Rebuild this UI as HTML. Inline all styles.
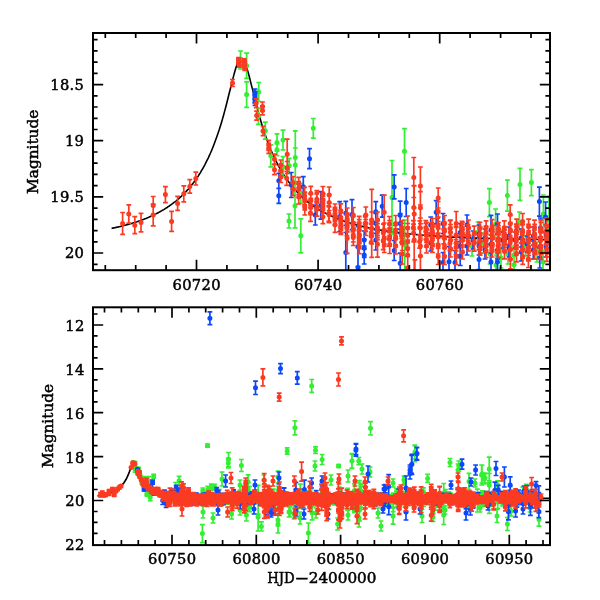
<!DOCTYPE html>
<html lang="en"><head><meta charset="utf-8"><title>Light curve</title>
<style>html,body{margin:0;padding:0;background:#fff}svg{display:block}</style></head>
<body>
<svg width="600" height="600" viewBox="0 0 600 600">
<defs><clipPath id="c1"><rect x="93.0" y="33.0" width="457.0" height="237.2"/></clipPath><clipPath id="c2"><rect x="93.0" y="307.3" width="457.0" height="237.8"/></clipPath></defs>
<rect width="600" height="600" fill="#fff"/>
<path clip-path="url(#c1)" d="M111.6 228.4L112.7 228.1L113.8 227.9L114.9 227.7L116 227.4L117.1 227.2L118.2 226.9L119.4 226.7L120.5 226.4L121.6 226.1L122.7 225.9L123.8 225.6L124.9 225.3L126 225L127.1 224.7L128.2 224.4L129.3 224.1L130.5 223.7L131.6 223.4L132.7 223.1L133.8 222.7L134.9 222.4L136 222L137.1 221.7L138.2 221.3L139.3 220.9L140.4 220.5L141.6 220.1L142.7 219.7L143.8 219.3L144.9 218.8L146 218.4L147.1 217.9L148.2 217.5L149.3 217L150.4 216.5L151.5 216L152.7 215.5L153.8 215L154.9 214.4L156 213.9L157.1 213.3L158.2 212.7L159.3 212.1L160.4 211.5L161.5 210.9L162.6 210.2L163.8 209.6L164.9 208.9L166 208.2L167.1 207.5L168.2 206.7L169.3 206L170.4 205.2L171.5 204.4L172.6 203.6L173.7 202.7L174.9 201.9L176 201L177.1 200L178.2 199.1L179.3 198.1L180.4 197.1L181.5 196.1L182.6 195L183.7 193.9L184.8 192.8L186 191.6L187.1 190.4L188.2 189.2L189.3 187.9L190.4 186.6L191.5 185.2L192.6 183.8L193.7 182.4L194.8 180.9L195.9 179.3L197.1 177.7L198.2 176.1L199.3 174.3L200.4 172.6L201.5 170.7L202.6 168.8L203.7 166.8L204.8 164.8L205.9 162.6L207 160.4L208.2 158.1L209.3 155.7L210.4 153.3L211.5 150.7L212.6 148L213.7 145.2L214.8 142.3L215.9 139.3L217 136.2L218.1 133L219.3 129.6L220.4 126.1L221.5 122.4L222.6 118.6L223.7 114.7L224.8 110.6L225.9 106.5L227 102.2L228.1 97.8L229.2 93.3L230.4 88.8L231.5 84.3L232.6 79.9L233.7 75.6L234.8 71.5L235.9 67.8L237 64.5L238.1 61.8L239.2 59.8L240.3 58.6L241.5 58.2L242.6 58.7L243.7 60.1L244.8 62.2L245.9 65L247 68.4L248.1 72.2L249.2 76.3L250.3 80.6L251.4 85.1L252.6 89.6L253.7 94.1L254.8 98.5L255.9 102.9L257 107.2L258.1 111.4L259.2 115.4L260.3 119.3L261.4 123L262.5 126.7L263.6 130.2L264.8 133.5L265.9 136.8L267 139.9L268.1 142.8L269.2 145.7L270.3 148.5L271.4 151.1L272.5 153.7L273.6 156.2L274.7 158.5L275.9 160.8L277 163L278.1 165.1L279.2 167.2L280.3 169.1L281.4 171L282.5 172.9L283.6 174.6L284.7 176.3L285.8 178L287 179.6L288.1 181.1L289.2 182.6L290.3 184.1L291.4 185.5L292.5 186.8L293.6 188.1L294.7 189.4L295.8 190.6L296.9 191.8L298.1 193L299.2 194.1L300.3 195.2L301.4 196.3L302.5 197.3L303.6 198.3L304.7 199.3L305.8 200.2L306.9 201.1L308 202L309.2 202.9L310.3 203.7L311.4 204.5L312.5 205.3L313.6 206.1L314.7 206.9L315.8 207.6L316.9 208.3L318 209L319.1 209.7L320.3 210.3L321.4 211L322.5 211.6L323.6 212.2L324.7 212.8L325.8 213.4L326.9 214L328 214.5L329.1 215L330.2 215.6L331.4 216.1L332.5 216.6L333.6 217.1L334.7 217.5L335.8 218L336.9 218.5L338 218.9L339.1 219.3L340.2 219.8L341.3 220.2L342.5 220.6L343.6 221L344.7 221.3L345.8 221.7L346.9 222.1L348 222.4L349.1 222.8L350.2 223.1L351.3 223.5L352.4 223.8L353.6 224.1L354.7 224.4L355.8 224.7L356.9 225L358 225.3L359.1 225.6L360.2 225.9L361.3 226.2L362.4 226.4L363.5 226.7L364.7 227L365.8 227.2L366.9 227.5L368 227.7L369.1 227.9L370.2 228.2L371.3 228.4L372.4 228.6L373.5 228.8L374.6 229L375.8 229.3L376.9 229.5L378 229.7L379.1 229.8L380.2 230L381.3 230.2L382.4 230.4L383.5 230.6L384.6 230.8L385.7 230.9L386.9 231.1L388 231.3L389.1 231.4L390.2 231.6L391.3 231.8L392.4 231.9L393.5 232.1L394.6 232.2L395.7 232.4L396.8 232.5L398 232.6L399.1 232.8L400.2 232.9L401.3 233L402.4 233.2L403.5 233.3L404.6 233.4L405.7 233.5L406.8 233.7L407.9 233.8L409 233.9L410.2 234L411.3 234.1L412.4 234.2L413.5 234.3L414.6 234.4L415.7 234.5L416.8 234.6L417.9 234.7L419 234.8L420.1 234.9L421.3 235L422.4 235.1L423.5 235.2L424.6 235.3L425.7 235.4L426.8 235.5L427.9 235.5L429 235.6L430.1 235.7L431.2 235.8L432.4 235.9L433.5 235.9L434.6 236L435.7 236.1L436.8 236.2L437.9 236.2L439 236.3L440.1 236.4L441.2 236.4L442.3 236.5L443.5 236.6L444.6 236.6L445.7 236.7L446.8 236.8L447.9 236.8L449 236.9L450.1 236.9L451.2 237L452.3 237.1L453.4 237.1L454.6 237.2L455.7 237.2L456.8 237.3L457.9 237.3L459 237.4L460.1 237.4L461.2 237.5L462.3 237.5L463.4 237.6L464.5 237.6L465.7 237.7L466.8 237.7L467.9 237.8L469 237.8L470.1 237.9L471.2 237.9L472.3 237.9L473.4 238L474.5 238L475.6 238.1L476.8 238.1L477.9 238.1L479 238.2L480.1 238.2L481.2 238.3L482.3 238.3L483.4 238.3L484.5 238.4L485.6 238.4L486.7 238.4L487.9 238.5L489 238.5L490.1 238.5L491.2 238.6L492.3 238.6L493.4 238.6L494.5 238.7L495.6 238.7L496.7 238.7L497.8 238.7L499 238.8L500.1 238.8L501.2 238.8L502.3 238.9L503.4 238.9L504.5 238.9L505.6 238.9L506.7 239L507.8 239L508.9 239L510.1 239L511.2 239.1L512.3 239.1L513.4 239.1L514.5 239.1L515.6 239.2L516.7 239.2L517.8 239.2L518.9 239.2L520 239.2L521.2 239.3L522.3 239.3L523.4 239.3L524.5 239.3L525.6 239.3L526.7 239.4L527.8 239.4L528.9 239.4L530 239.4L531.1 239.4L532.3 239.5L533.4 239.5L534.5 239.5L535.6 239.5L536.7 239.5L537.8 239.5L538.9 239.6L540 239.6L541.1 239.6L542.2 239.6L543.4 239.6L544.5 239.6L545.6 239.7L546.7 239.7L547.8 239.7L548.9 239.7L550 239.7L551.1 239.7L552.2 239.8L553.3 239.8L554.5 239.8" fill="none" stroke="#000" stroke-width="1.6"/>
<path clip-path="url(#c2)" d="M97.5 495.8L98.4 495.7L99.3 495.6L100.2 495.4L101.1 495.2L102 495.1L102.9 494.9L103.9 494.7L104.8 494.5L105.7 494.2L106.6 494L107.5 493.7L108.4 493.5L109.3 493.2L110.2 492.8L111.2 492.5L112.1 492.1L113 491.7L113.9 491.3L114.8 490.8L115.7 490.3L116.6 489.7L117.6 489.1L118.5 488.4L119.4 487.7L120.3 486.9L121.2 486L122.1 485L123 483.9L123.9 482.7L124.9 481.3L125.8 479.8L126.7 478.1L127.6 476.2L128.5 474.1L129.4 471.7L130.3 469.1L131.2 466.6L132.2 464.3L133.1 462.8L134 462.6L134.9 463.8L135.8 466L136.7 468.6L137.6 471.1L138.6 473.6L139.5 475.7L140.4 477.7L141.3 479.5L142.2 481L143.1 482.4L144 483.7L144.9 484.8L145.9 485.8L146.8 486.7L147.7 487.5L148.6 488.3L149.5 489L150.4 489.6L151.3 490.2L152.3 490.7L153.2 491.2L154.1 491.6L155 492L155.9 492.4L156.8 492.8L157.7 493.1L158.6 493.4L159.6 493.7L160.5 493.9L161.4 494.2L162.3 494.4L163.2 494.6L164.1 494.8L165 495L165.9 495.2L166.9 495.4L167.8 495.5L168.7 495.7L169.6 495.8L170.5 495.9L171.4 496L172.3 496.2L173.3 496.3L174.2 496.4L175.1 496.5L176 496.6L176.9 496.6L177.8 496.7L178.7 496.8L179.6 496.9L180.6 496.9L181.5 497L182.4 497L183.3 497.1L184.2 497.2L185.1 497.2L186 497.3L187 497.3L187.9 497.3L188.8 497.4L189.7 497.4L190.6 497.5L191.5 497.5L192.4 497.5L193.3 497.6L194.3 497.6L195.2 497.6L196.1 497.7L197 497.7L197.9 497.7L198.8 497.7L199.7 497.7L200.6 497.8L201.6 497.8L202.5 497.8L203.4 497.8L204.3 497.8L205.2 497.9L206.1 497.9L207 497.9L208 497.9L208.9 497.9L209.8 497.9L210.7 498L211.6 498L212.5 498L213.4 498L214.3 498L215.3 498L216.2 498L217.1 498L218 498L218.9 498L219.8 498.1L220.7 498.1L221.7 498.1L222.6 498.1L223.5 498.1L224.4 498.1L225.3 498.1L226.2 498.1L227.1 498.1L228 498.1L229 498.1L229.9 498.1L230.8 498.1L231.7 498.1L232.6 498.1L233.5 498.2L234.4 498.2L235.3 498.2L236.3 498.2L237.2 498.2L238.1 498.2L239 498.2L239.9 498.2L240.8 498.2L241.7 498.2L242.7 498.2L243.6 498.2L244.5 498.2L245.4 498.2L246.3 498.2L247.2 498.2L248.1 498.2L249 498.2L250 498.2L250.9 498.2L251.8 498.2L252.7 498.2L253.6 498.2L254.5 498.2L255.4 498.2L256.4 498.2L257.3 498.2L258.2 498.2L259.1 498.2L260 498.2L260.9 498.2L261.8 498.2L262.7 498.2L263.7 498.2L264.6 498.2L265.5 498.2L266.4 498.2L267.3 498.2L268.2 498.3L269.1 498.3L270 498.3L271 498.3L271.9 498.3L272.8 498.3L273.7 498.3L274.6 498.3L275.5 498.3L276.4 498.3L277.4 498.3L278.3 498.3L279.2 498.3L280.1 498.3L281 498.3L281.9 498.3L282.8 498.3L283.7 498.3L284.7 498.3L285.6 498.3L286.5 498.3L287.4 498.3L288.3 498.3L289.2 498.3L290.1 498.3L291.1 498.3L292 498.3L292.9 498.3L293.8 498.3L294.7 498.3L295.6 498.3L296.5 498.3L297.4 498.3L298.4 498.3L299.3 498.3L300.2 498.3L301.1 498.3L302 498.3L302.9 498.3L303.8 498.3L304.7 498.3L305.7 498.3L306.6 498.3L307.5 498.3L308.4 498.3L309.3 498.3L310.2 498.3L311.1 498.3L312.1 498.3L313 498.3L313.9 498.3L314.8 498.3L315.7 498.3L316.6 498.3L317.5 498.3L318.4 498.3L319.4 498.3L320.3 498.3L321.2 498.3L322.1 498.3L323 498.3L323.9 498.3L324.8 498.3L325.8 498.3L326.7 498.3L327.6 498.3L328.5 498.3L329.4 498.3L330.3 498.3L331.2 498.3L332.1 498.3L333.1 498.3L334 498.3L334.9 498.3L335.8 498.3L336.7 498.3L337.6 498.3L338.5 498.3L339.4 498.3L340.4 498.3L341.3 498.3L342.2 498.3L343.1 498.3L344 498.3L344.9 498.3L345.8 498.3L346.8 498.3L347.7 498.3L348.6 498.3L349.5 498.3L350.4 498.3L351.3 498.3L352.2 498.3L353.1 498.3L354.1 498.3L355 498.3L355.9 498.3L356.8 498.3L357.7 498.3L358.6 498.3L359.5 498.3L360.5 498.3L361.4 498.3L362.3 498.3L363.2 498.3L364.1 498.3L365 498.3L365.9 498.3L366.8 498.3L367.8 498.3L368.7 498.3L369.6 498.3L370.5 498.3L371.4 498.3L372.3 498.3L373.2 498.3L374.1 498.3L375.1 498.3L376 498.3L376.9 498.3L377.8 498.3L378.7 498.3L379.6 498.3L380.5 498.3L381.5 498.3L382.4 498.3L383.3 498.3L384.2 498.3L385.1 498.3L386 498.3L386.9 498.3L387.8 498.3L388.8 498.3L389.7 498.3L390.6 498.3L391.5 498.3L392.4 498.3L393.3 498.3L394.2 498.3L395.2 498.3L396.1 498.3L397 498.3L397.9 498.3L398.8 498.3L399.7 498.3L400.6 498.3L401.5 498.3L402.5 498.3L403.4 498.3L404.3 498.3L405.2 498.3L406.1 498.3L407 498.3L407.9 498.3L408.8 498.3L409.8 498.3L410.7 498.3L411.6 498.3L412.5 498.3L413.4 498.3L414.3 498.3L415.2 498.3L416.2 498.3L417.1 498.3L418 498.3L418.9 498.3L419.8 498.3L420.7 498.3L421.6 498.3L422.5 498.3L423.5 498.3L424.4 498.3L425.3 498.3L426.2 498.3L427.1 498.3L428 498.3L428.9 498.3L429.9 498.3L430.8 498.3L431.7 498.3L432.6 498.3L433.5 498.3L434.4 498.3L435.3 498.3L436.2 498.3L437.2 498.3L438.1 498.3L439 498.3L439.9 498.3L440.8 498.3L441.7 498.3L442.6 498.3L443.5 498.3L444.5 498.3L445.4 498.3L446.3 498.3L447.2 498.3L448.1 498.3L449 498.3L449.9 498.3L450.9 498.3L451.8 498.3L452.7 498.3L453.6 498.3L454.5 498.3L455.4 498.3L456.3 498.3L457.2 498.3L458.2 498.3L459.1 498.3L460 498.3L460.9 498.3L461.8 498.3L462.7 498.3L463.6 498.3L464.6 498.3L465.5 498.3L466.4 498.3L467.3 498.3L468.2 498.3L469.1 498.3L470 498.3L470.9 498.3L471.9 498.3L472.8 498.3L473.7 498.3L474.6 498.3L475.5 498.3L476.4 498.3L477.3 498.3L478.2 498.3L479.2 498.3L480.1 498.3L481 498.3L481.9 498.3L482.8 498.3L483.7 498.3L484.6 498.3L485.6 498.3L486.5 498.3L487.4 498.3L488.3 498.3L489.2 498.3L490.1 498.3L491 498.3L491.9 498.3L492.9 498.3L493.8 498.3L494.7 498.3L495.6 498.3L496.5 498.3L497.4 498.3L498.3 498.3L499.3 498.3L500.2 498.3L501.1 498.3L502 498.3L502.9 498.3L503.8 498.3L504.7 498.3L505.6 498.3L506.6 498.3L507.5 498.3L508.4 498.3L509.3 498.3L510.2 498.3L511.1 498.3L512 498.3L512.9 498.3L513.9 498.3L514.8 498.3L515.7 498.3L516.6 498.3L517.5 498.3L518.4 498.3L519.3 498.3L520.3 498.3L521.2 498.3L522.1 498.3L523 498.3L523.9 498.3L524.8 498.3L525.7 498.3L526.6 498.3L527.6 498.3L528.5 498.3L529.4 498.3L530.3 498.3L531.2 498.3L532.1 498.3L533 498.3L534 498.3L534.9 498.3L535.8 498.3L536.7 498.3L537.6 498.3L538.5 498.3L539.4 498.3L540.3 498.3L541.3 498.3L542.2 498.3L543.1 498.3L544 498.3L544.9 498.3L545.8 498.3L546.7 498.3L547.6 498.3L548.6 498.3L549.5 498.3L550.4 498.3L551.3 498.3L552.2 498.3L553.1 498.3" fill="none" stroke="#000" stroke-width="1.7"/>
<g clip-path="url(#c1)" stroke="#33ee33" fill="none"><path stroke-width="1.7" d="M240.5 51V69M238.1 51h4.8M238.1 69h4.8M246.6 53.1V78.3M244.2 53.1h4.8M244.2 78.3h4.8M246.6 81.8V107.4M244.2 81.8h4.8M244.2 107.4h4.8M258.7 82.5V101.5M256.3 82.5h4.8M256.3 101.5h4.8M258.4 108.3V124.3M256 108.3h4.8M256 124.3h4.8M265.3 122.2V139.2M262.9 122.2h4.8M262.9 139.2h4.8M270.8 144.8V166.8M268.4 144.8h4.8M268.4 166.8h4.8M277 133.8V151.2M274.6 133.8h4.8M274.6 151.2h4.8M277 143.7V155.7M274.6 143.7h4.8M274.6 155.7h4.8M283 130.2V149.8M280.6 130.2h4.8M280.6 149.8h4.8M283 156.7V176.7M280.6 156.7h4.8M280.6 176.7h4.8M289.2 158.3V173.3M286.8 158.3h4.8M286.8 173.3h4.8M295.3 130.8V184.2M292.9 130.8h4.8M292.9 184.2h4.8M295.3 148V182M292.9 148h4.8M292.9 182h4.8M295 183.8V227.8M292.6 183.8h4.8M292.6 227.8h4.8M289 214V228M286.6 214h4.8M286.6 228h4.8M300.8 183.3V203.3M298.4 183.3h4.8M298.4 203.3h4.8M300.8 218.8V252.8M298.4 218.8h4.8M298.4 252.8h4.8M313.3 118.5V138.1M310.9 118.5h4.8M310.9 138.1h4.8M392 160.5V234.5M389.6 160.5h4.8M389.6 234.5h4.8M404.5 128.6V174M402.1 128.6h4.8M402.1 174h4.8M404.7 220V270M402.3 220h4.8M402.3 270h4.8M489.4 188.6V216.6M487 188.6h4.8M487 216.6h4.8M507.4 180.1V211.1M505 180.1h4.8M505 211.1h4.8M520 168.4V200.4M517.6 168.4h4.8M517.6 200.4h4.8M531.4 169.6V195.6M529 169.6h4.8M529 195.6h4.8M495.6 209V239M493.2 209h4.8M493.2 239h4.8M519.4 212V232M517 212h4.8M517 232h4.8M543.4 195V233M541 195h4.8M541 233h4.8M549 196V244M546.6 196h4.8M546.6 244h4.8M506.4 -35.2V-19.9M504 -35.2h4.8M504 -19.9h4.8M558.4 106.7V178.2M556 106.7h4.8M556 178.2h4.8M488.1 375.2V467.1M485.7 375.2h4.8M485.7 467.1h4.8M490.2 280.3V341.5M487.8 280.3h4.8M487.8 341.5h4.8M526.1 316V367.1M523.7 316h4.8M523.7 367.1h4.8M496 255V275M493.6 255h4.8M493.6 275h4.8M514 246V264M511.6 246h4.8M511.6 264h4.8M514 254.7V274.7M511.6 254.7h4.8M511.6 274.7h4.8M508 244V264M505.6 244h4.8M505.6 264h4.8M490 244V264M487.6 244h4.8M487.6 264h4.8M501 248V268M498.6 248h4.8M498.6 268h4.8M543 250V274M540.6 250h4.8M540.6 274h4.8M484 233V253M481.6 233h4.8M481.6 253h4.8M478 222V242M475.6 222h4.8M475.6 242h4.8M502 230V250M499.6 230h4.8M499.6 250h4.8M525.5 236V256M523.1 236h4.8M523.1 256h4.8M537 242V262M534.6 242h4.8M534.6 262h4.8M472 236V256M469.6 236h4.8M469.6 256h4.8M555.4 230V257M553 230h4.8M553 257h4.8M555 242.7V279.5M552.6 242.7h4.8M552.6 279.5h4.8"/><path stroke-width="5" stroke-linecap="round" d="M240.5 60h0M246.6 65.7h0M246.6 94.6h0M258.7 92h0M258.4 116.3h0M265.3 130.7h0M270.8 155.8h0M277 142.5h0M277 149.7h0M283 140h0M283 166.7h0M289.2 165.8h0M295.3 157.5h0M295.3 165h0M295 205.8h0M289 221h0M300.8 193.3h0M300.8 235.8h0M313.3 128.3h0M392 197.5h0M404.5 151.3h0M404.7 245h0M489.4 202.6h0M507.4 195.6h0M520 184.4h0M531.4 182.6h0M495.6 224h0M519.4 222h0M543.4 214h0M549 220h0M506.4 -27.5h0M558.4 142.4h0M488.1 421.2h0M490.2 310.9h0M526.1 341.5h0M496 265h0M514 255h0M514 264.7h0M508 254h0M490 254h0M501 258h0M543 262h0M484 243h0M478 232h0M502 240h0M525.5 246h0M537 252h0M472 246h0M555.4 243.5h0M555 261.1h0"/></g>
<g clip-path="url(#c1)" stroke="#0c48fa" fill="none"><path stroke-width="1.7" d="M255 89V97M252.6 89h4.8M252.6 97h4.8M255 91.5V99.5M252.6 91.5h4.8M252.6 99.5h4.8M254.8 94.8V102.8M252.4 94.8h4.8M252.4 102.8h4.8M255 97.3V105.3M252.6 97.3h4.8M252.6 105.3h4.8M278.8 173.3V188.3M276.4 173.3h4.8M276.4 188.3h4.8M278.8 188.3V203.3M276.4 188.3h4.8M276.4 203.3h4.8M291.3 172.5V197.5M288.9 172.5h4.8M288.9 197.5h4.8M303.3 176.7V196.7M300.9 176.7h4.8M300.9 196.7h4.8M309.5 148.7V168.7M307.1 148.7h4.8M307.1 168.7h4.8M315.3 205V225M312.9 205h4.8M312.9 225h4.8M320.8 191.7V219.1M318.4 191.7h4.8M318.4 219.1h4.8M339.7 201.7V231.7M337.3 201.7h4.8M337.3 231.7h4.8M345.8 201.3V225.3M343.4 201.3h4.8M343.4 225.3h4.8M345.8 232.5V272.5M343.4 232.5h4.8M343.4 272.5h4.8M352 199.6V229.6M349.6 199.6h4.8M349.6 229.6h4.8M358 226.7V266.7M355.6 226.7h4.8M355.6 266.7h4.8M358 247.5V287.5M355.6 247.5h4.8M355.6 287.5h4.8M364.2 231V249M361.8 231h4.8M361.8 249h4.8M364.2 239.3V257.3M361.8 239.3h4.8M361.8 257.3h4.8M364.2 246V264M361.8 246h4.8M361.8 264h4.8M375.8 201.7V221.7M373.4 201.7h4.8M373.4 221.7h4.8M375.8 213.3V233.3M373.4 213.3h4.8M373.4 233.3h4.8M375.8 230V250M373.4 230h4.8M373.4 250h4.8M382.2 195.2V217.2M379.8 195.2h4.8M379.8 217.2h4.8M394.2 174.9V198.9M391.8 174.9h4.8M391.8 198.9h4.8M394.2 240.5V260.5M391.8 240.5h4.8M391.8 260.5h4.8M400.2 201.2V229.2M397.8 201.2h4.8M397.8 229.2h4.8M400.2 213.5V233.5M397.8 213.5h4.8M397.8 233.5h4.8M400.2 253.2V273.2M397.8 253.2h4.8M397.8 273.2h4.8M406.2 188.5V216.5M403.8 188.5h4.8M403.8 216.5h4.8M430.7 217V233M428.3 217h4.8M428.3 233h4.8M430.7 235V251M428.3 235h4.8M428.3 251h4.8M436.2 200.6V223.8M433.8 200.6h4.8M433.8 223.8h4.8M443 213.5V233.5M440.6 213.5h4.8M440.6 233.5h4.8M443 252.5V272.5M440.6 252.5h4.8M440.6 272.5h4.8M449 246.7V276.7M446.6 246.7h4.8M446.6 276.7h4.8M455 250.5V274.5M452.6 250.5h4.8M452.6 274.5h4.8M460.2 223.5V241.5M457.8 223.5h4.8M457.8 241.5h4.8M460.2 237V255M457.8 237h4.8M457.8 255h4.8M460.2 247.5V265.5M457.8 247.5h4.8M457.8 265.5h4.8M467 215V235M464.6 215h4.8M464.6 235h4.8M539.4 187.1V216.1M537 187.1h4.8M537 216.1h4.8M545.6 202V232M543.2 202h4.8M543.2 232h4.8M540.4 218V238M538 218h4.8M538 238h4.8M491 215.4V244.6M488.6 215.4h4.8M488.6 244.6h4.8M479 249.6V269.6M476.6 249.6h4.8M476.6 269.6h4.8M515 -711.1V-645.7M512.6 -711.1h4.8M512.6 -645.7h4.8M544 275.2V326.2M541.6 275.2h4.8M541.6 326.2h4.8M479 225V243M476.6 225h4.8M476.6 243h4.8M479 237V255M476.6 237h4.8M476.6 255h4.8M485 229V247M482.6 229h4.8M482.6 247h4.8M485 241V259M482.6 241h4.8M482.6 259h4.8M491 235V253M488.6 235h4.8M488.6 253h4.8M491 253V271M488.6 253h4.8M488.6 271h4.8M497.5 214V234M495.1 214h4.8M495.1 234h4.8M497.5 241V259M495.1 241h4.8M495.1 259h4.8M497.5 253V271M495.1 253h4.8M495.1 271h4.8M503 232V248M500.6 232h4.8M500.6 248h4.8M509 227V245M506.6 227h4.8M506.6 245h4.8M509 239V257M506.6 239h4.8M506.6 257h4.8M515.1 232V248M512.7 232h4.8M512.7 248h4.8M521.2 229V247M518.8 229h4.8M518.8 247h4.8M521.2 243V261M518.8 243h4.8M518.8 261h4.8M527.2 236V252M524.8 236h4.8M524.8 252h4.8M533.3 227V245M530.9 227h4.8M530.9 245h4.8M533.3 241V259M530.9 241h4.8M530.9 259h4.8M539.8 237V257M537.4 237h4.8M537.4 257h4.8M539.8 248V268M537.4 248h4.8M537.4 268h4.8M546 224.6V244.6M543.6 224.6h4.8M543.6 244.6h4.8M546 237V257M543.6 237h4.8M543.6 257h4.8M473 231V249M470.6 231h4.8M470.6 249h4.8M467 237V255M464.6 237h4.8M464.6 255h4.8"/><path stroke-width="5" stroke-linecap="round" d="M255 93h0M255 95.5h0M254.8 98.8h0M255 101.3h0M278.8 180.8h0M278.8 195.8h0M291.3 185h0M303.3 186.7h0M309.5 158.7h0M315.3 215h0M320.8 205.4h0M339.7 216.7h0M345.8 213.3h0M345.8 252.5h0M352 214.6h0M358 246.7h0M358 267.5h0M364.2 240h0M364.2 248.3h0M364.2 255h0M375.8 211.7h0M375.8 223.3h0M375.8 240h0M382.2 206.2h0M394.2 186.9h0M394.2 250.5h0M400.2 215.2h0M400.2 223.5h0M400.2 263.2h0M406.2 202.5h0M430.7 225h0M430.7 243h0M436.2 212.2h0M443 223.5h0M443 262.5h0M449 261.7h0M455 262.5h0M460.2 232.5h0M460.2 246h0M460.2 256.5h0M467 225h0M539.4 201.6h0M545.6 217h0M540.4 228h0M491 230h0M479 259.6h0M515 -678.4h0M544 300.7h0M479 234h0M479 246h0M485 238h0M485 250h0M491 244h0M491 262h0M497.5 224h0M497.5 250h0M497.5 262h0M503 240h0M509 236h0M509 248h0M515.1 240h0M521.2 238h0M521.2 252h0M527.2 244h0M533.3 236h0M533.3 250h0M539.8 247h0M539.8 258h0M546 234.6h0M546 247h0M473 240h0M467 246h0"/></g>
<g clip-path="url(#c1)" stroke="#fb3a22" fill="none"><path stroke-width="1.7" d="M122.6 212.5V234.3M120.2 212.5h4.8M120.2 234.3h4.8M128.8 204.8V223.2M126.4 204.8h4.8M126.4 223.2h4.8M134.8 216.7V233.7M132.4 216.7h4.8M132.4 233.7h4.8M141 213.4V231.8M138.6 213.4h4.8M138.6 231.8h4.8M153.2 196.5V214.3M150.8 196.5h4.8M150.8 214.3h4.8M153.2 204.2V225.8M150.8 204.2h4.8M150.8 225.8h4.8M165.4 186.6V202.6M163 186.6h4.8M163 202.6h4.8M171.6 211.4V231.4M169.2 211.4h4.8M169.2 231.4h4.8M177.6 196.4V210.4M175.2 196.4h4.8M175.2 210.4h4.8M183.8 185.8V201.8M181.4 185.8h4.8M181.4 201.8h4.8M189.8 179.7V193.1M187.4 179.7h4.8M187.4 193.1h4.8M195.8 172.2V185M193.4 172.2h4.8M193.4 185h4.8M232.5 79.5V86.5M230.1 79.5h4.8M230.1 86.5h4.8M238.4 57.5V62.5M236 57.5h4.8M236 62.5h4.8M238.6 58.8V63.8M236.2 58.8h4.8M236.2 63.8h4.8M238.9 60.1V65.1M236.5 60.1h4.8M236.5 65.1h4.8M239.2 61.4V66.4M236.8 61.4h4.8M236.8 66.4h4.8M239.4 62.2V67.2M237 62.2h4.8M237 67.2h4.8M244.2 58.8V65.2M241.8 58.8h4.8M241.8 65.2h4.8M244.4 60.5V66.9M242 60.5h4.8M242 66.9h4.8M244.6 62V68.6M242.2 62h4.8M242.2 68.6h4.8M244.8 63.6V70.4M242.4 63.6h4.8M242.4 70.4h4.8M256.2 98.9V107.7M253.8 98.9h4.8M253.8 107.7h4.8M256.6 111.1V120.1M254.2 111.1h4.8M254.2 120.1h4.8M262.5 102V111M260.1 102h4.8M260.1 111h4.8M262.5 105.9V114.9M260.1 105.9h4.8M260.1 114.9h4.8M263 126.3V135.7M260.6 126.3h4.8M260.6 135.7h4.8M268.7 140.3V150.3M266.3 140.3h4.8M266.3 150.3h4.8M268.7 143.3V153.3M266.3 143.3h4.8M266.3 153.3h4.8M274.5 154.2V164.2M272.1 154.2h4.8M272.1 164.2h4.8M274.5 164.7V174.7M272.1 164.7h4.8M272.1 174.7h4.8M280.8 160V170M278.4 160h4.8M278.4 170h4.8M280.8 165.8V175.8M278.4 165.8h4.8M278.4 175.8h4.8M280.8 171.5V182.5M278.4 171.5h4.8M278.4 182.5h4.8M287.2 139.2V169.2M284.8 139.2h4.8M284.8 169.2h4.8M287.2 161.5V173.5M284.8 161.5h4.8M284.8 173.5h4.8M286.7 171.3V185.3M284.3 171.3h4.8M284.3 185.3h4.8M293 176.5V188.5M290.6 176.5h4.8M290.6 188.5h4.8M293 182.7V195.7M290.6 182.7h4.8M290.6 195.7h4.8M298.7 177.3V190.3M296.3 177.3h4.8M296.3 190.3h4.8M298.7 181.5V194.5M296.3 181.5h4.8M296.3 194.5h4.8M298.7 190V204M296.3 190h4.8M296.3 204h4.8M304.8 192.2V206.2M302.4 192.2h4.8M302.4 206.2h4.8M304.8 200V215M302.4 200h4.8M302.4 215h4.8M310.8 186.3V200.3M308.4 186.3h4.8M308.4 200.3h4.8M310.8 193.8V207.8M308.4 193.8h4.8M308.4 207.8h4.8M310.8 198.3V213.3M308.4 198.3h4.8M308.4 213.3h4.8M317 192.5V206.5M314.6 192.5h4.8M314.6 206.5h4.8M317 202.2V216.2M314.6 202.2h4.8M314.6 216.2h4.8M322.9 186.5V200.5M320.5 186.5h4.8M320.5 200.5h4.8M322.9 193.8V207.8M320.5 193.8h4.8M320.5 207.8h4.8M322.9 198.8V212.8M320.5 198.8h4.8M320.5 212.8h4.8M322.9 209.7V223.7M320.5 209.7h4.8M320.5 223.7h4.8M329.2 187V203M326.8 187h4.8M326.8 203h4.8M329.2 194.5V210.5M326.8 194.5h4.8M326.8 210.5h4.8M335 204V216M332.6 204h4.8M332.6 216h4.8M335 209V221M332.6 209h4.8M332.6 221h4.8M335 213.2V225.2M332.6 213.2h4.8M332.6 225.2h4.8M340.8 203.8V217.8M338.4 203.8h4.8M338.4 217.8h4.8M340.8 213V227M338.4 213h4.8M338.4 227h4.8M340.8 216.3V230.3M338.4 216.3h4.8M338.4 230.3h4.8M340.8 220.5V234.5M338.4 220.5h4.8M338.4 234.5h4.8M347.2 208V222M344.8 208h4.8M344.8 222h4.8M347.2 213V227M344.8 213h4.8M344.8 227h4.8M347.2 218V232M344.8 218h4.8M344.8 232h4.8M347.2 223.3V253.3M344.8 223.3h4.8M344.8 253.3h4.8M353.3 207.5V222.5M350.9 207.5h4.8M350.9 222.5h4.8M353.3 216.3V230.3M350.9 216.3h4.8M350.9 230.3h4.8M353.3 222.2V236.2M350.9 222.2h4.8M350.9 236.2h4.8M353.3 228V242M350.9 228h4.8M350.9 242h4.8M359.2 216.3V230.3M356.8 216.3h4.8M356.8 230.3h4.8M359.2 219.7V233.7M356.8 219.7h4.8M356.8 233.7h4.8M359.2 229.7V243.7M356.8 229.7h4.8M356.8 243.7h4.8M359.2 234.7V248.7M356.8 234.7h4.8M356.8 248.7h4.8M359.2 239.7V253.7M356.8 239.7h4.8M356.8 253.7h4.8M365.8 207V223M363.4 207h4.8M363.4 223h4.8M365.8 215.3V231.3M363.4 215.3h4.8M363.4 231.3h4.8M365.8 219.5V235.5M363.4 219.5h4.8M363.4 235.5h4.8M371.7 212V228M369.3 212h4.8M369.3 228h4.8M371.7 220.3V236.3M369.3 220.3h4.8M369.3 236.3h4.8M371.7 227.8V243.8M369.3 227.8h4.8M369.3 243.8h4.8M371.7 189.3V257.3M369.3 189.3h4.8M369.3 257.3h4.8M377.5 212V228M375.1 212h4.8M375.1 228h4.8M377.5 223.7V239.7M375.1 223.7h4.8M375.1 239.7h4.8M377.5 231.2V257.2M375.1 231.2h4.8M375.1 257.2h4.8M384.2 195.2V229.2M381.8 195.2h4.8M381.8 229.2h4.8M384.2 223V239M381.8 223h4.8M381.8 239h4.8M384.2 230.5V246.5M381.8 230.5h4.8M381.8 246.5h4.8M384.2 236.5V252.5M381.8 236.5h4.8M381.8 252.5h4.8M389.7 220.5V238.5M387.3 220.5h4.8M387.3 238.5h4.8M389.7 228V246M387.3 228h4.8M387.3 246h4.8M389.7 235.5V253.5M387.3 235.5h4.8M387.3 253.5h4.8M395.7 215.5V231.5M393.3 215.5h4.8M393.3 231.5h4.8M395.7 223V239M393.3 223h4.8M393.3 239h4.8M395.7 230.5V246.5M393.3 230.5h4.8M393.3 246.5h4.8M395.7 238V254M393.3 238h4.8M393.3 254h4.8M402.2 220.5V238.5M399.8 220.5h4.8M399.8 238.5h4.8M402.2 226.5V244.5M399.8 226.5h4.8M399.8 244.5h4.8M402.2 232.5V250.5M399.8 232.5h4.8M399.8 250.5h4.8M402.2 244V264M399.8 244h4.8M399.8 264h4.8M407.7 216V240M405.3 216h4.8M405.3 240h4.8M407.7 223.5V247.5M405.3 223.5h4.8M405.3 247.5h4.8M407.7 243V267M405.3 243h4.8M405.3 267h4.8M407.7 256V280M405.3 256h4.8M405.3 280h4.8M413.8 157.5V197.5M411.4 157.5h4.8M411.4 197.5h4.8M413.8 185.5V229.5M411.4 185.5h4.8M411.4 229.5h4.8M414.2 186V242M411.8 186h4.8M411.8 242h4.8M414.2 208V272M411.8 208h4.8M411.8 272h4.8M420.4 167V205M418 167h4.8M418 205h4.8M420.4 191.7V223.7M418 191.7h4.8M418 223.7h4.8M420.4 218V238M418 218h4.8M418 238h4.8M420.4 236V256M418 236h4.8M418 256h4.8M420.4 240V272M418 240h4.8M418 272h4.8M426.5 222.5V236.5M424.1 222.5h4.8M424.1 236.5h4.8M426.5 228.5V242.5M424.1 228.5h4.8M424.1 242.5h4.8M426.5 233V247M424.1 233h4.8M424.1 247h4.8M426.5 239V253M424.1 239h4.8M424.1 253h4.8M432.5 218.5V234.5M430.1 218.5h4.8M430.1 234.5h4.8M432.5 224.5V240.5M430.1 224.5h4.8M430.1 240.5h4.8M432.5 230.5V246.5M430.1 230.5h4.8M430.1 246.5h4.8M432.5 236.5V252.5M430.1 236.5h4.8M430.1 252.5h4.8M438.2 188V208M435.8 188h4.8M435.8 208h4.8M438.2 201.5V221.5M435.8 201.5h4.8M435.8 221.5h4.8M438.2 217V233M435.8 217h4.8M435.8 233h4.8M438.2 229V245M435.8 229h4.8M435.8 245h4.8M438.2 238V254M435.8 238h4.8M435.8 254h4.8M438.2 248.5V264.5M435.8 248.5h4.8M435.8 264.5h4.8M444.5 215.5V231.5M442.1 215.5h4.8M442.1 231.5h4.8M444.5 223V239M442.1 223h4.8M442.1 239h4.8M444.5 229V245M442.1 229h4.8M442.1 245h4.8M444.5 239.5V255.5M442.1 239.5h4.8M442.1 255.5h4.8M444.5 248.5V264.5M442.1 248.5h4.8M442.1 264.5h4.8M450.5 220V236M448.1 220h4.8M448.1 236h4.8M450.5 224.5V240.5M448.1 224.5h4.8M448.1 240.5h4.8M450.5 232V248M448.1 232h4.8M448.1 248h4.8M450.5 241V257M448.1 241h4.8M448.1 257h4.8M456.2 211.5V235.5M453.8 211.5h4.8M453.8 235.5h4.8M456.2 227.5V243.5M453.8 227.5h4.8M453.8 243.5h4.8M456.2 235V251M453.8 235h4.8M453.8 251h4.8M456.2 248.5V264.5M453.8 248.5h4.8M453.8 264.5h4.8M462.5 222.5V236.5M460.1 222.5h4.8M460.1 236.5h4.8M462.5 227V241M460.1 227h4.8M460.1 241h4.8M462.5 233V247M460.1 233h4.8M460.1 247h4.8M462.5 245V259M460.1 245h4.8M460.1 259h4.8M468.5 220V236M466.1 220h4.8M466.1 236h4.8M468.5 227.5V243.5M466.1 227.5h4.8M466.1 243.5h4.8M468.5 235V251M466.1 235h4.8M466.1 251h4.8M304.8 192.9V209.8M302.4 192.9h4.8M302.4 209.8h4.8M304.6 187.4V204.8M302.2 187.4h4.8M302.2 204.8h4.8M310.5 204.4V221.4M308.1 204.4h4.8M308.1 221.4h4.8M310.7 200V214.7M308.3 200h4.8M308.3 214.7h4.8M316.7 194V209.7M314.3 194h4.8M314.3 209.7h4.8M316.8 190.7V207.7M314.4 190.7h4.8M314.4 207.7h4.8M322.9 196V210.4M320.5 196h4.8M320.5 210.4h4.8M322.7 196.4V210M320.3 196.4h4.8M320.3 210h4.8M328.7 205.8V221.3M326.3 205.8h4.8M326.3 221.3h4.8M329.1 206.8V222.6M326.7 206.8h4.8M326.7 222.6h4.8M335 207.3V221.6M332.6 207.3h4.8M332.6 221.6h4.8M335 217.3V232.4M332.6 217.3h4.8M332.6 232.4h4.8M340.8 218.8V233M338.4 218.8h4.8M338.4 233h4.8M340.9 212.9V228.6M338.5 212.9h4.8M338.5 228.6h4.8M347.2 214.3V231.1M344.8 214.3h4.8M344.8 231.1h4.8M346.9 220V235.7M344.5 220h4.8M344.5 235.7h4.8M353.3 229.4V245.5M350.9 229.4h4.8M350.9 245.5h4.8M352.9 217V231.9M350.5 217h4.8M350.5 231.9h4.8M359 222.6V237.7M356.6 222.6h4.8M356.6 237.7h4.8M359.4 227.3V243.4M357 227.3h4.8M357 243.4h4.8M365.3 216.9V231M362.9 216.9h4.8M362.9 231h4.8M365.2 215.6V230.8M362.8 215.6h4.8M362.8 230.8h4.8M371.1 228.8V243.2M368.7 228.8h4.8M368.7 243.2h4.8M371.3 224.1V241.4M368.9 224.1h4.8M368.9 241.4h4.8M377.4 220.3V237.5M375 220.3h4.8M375 237.5h4.8M377.5 219.4V235.4M375.1 219.4h4.8M375.1 235.4h4.8M383.2 232V249.6M380.8 232h4.8M380.8 249.6h4.8M383.4 224.2V241.6M381 224.2h4.8M381 241.6h4.8M389.5 216.5V231.6M387.1 216.5h4.8M387.1 231.6h4.8M389.4 232.5V246.1M387 232.5h4.8M387 246.1h4.8M395.6 228.9V244.8M393.2 228.9h4.8M393.2 244.8h4.8M395.4 225.5V239M393 225.5h4.8M393 239h4.8M401.4 228.4V242.4M399 228.4h4.8M399 242.4h4.8M401.7 223.4V238.7M399.3 223.4h4.8M399.3 238.7h4.8M407.6 241.3V256.3M405.2 241.3h4.8M405.2 256.3h4.8M407.6 227.6V242.6M405.2 227.6h4.8M405.2 242.6h4.8M413.6 224.2V241.7M411.2 224.2h4.8M411.2 241.7h4.8M413.4 220.6V234.1M411 220.6h4.8M411 234.1h4.8M419.8 220.8V234.8M417.4 220.8h4.8M417.4 234.8h4.8M419.6 234.7V248.2M417.2 234.7h4.8M417.2 248.2h4.8M425.8 223.5V239.3M423.4 223.5h4.8M423.4 239.3h4.8M425.8 220.6V234.9M423.4 220.6h4.8M423.4 234.9h4.8M431.7 234V249M429.3 234h4.8M429.3 249h4.8M432 222.7V237.6M429.6 222.7h4.8M429.6 237.6h4.8M437.7 218.2V233.6M435.3 218.2h4.8M435.3 233.6h4.8M438 227.9V243.7M435.6 227.9h4.8M435.6 243.7h4.8M444 222V238.1M441.6 222h4.8M441.6 238.1h4.8M443.8 228.6V243.9M441.4 228.6h4.8M441.4 243.9h4.8M450.1 220.7V236M447.7 220.7h4.8M447.7 236h4.8M449.9 236.1V250.7M447.5 236.1h4.8M447.5 250.7h4.8M456.1 226.7V243.4M453.7 226.7h4.8M453.7 243.4h4.8M456 239.6V254.5M453.6 239.6h4.8M453.6 254.5h4.8M462 221.4V235.1M459.6 221.4h4.8M459.6 235.1h4.8M461.9 224.4V241.6M459.5 224.4h4.8M459.5 241.6h4.8M467.9 224.8V240.4M465.5 224.8h4.8M465.5 240.4h4.8M468.1 229V243.8M465.7 229h4.8M465.7 243.8h4.8M474.3 234.8V251.1M471.9 234.8h4.8M471.9 251.1h4.8M474.2 226.1V239.8M471.8 226.1h4.8M471.8 239.8h4.8M414.9 259.9V331.3M412.5 259.9h4.8M412.5 331.3h4.8M479.9 222.3V234.9M477.5 222.3h4.8M477.5 234.9h4.8M480.2 227.2V240.4M477.8 227.2h4.8M477.8 240.4h4.8M480 228V242M477.6 228h4.8M477.6 242h4.8M480 234.4V246.8M477.6 234.4h4.8M477.6 246.8h4.8M480.2 240V253.2M477.8 240h4.8M477.8 253.2h4.8M480.1 242.6V255.2M477.7 242.6h4.8M477.7 255.2h4.8M486.1 220.9V234.3M483.7 220.9h4.8M483.7 234.3h4.8M486 226.1V239.8M483.6 226.1h4.8M483.6 239.8h4.8M486.1 231.1V245.4M483.7 231.1h4.8M483.7 245.4h4.8M486 234.7V247M483.6 234.7h4.8M483.6 247h4.8M486 239.7V252.5M483.6 239.7h4.8M483.6 252.5h4.8M486.1 243.6V257.5M483.7 243.6h4.8M483.7 257.5h4.8M492.1 219.7V234.4M489.7 219.7h4.8M489.7 234.4h4.8M492.2 225.4V237.6M489.8 225.4h4.8M489.8 237.6h4.8M492.4 229.3V243.8M490 229.3h4.8M490 243.8h4.8M492.3 231.9V244.1M489.9 231.9h4.8M489.9 244.1h4.8M492.3 239.4V252M489.9 239.4h4.8M489.9 252h4.8M492.1 242.8V257M489.7 242.8h4.8M489.7 257h4.8M498.5 222.5V235M496.1 222.5h4.8M496.1 235h4.8M498.4 225.7V239.9M496 225.7h4.8M496 239.9h4.8M498.5 231.1V245.7M496.1 231.1h4.8M496.1 245.7h4.8M498.4 234.4V248.3M496 234.4h4.8M496 248.3h4.8M498.1 238.4V252.6M495.7 238.4h4.8M495.7 252.6h4.8M498.4 244.4V257.5M496 244.4h4.8M496 257.5h4.8M504.3 220.9V235.4M501.9 220.9h4.8M501.9 235.4h4.8M504.4 226.7V240.3M502 226.7h4.8M502 240.3h4.8M504.5 230.1V244.6M502.1 230.1h4.8M502.1 244.6h4.8M504.6 234.9V247.3M502.2 234.9h4.8M502.2 247.3h4.8M504.5 237.8V250.2M502.1 237.8h4.8M502.1 250.2h4.8M504.5 244.1V258.8M502.1 244.1h4.8M502.1 258.8h4.8M510.2 204.9V223.9M507.8 204.9h4.8M507.8 223.9h4.8M510.2 215.3V232.2M507.8 215.3h4.8M507.8 232.2h4.8M510.4 222.6V237.5M508 222.6h4.8M508 237.5h4.8M510.6 230.5V248.4M508.2 230.5h4.8M508.2 248.4h4.8M510.2 235.7V249.9M507.8 235.7h4.8M507.8 249.9h4.8M510.3 240.9V258.5M507.9 240.9h4.8M507.9 258.5h4.8M510.4 249.9V268.8M508 249.9h4.8M508 268.8h4.8M516.6 219.2V234.5M514.2 219.2h4.8M514.2 234.5h4.8M516.4 224.1V238.8M514 224.1h4.8M514 238.8h4.8M516.2 229.9V244.5M513.8 229.9h4.8M513.8 244.5h4.8M516.3 232.8V249.3M513.9 232.8h4.8M513.9 249.3h4.8M516.3 239.9V255.2M513.9 239.9h4.8M513.9 255.2h4.8M516.5 245.2V261.8M514.1 245.2h4.8M514.1 261.8h4.8M522.6 213.5V229.5M520.2 213.5h4.8M520.2 229.5h4.8M522.6 224.1V239M520.2 224.1h4.8M520.2 239h4.8M522.3 224.8V243.7M519.9 224.8h4.8M519.9 243.7h4.8M522.7 232.2V251M520.3 232.2h4.8M520.3 251h4.8M522.4 241.9V258.4M520 241.9h4.8M520 258.4h4.8M522.7 248.7V264.3M520.3 248.7h4.8M520.3 264.3h4.8M528.6 219.1V234.3M526.2 219.1h4.8M526.2 234.3h4.8M528.5 224.4V242.2M526.1 224.4h4.8M526.1 242.2h4.8M528.7 230.8V248.3M526.3 230.8h4.8M526.3 248.3h4.8M528.7 237.8V255.5M526.3 237.8h4.8M526.3 255.5h4.8M528.5 243.1V260.9M526.1 243.1h4.8M526.1 260.9h4.8M528.4 250.5V267.5M526 250.5h4.8M526 267.5h4.8M534.5 220.1V234.8M532.1 220.1h4.8M532.1 234.8h4.8M534.6 224.3V243.1M532.2 224.3h4.8M532.2 243.1h4.8M534.6 230V245.4M532.2 230h4.8M532.2 245.4h4.8M534.8 235.1V252.3M532.4 235.1h4.8M532.4 252.3h4.8M534.8 238.3V254.4M532.4 238.3h4.8M532.4 254.4h4.8M534.7 243.4V259.1M532.3 243.4h4.8M532.3 259.1h4.8M540.7 219.8V236.6M538.3 219.8h4.8M538.3 236.6h4.8M540.8 222.4V240.1M538.4 222.4h4.8M538.4 240.1h4.8M540.4 231.3V247.7M538 231.3h4.8M538 247.7h4.8M540.6 232.3V248.9M538.2 232.3h4.8M538.2 248.9h4.8M540.8 237.7V254.5M538.4 237.7h4.8M538.4 254.5h4.8M540.7 245.2V259.4M538.3 245.2h4.8M538.3 259.4h4.8M546.7 218.2V235M544.3 218.2h4.8M544.3 235h4.8M546.5 224.8V239.9M544.1 224.8h4.8M544.1 239.9h4.8M546.5 230.1V245.1M544.1 230.1h4.8M544.1 245.1h4.8M546.7 233.9V251.5M544.3 233.9h4.8M544.3 251.5h4.8M546.7 240.5V256.9M544.3 240.5h4.8M544.3 256.9h4.8M546.8 244V261.4M544.4 244h4.8M544.4 261.4h4.8M552.8 217.5V234.2M550.4 217.5h4.8M550.4 234.2h4.8M552.7 225.5V241.4M550.3 225.5h4.8M550.3 241.4h4.8M552.7 229.4V245.9M550.3 229.4h4.8M550.3 245.9h4.8M552.7 233.7V249.6M550.3 233.7h4.8M550.3 249.6h4.8M552.9 240.4V256.7M550.5 240.4h4.8M550.5 256.7h4.8M552.9 244.5V262.8M550.5 244.5h4.8M550.5 262.8h4.8M558.9 235.4V253.7M556.5 235.4h4.8M556.5 253.7h4.8M558.8 238.7V254.3M556.4 238.7h4.8M556.4 254.3h4.8M558.7 223.2V240.2M556.3 223.2h4.8M556.3 240.2h4.8M558.8 250.4V267M556.4 250.4h4.8M556.4 267h4.8M559.1 230.9V250.4M556.7 230.9h4.8M556.7 250.4h4.8M558.7 249.4V268.9M556.3 249.4h4.8M556.3 268.9h4.8"/><path stroke-width="5" stroke-linecap="round" d="M122.6 223.4h0M128.8 214h0M134.8 225.2h0M141 222.6h0M153.2 205.4h0M153.2 215h0M165.4 194.6h0M171.6 221.4h0M177.6 203.4h0M183.8 193.8h0M189.8 186.4h0M195.8 178.6h0M232.5 83h0M238.4 60h0M238.6 61.3h0M238.9 62.6h0M239.2 63.9h0M239.4 64.7h0M244.2 62h0M244.4 63.7h0M244.6 65.3h0M244.8 67h0M256.2 103.3h0M256.6 115.6h0M262.5 106.5h0M262.5 110.4h0M263 131h0M268.7 145.3h0M268.7 148.3h0M274.5 159.2h0M274.5 169.7h0M280.8 165h0M280.8 170.8h0M280.8 177h0M287.2 154.2h0M287.2 167.5h0M286.7 178.3h0M293 182.5h0M293 189.2h0M298.7 183.8h0M298.7 188h0M298.7 197h0M304.8 199.2h0M304.8 207.5h0M310.8 193.3h0M310.8 200.8h0M310.8 205.8h0M317 199.5h0M317 209.2h0M322.9 193.5h0M322.9 200.8h0M322.9 205.8h0M322.9 216.7h0M329.2 195h0M329.2 202.5h0M335 210h0M335 215h0M335 219.2h0M340.8 210.8h0M340.8 220h0M340.8 223.3h0M340.8 227.5h0M347.2 215h0M347.2 220h0M347.2 225h0M347.2 238.3h0M353.3 215h0M353.3 223.3h0M353.3 229.2h0M353.3 235h0M359.2 223.3h0M359.2 226.7h0M359.2 236.7h0M359.2 241.7h0M359.2 246.7h0M365.8 215h0M365.8 223.3h0M365.8 227.5h0M371.7 220h0M371.7 228.3h0M371.7 235.8h0M371.7 223.3h0M377.5 220h0M377.5 231.7h0M377.5 244.2h0M384.2 212.2h0M384.2 231h0M384.2 238.5h0M384.2 244.5h0M389.7 229.5h0M389.7 237h0M389.7 244.5h0M395.7 223.5h0M395.7 231h0M395.7 238.5h0M395.7 246h0M402.2 229.5h0M402.2 235.5h0M402.2 241.5h0M402.2 254h0M407.7 228h0M407.7 235.5h0M407.7 255h0M407.7 268h0M413.8 177.5h0M413.8 207.5h0M414.2 214h0M414.2 240h0M420.4 186h0M420.4 207.7h0M420.4 228h0M420.4 246h0M420.4 256h0M426.5 229.5h0M426.5 235.5h0M426.5 240h0M426.5 246h0M432.5 226.5h0M432.5 232.5h0M432.5 238.5h0M432.5 244.5h0M438.2 198h0M438.2 211.5h0M438.2 225h0M438.2 237h0M438.2 246h0M438.2 256.5h0M444.5 223.5h0M444.5 231h0M444.5 237h0M444.5 247.5h0M444.5 256.5h0M450.5 228h0M450.5 232.5h0M450.5 240h0M450.5 249h0M456.2 223.5h0M456.2 235.5h0M456.2 243h0M456.2 256.5h0M462.5 229.5h0M462.5 234h0M462.5 240h0M462.5 252h0M468.5 228h0M468.5 235.5h0M468.5 243h0M304.8 201.3h0M304.6 196.1h0M310.5 212.9h0M310.7 207.4h0M316.7 201.9h0M316.8 199.2h0M322.9 203.2h0M322.7 203.2h0M328.7 213.6h0M329.1 214.7h0M335 214.4h0M335 224.8h0M340.8 225.9h0M340.9 220.7h0M347.2 222.7h0M346.9 227.9h0M353.3 237.5h0M352.9 224.4h0M359 230.2h0M359.4 235.4h0M365.3 224h0M365.2 223.2h0M371.1 236h0M371.3 232.7h0M377.4 228.9h0M377.5 227.4h0M383.2 240.8h0M383.4 232.9h0M389.5 224h0M389.4 239.3h0M395.6 236.8h0M395.4 232.3h0M401.4 235.4h0M401.7 231h0M407.6 248.8h0M407.6 235.1h0M413.6 233h0M413.4 227.4h0M419.8 227.8h0M419.6 241.4h0M425.8 231.4h0M425.8 227.8h0M431.7 241.5h0M432 230.2h0M437.7 225.9h0M438 235.8h0M444 230.1h0M443.8 236.3h0M450.1 228.4h0M449.9 243.4h0M456.1 235.1h0M456 247h0M462 228.3h0M461.9 233h0M467.9 232.6h0M468.1 236.4h0M474.3 243h0M474.2 233h0M414.9 295.6h0M479.9 228.6h0M480.2 233.8h0M480 235h0M480 240.6h0M480.2 246.6h0M480.1 248.9h0M486.1 227.6h0M486 233h0M486.1 238.3h0M486 240.8h0M486 246.1h0M486.1 250.5h0M492.1 227.1h0M492.2 231.5h0M492.4 236.5h0M492.3 238h0M492.3 245.7h0M492.1 249.9h0M498.5 228.7h0M498.4 232.8h0M498.5 238.4h0M498.4 241.4h0M498.1 245.5h0M498.4 250.9h0M504.3 228.1h0M504.4 233.5h0M504.5 237.3h0M504.6 241.1h0M504.5 244h0M504.5 251.5h0M510.2 214.4h0M510.2 223.8h0M510.4 230h0M510.6 239.5h0M510.2 242.8h0M510.3 249.7h0M510.4 259.3h0M516.6 226.8h0M516.4 231.5h0M516.2 237.2h0M516.3 241h0M516.3 247.5h0M516.5 253.5h0M522.6 221.5h0M522.6 231.5h0M522.3 234.3h0M522.7 241.6h0M522.4 250.1h0M522.7 256.5h0M528.6 226.7h0M528.5 233.3h0M528.7 239.5h0M528.7 246.7h0M528.5 252h0M528.4 259h0M534.5 227.5h0M534.6 233.7h0M534.6 237.7h0M534.8 243.7h0M534.8 246.4h0M534.7 251.2h0M540.7 228.2h0M540.8 231.2h0M540.4 239.5h0M540.6 240.6h0M540.8 246.1h0M540.7 252.3h0M546.7 226.6h0M546.5 232.3h0M546.5 237.6h0M546.7 242.7h0M546.7 248.7h0M546.8 252.7h0M552.8 225.9h0M552.7 233.5h0M552.7 237.6h0M552.7 241.7h0M552.9 248.5h0M552.9 253.7h0M558.9 244.6h0M558.8 246.5h0M558.7 231.7h0M558.8 258.7h0M559.1 240.7h0M558.7 259.1h0"/></g>
<g clip-path="url(#c2)" stroke="#33ee33" fill="none"><path stroke-width="1.7" d="M133.4 461.1V464.6M131 461.1h4.8M131 464.6h4.8M135.1 461.5V466.4M132.7 461.5h4.8M132.7 466.4h4.8M135.1 467.1V472.1M132.7 467.1h4.8M132.7 472.1h4.8M138.5 467.3V471M136.1 467.3h4.8M136.1 471h4.8M138.4 472.3V475.4M136 472.3h4.8M136 475.4h4.8M140.3 475V478.4M137.9 475h4.8M137.9 478.4h4.8M141.8 479.5V483.8M139.4 479.5h4.8M139.4 483.8h4.8M143.6 477.3V480.7M141.2 477.3h4.8M141.2 480.7h4.8M143.6 479.2V481.6M141.2 479.2h4.8M141.2 481.6h4.8M145.2 476.6V480.4M142.8 476.6h4.8M142.8 480.4h4.8M145.2 481.8V485.7M142.8 481.8h4.8M142.8 485.7h4.8M147 482.1V485M144.6 482.1h4.8M144.6 485h4.8M148.7 476.7V487.2M146.3 476.7h4.8M146.3 487.2h4.8M148.7 480.1V486.7M146.3 480.1h4.8M146.3 486.7h4.8M148.6 487.1V495.7M146.2 487.1h4.8M146.2 495.7h4.8M146.9 493V495.8M144.5 493h4.8M144.5 495.8h4.8M150.2 487V490.9M147.8 487h4.8M147.8 490.9h4.8M150.2 494V500.6M147.8 494h4.8M147.8 500.6h4.8M153.7 474.3V478.1M151.3 474.3h4.8M151.3 478.1h4.8M175.6 482.5V497M173.2 482.5h4.8M173.2 497h4.8M179.1 476.3V485.2M176.7 476.3h4.8M176.7 485.2h4.8M179.2 494.2V504M176.8 494.2h4.8M176.8 504h4.8M202.8 488V493.5M200.4 488h4.8M200.4 493.5h4.8M207.8 486.4V492.4M205.4 486.4h4.8M205.4 492.4h4.8M211.3 484.1V490.4M208.9 484.1h4.8M208.9 490.4h4.8M214.5 484.3V489.4M212.1 484.3h4.8M212.1 489.4h4.8M204.5 492V497.9M202.1 492h4.8M202.1 497.9h4.8M211.1 492.6V496.5M208.7 492.6h4.8M208.7 496.5h4.8M217.8 489.3V496.7M215.4 489.3h4.8M215.4 496.7h4.8M219.4 489.5V498.9M217 489.5h4.8M217 498.9h4.8M207.5 444.2V447.2M205.1 444.2h4.8M205.1 447.2h4.8M287.2 447.8V454.2M284.8 447.8h4.8M284.8 454.2h4.8M315.5 446.9V453.5M313.1 446.9h4.8M313.1 453.5h4.8M322.1 454.5V464.5M319.7 454.5h4.8M319.7 464.5h4.8M228.5 452.5V466.5M226.1 452.5h4.8M226.1 466.5h4.8M228.3 458V468M225.9 458h4.8M225.9 468h4.8M241.4 459.5V471.5M239 459.5h4.8M239 471.5h4.8M294.9 420.8V434.8M292.5 420.8h4.8M292.5 434.8h4.8M311.7 379.5V392.3M309.3 379.5h4.8M309.3 392.3h4.8M338.6 464.5V467.5M336.2 464.5h4.8M336.2 467.5h4.8M370.5 421.6V435M368.1 421.6h4.8M368.1 435h4.8M351.9 454.1V468.1M349.5 454.1h4.8M349.5 468.1h4.8M358.8 457.5V464.7M356.4 457.5h4.8M356.4 464.7h4.8M414.8 445.7V461.7M412.4 445.7h4.8M412.4 461.7h4.8M450 458.5V466.5M447.6 458.5h4.8M447.6 466.5h4.8M458.8 461V471M456.4 461h4.8M456.4 471h4.8M222 472V486M219.6 472h4.8M219.6 486h4.8M278 471V483M275.6 471h4.8M275.6 483h4.8M264 475V485M261.6 475h4.8M261.6 485h4.8M202.4 524.6V542.6M200 524.6h4.8M200 542.6h4.8M203 506V518M200.6 506h4.8M200.6 518h4.8M213 513V523M210.6 513h4.8M210.6 523h4.8M246.4 509V521M244 509h4.8M244 521h4.8M261.4 521.8V531M259 521.8h4.8M259 531h4.8M278 515V533M275.6 515h4.8M275.6 533h4.8M278 514V526M275.6 514h4.8M275.6 526h4.8M289 507V517M286.6 507h4.8M286.6 517h4.8M300 512V524M297.6 512h4.8M297.6 524h4.8M240 505V515M237.6 505h4.8M237.6 515h4.8M231.6 509V519M229.2 509h4.8M229.2 519h4.8M240 480V490M237.6 480h4.8M237.6 490h4.8M315 461V471M312.6 461h4.8M312.6 471h4.8M362 464V474M359.6 464h4.8M359.6 474h4.8M370 467V477M367.6 467h4.8M367.6 477h4.8M308.4 523V543M306 523h4.8M306 543h4.8M337.6 518V530M335.2 518h4.8M335.2 530h4.8M359 509V527M356.6 509h4.8M356.6 527h4.8M381 521V531M378.6 521h4.8M378.6 531h4.8M316 508V518M313.6 508h4.8M313.6 518h4.8M348 510V520M345.6 510h4.8M345.6 520h4.8M378 508V518M375.6 508h4.8M375.6 518h4.8M331 475V485M328.6 475h4.8M328.6 485h4.8M348 470V482M345.6 470h4.8M345.6 482h4.8M393 479V487M390.6 479h4.8M390.6 487h4.8M404 476V484M401.6 476h4.8M401.6 484h4.8M290 507V517M287.6 507h4.8M287.6 517h4.8M294 509V519M291.6 509h4.8M291.6 519h4.8M352 453.5V468.5M349.6 453.5h4.8M349.6 468.5h4.8M415 445V459M412.6 445h4.8M412.6 459h4.8M458 464V476M455.6 464h4.8M455.6 476h4.8M481.6 465V485M479.2 465h4.8M479.2 485h4.8M485 473V483M482.6 473h4.8M482.6 483h4.8M427.6 474.4V482.4M425.2 474.4h4.8M425.2 482.4h4.8M404.4 477V485M402 477h4.8M402 485h4.8M475 479V487M472.6 479h4.8M472.6 487h4.8M507.4 517.5V530.5M505 517.5h4.8M505 530.5h4.8M497 509.5V522.5M494.6 509.5h4.8M494.6 522.5h4.8M433 512.5V521.5M430.6 512.5h4.8M430.6 521.5h4.8M422 509.5V522.5M419.6 509.5h4.8M419.6 522.5h4.8M445 506V514M442.6 506h4.8M442.6 514h4.8M510 508V516M507.6 508h4.8M507.6 516h4.8M480 504V512M477.6 504h4.8M477.6 512h4.8M539 513.1V526.1M536.6 513.1h4.8M536.6 526.1h4.8M482 465V483M479.6 465h4.8M479.6 483h4.8M484.4 474V484M482 474h4.8M482 484h4.8M511 506V516M508.6 506h4.8M508.6 516h4.8M530 504V512M527.6 504h4.8M527.6 512h4.8M204.6 501V505M202.2 501h4.8M202.2 505h4.8M209.6 499.3V502.8M207.2 499.3h4.8M207.2 502.8h4.8M209.6 501V504.9M207.2 501h4.8M207.2 504.9h4.8M208 498.9V502.8M205.6 498.9h4.8M205.6 502.8h4.8M202.9 498.9V502.8M200.5 498.9h4.8M200.5 502.8h4.8M206 499.7V503.6M203.6 499.7h4.8M203.6 503.6h4.8M217.7 500.1V504.8M215.3 500.1h4.8M215.3 504.8h4.8M201.3 496.7V500.7M198.9 496.7h4.8M198.9 500.7h4.8M199.6 494.6V498.5M197.2 494.6h4.8M197.2 498.5h4.8M206.3 496.2V500.1M203.9 496.2h4.8M203.9 500.1h4.8M212.8 497.3V501.2M210.4 497.3h4.8M210.4 501.2h4.8M216 498.5V502.4M213.6 498.5h4.8M213.6 502.4h4.8M197.9 497.3V501.2M195.5 497.3h4.8M195.5 501.2h4.8M221.2 496.2V501.4M218.8 496.2h4.8M218.8 501.4h4.8M221.1 498.6V505.9M218.7 498.6h4.8M218.7 505.9h4.8M227.9 499.2V504.2M225.5 499.2h4.8M225.5 504.2h4.8M232.8 492.4V499M230.4 492.4h4.8M230.4 499h4.8M232.9 500.8V507.1M230.5 500.8h4.8M230.5 507.1h4.8M234.6 495.1V499.7M232.2 495.1h4.8M232.2 499.7h4.8M237.9 496.6V502.7M235.5 496.6h4.8M235.5 502.7h4.8M244.6 488.3V494.5M242.2 488.3h4.8M242.2 494.5h4.8M244.7 496.5V501.9M242.3 496.5h4.8M242.3 501.9h4.8M244.7 500.5V504.2M242.3 500.5h4.8M242.3 504.2h4.8M246.5 487.6V494.5M244.1 487.6h4.8M244.1 494.5h4.8M246.4 494.8V499.4M244 494.8h4.8M244 499.4h4.8M246.3 494V499.7M243.9 494h4.8M243.9 499.7h4.8M248 482.9V498.8M245.6 482.9h4.8M245.6 498.8h4.8M248.1 486.4V509.6M245.7 486.4h4.8M245.7 509.6h4.8M248.1 474.8V488.6M245.7 474.8h4.8M245.7 488.6h4.8M249.7 486.5V499.3M247.3 486.5h4.8M247.3 499.3h4.8M249.7 500.1V511.6M247.3 500.1h4.8M247.3 511.6h4.8M249.7 498.1V508.2M247.3 498.1h4.8M247.3 508.2h4.8M251.4 495.8V500.3M249 495.8h4.8M249 500.3h4.8M253.2 499.5V503.3M250.8 499.5h4.8M250.8 503.3h4.8M258.1 503.3V531M255.7 503.3h4.8M255.7 531h4.8M258.2 485.3V514.1M255.8 485.3h4.8M255.8 514.1h4.8M261.6 493V502.1M259.2 493h4.8M259.2 502.1h4.8M266.7 496.9V503.8M264.3 496.9h4.8M264.3 503.8h4.8M266.6 497V501.9M264.2 497h4.8M264.2 501.9h4.8M268.3 498V505M265.9 498h4.8M265.9 505h4.8M271.7 498.1V503.6M269.3 498.1h4.8M269.3 503.6h4.8M273.4 496.1V502.1M271 496.1h4.8M271 502.1h4.8M273.3 489.1V495.9M270.9 489.1h4.8M270.9 495.9h4.8M275.1 496.3V502.9M272.7 496.3h4.8M272.7 502.9h4.8M275.1 496.3V502.7M272.7 496.3h4.8M272.7 502.7h4.8M275 496.5V501.4M272.6 496.5h4.8M272.6 501.4h4.8M276.8 500V503.8M274.4 500h4.8M274.4 503.8h4.8M278.3 494.1V502.6M275.9 494.1h4.8M275.9 502.6h4.8M278.4 496.9V507.4M276 496.9h4.8M276 507.4h4.8M278.5 486.3V494.1M276.1 486.3h4.8M276.1 494.1h4.8M280.2 493.1V497.6M277.8 493.1h4.8M277.8 497.6h4.8M288.5 494V499.2M286.1 494h4.8M286.1 499.2h4.8M288.6 499.8V505.4M286.2 499.8h4.8M286.2 505.4h4.8M291.9 501.3V505.3M289.5 501.3h4.8M289.5 505.3h4.8M291.9 498V503.3M289.5 498h4.8M289.5 503.3h4.8M292 500V505.3M289.6 500h4.8M289.6 505.3h4.8M295.3 492.2V497.9M292.9 492.2h4.8M292.9 497.9h4.8M295.4 499.7V503.8M293 499.7h4.8M293 503.8h4.8M295.2 498.2V501.8M292.8 498.2h4.8M292.8 501.8h4.8M298.7 495.2V502M296.3 495.2h4.8M296.3 502h4.8M300.3 484.1V500.3M297.9 484.1h4.8M297.9 500.3h4.8M300.3 493.8V508.5M297.9 493.8h4.8M297.9 508.5h4.8M303.7 499.5V503.3M301.3 499.5h4.8M301.3 503.3h4.8M303.7 495.5V499.6M301.3 495.5h4.8M301.3 499.6h4.8M303.7 496.7V500.3M301.3 496.7h4.8M301.3 500.3h4.8M305.4 497.2V501.6M303 497.2h4.8M303 501.6h4.8M305.4 494V498.1M303 494h4.8M303 498.1h4.8M307 496.8V501.4M304.6 496.8h4.8M304.6 501.4h4.8M307.1 491.9V498.5M304.7 491.9h4.8M304.7 498.5h4.8M308.8 490.5V503.7M306.4 490.5h4.8M306.4 503.7h4.8M310.5 489.7V498.8M308.1 489.7h4.8M308.1 498.8h4.8M310.5 499.7V505.1M308.1 499.7h4.8M308.1 505.1h4.8M312.1 506.4V519.9M309.7 506.4h4.8M309.7 519.9h4.8M312.1 494.3V505M309.7 494.3h4.8M309.7 505h4.8M315.5 495.1V498.8M313.1 495.1h4.8M313.1 498.8h4.8M315.6 499.1V505.7M313.2 499.1h4.8M313.2 505.7h4.8M317.2 493.9V499.8M314.8 493.9h4.8M314.8 499.8h4.8M320.6 493.7V497.5M318.2 493.7h4.8M318.2 497.5h4.8M320.5 497.2V500.9M318.1 497.2h4.8M318.1 500.9h4.8M320.6 501.2V505.6M318.2 501.2h4.8M318.2 505.6h4.8M322.3 491.3V501.4M319.9 491.3h4.8M319.9 501.4h4.8M322.2 490V499.8M319.8 490h4.8M319.8 499.8h4.8M322.2 485.2V500.4M319.8 485.2h4.8M319.8 500.4h4.8M323.9 486.2V501.9M321.5 486.2h4.8M321.5 501.9h4.8M329.1 495.3V509.3M326.7 495.3h4.8M326.7 509.3h4.8M329 495.5V504.1M326.6 495.5h4.8M326.6 504.1h4.8M332.5 500.1V504.2M330.1 500.1h4.8M330.1 504.2h4.8M332.3 495.6V502.6M329.9 495.6h4.8M329.9 502.6h4.8M334 496.7V504.9M331.6 496.7h4.8M331.6 504.9h4.8M337.5 499.4V505M335.1 499.4h4.8M335.1 505h4.8M337.4 492.2V499.1M335 492.2h4.8M335 499.1h4.8M339.2 487.1V497.4M336.8 487.1h4.8M336.8 497.4h4.8M339.2 503.1V519M336.8 503.1h4.8M336.8 519h4.8M339.1 487.9V496.5M336.7 487.9h4.8M336.7 496.5h4.8M342.5 492.8V499.7M340.1 492.8h4.8M340.1 499.7h4.8M342.6 495.8V501.4M340.2 495.8h4.8M340.2 501.4h4.8M347.6 496.7V510.5M345.2 496.7h4.8M345.2 510.5h4.8M347.5 489.2V504.8M345.1 489.2h4.8M345.1 504.8h4.8M347.6 488.3V503.2M345.2 488.3h4.8M345.2 503.2h4.8M349.2 495.5V504.6M346.8 495.5h4.8M346.8 504.6h4.8M351 494.9V498.7M348.6 494.9h4.8M348.6 498.7h4.8M351 499.8V505.3M348.6 499.8h4.8M348.6 505.3h4.8M351 498.2V504M348.6 498.2h4.8M348.6 504h4.8M354.3 483.8V497.6M351.9 483.8h4.8M351.9 497.6h4.8M354.2 499.4V510.9M351.8 499.4h4.8M351.8 510.9h4.8M354.4 502.9V512.7M352 502.9h4.8M352 512.7h4.8M356 495.2V499.3M353.6 495.2h4.8M353.6 499.3h4.8M357.7 496.5V501.8M355.3 496.5h4.8M355.3 501.8h4.8M359.4 480.6V500.1M357 480.6h4.8M357 500.1h4.8M359.4 499.8V520.8M357 499.8h4.8M357 520.8h4.8M359.3 483V499.2M356.9 483h4.8M356.9 499.2h4.8M361 484.2V497.8M358.6 484.2h4.8M358.6 497.8h4.8M361.1 486.1V509.5M358.7 486.1h4.8M358.7 509.5h4.8M361.1 486.3V507.2M358.7 486.3h4.8M358.7 507.2h4.8M362.7 494.5V501.4M360.3 494.5h4.8M360.3 501.4h4.8M362.8 493.1V498.4M360.4 493.1h4.8M360.4 498.4h4.8M369.6 493.8V497.8M367.2 493.8h4.8M367.2 497.8h4.8M369.5 490.3V496.7M367.1 490.3h4.8M367.1 496.7h4.8M369.5 491.2V494.7M367.1 491.2h4.8M367.1 494.7h4.8M376.2 492.6V498.7M373.8 492.6h4.8M373.8 498.7h4.8M376.3 495.1V501M373.9 495.1h4.8M373.9 501h4.8M376.3 494.4V499.5M373.9 494.4h4.8M373.9 499.5h4.8M381.3 497.1V500.7M378.9 497.1h4.8M378.9 500.7h4.8M381.4 496.8V502.4M379 496.8h4.8M379 502.4h4.8M382.9 492.6V500M380.5 492.6h4.8M380.5 500h4.8M383 498.3V507.9M380.6 498.3h4.8M380.6 507.9h4.8M388.1 497V503.2M385.7 497h4.8M385.7 503.2h4.8M388 499.4V504.4M385.6 499.4h4.8M385.6 504.4h4.8M389.7 494.8V501.7M387.3 494.8h4.8M387.3 501.7h4.8M389.7 499.9V506.3M387.3 499.9h4.8M387.3 506.3h4.8M393.1 507.7V524.2M390.7 507.7h4.8M390.7 524.2h4.8M393.1 493.8V508.2M390.7 493.8h4.8M390.7 508.2h4.8M393.1 493V511.6M390.7 493h4.8M390.7 511.6h4.8M396.5 488.6V501.9M394.1 488.6h4.8M394.1 501.9h4.8M396.4 491.2V507.1M394 491.2h4.8M394 507.1h4.8M399.8 499.6V505.9M397.4 499.6h4.8M397.4 505.9h4.8M399.8 491.5V497.5M397.4 491.5h4.8M397.4 497.5h4.8M401.5 497.4V502.4M399.1 497.4h4.8M399.1 502.4h4.8M401.6 491.6V498.1M399.2 491.6h4.8M399.2 498.1h4.8M401.6 491.5V495.5M399.2 491.5h4.8M399.2 495.5h4.8M405 491.4V507.2M402.6 491.4h4.8M402.6 507.2h4.8M406.6 497.2V500.9M404.2 497.2h4.8M404.2 500.9h4.8M406.5 498.4V503.4M404.1 498.4h4.8M404.1 503.4h4.8M410 493.9V497.9M407.6 493.9h4.8M407.6 497.9h4.8M411.7 491.2V505.7M409.3 491.2h4.8M409.3 505.7h4.8M421.8 493.9V499.7M419.4 493.9h4.8M419.4 499.7h4.8M421.8 497.6V503.8M419.4 497.6h4.8M419.4 503.8h4.8M421.8 495.6V501.2M419.4 495.6h4.8M419.4 501.2h4.8M423.4 487.9V495.8M421 487.9h4.8M421 495.8h4.8M423.5 497.6V506.3M421.1 497.6h4.8M421.1 506.3h4.8M428.4 497.7V504.7M426 497.7h4.8M426 504.7h4.8M428.4 498.5V504.3M426 498.5h4.8M426 504.3h4.8M435.3 501.8V510.2M432.9 501.8h4.8M432.9 510.2h4.8M442 497.2V511.3M439.6 497.2h4.8M439.6 511.3h4.8M442 492.4V507M439.6 492.4h4.8M439.6 507h4.8M442 497.1V507.5M439.6 497.1h4.8M439.6 507.5h4.8M443.7 505.7V524.5M441.3 505.7h4.8M441.3 524.5h4.8M443.7 483.5V502.3M441.3 483.5h4.8M441.3 502.3h4.8M445.4 489.6V496.5M443 489.6h4.8M443 496.5h4.8M448.7 491.9V496.4M446.3 491.9h4.8M446.3 496.4h4.8M448.7 494.9V499.6M446.3 494.9h4.8M446.3 499.6h4.8M450.4 493.1V497M448 493.1h4.8M448 497h4.8M452.1 497.7V504.9M449.7 497.7h4.8M449.7 504.9h4.8M453.8 497.4V502.4M451.4 497.4h4.8M451.4 502.4h4.8M453.7 494.4V499.8M451.3 494.4h4.8M451.3 499.8h4.8M457.2 497.1V503.6M454.8 497.1h4.8M454.8 503.6h4.8M465.6 490.2V499.4M463.2 490.2h4.8M463.2 499.4h4.8M465.5 498V506.4M463.1 498h4.8M463.1 506.4h4.8M465.6 502.9V508.7M463.2 502.9h4.8M463.2 508.7h4.8M467.3 495.7V503M464.9 495.7h4.8M464.9 503h4.8M468.9 492.7V509.4M466.5 492.7h4.8M466.5 509.4h4.8M469 473.3V489.7M466.6 473.3h4.8M466.6 489.7h4.8M470.7 501.8V505.4M468.3 501.8h4.8M468.3 505.4h4.8M474.1 494.8V501.5M471.7 494.8h4.8M471.7 501.5h4.8M474 493.1V498.1M471.6 493.1h4.8M471.6 498.1h4.8M477.4 489.1V512M475 489.1h4.8M475 512h4.8M479.1 498V503M476.7 498h4.8M476.7 503h4.8M479.1 502.1V505.7M476.7 502.1h4.8M476.7 505.7h4.8M480.7 492.1V496.3M478.3 492.1h4.8M478.3 496.3h4.8M480.8 497.7V501.8M478.4 497.7h4.8M478.4 501.8h4.8M482.5 497.9V503.3M480.1 497.9h4.8M480.1 503.3h4.8M482.5 490.8V495.9M480.1 490.8h4.8M480.1 495.9h4.8M484.1 494.2V501.6M481.7 494.2h4.8M481.7 501.6h4.8M484.1 496.9V506.3M481.7 496.9h4.8M481.7 506.3h4.8M484.2 496V504.8M481.8 496h4.8M481.8 504.8h4.8M485.9 496.3V501.1M483.5 496.3h4.8M483.5 501.1h4.8M489.3 473.5V497.2M486.9 473.5h4.8M486.9 497.2h4.8M489.2 457.2V480.8M486.8 457.2h4.8M486.8 480.8h4.8M489.3 482.9V513.3M486.9 482.9h4.8M486.9 513.3h4.8M491 491.9V497.8M488.6 491.9h4.8M488.6 497.8h4.8M492.6 495.5V501.1M490.2 495.5h4.8M490.2 501.1h4.8M492.7 493.9V500.1M490.3 493.9h4.8M490.3 500.1h4.8M492.5 497.1V506.4M490.1 497.1h4.8M490.1 506.4h4.8M494.3 495.8V502.3M491.9 495.8h4.8M491.9 502.3h4.8M497.7 488.1V500.4M495.3 488.1h4.8M495.3 500.4h4.8M497.7 495.3V508.7M495.3 495.3h4.8M495.3 508.7h4.8M497.6 480.9V489M495.2 480.9h4.8M495.2 489h4.8M501 497.3V503.4M498.6 497.3h4.8M498.6 503.4h4.8M501.1 491.7V502.1M498.7 491.7h4.8M498.7 502.1h4.8M502.7 493.3V499.5M500.3 493.3h4.8M500.3 499.5h4.8M502.7 500.5V505.9M500.3 500.5h4.8M500.3 505.9h4.8M502.8 497V503.4M500.4 497h4.8M500.4 503.4h4.8M506.2 496V500.7M503.8 496h4.8M503.8 500.7h4.8M506.2 496V500.5M503.8 496h4.8M503.8 500.5h4.8M507.8 491.7V495.8M505.4 491.7h4.8M505.4 495.8h4.8M514.5 495V501.9M512.1 495h4.8M512.1 501.9h4.8M514.5 493.6V502.9M512.1 493.6h4.8M512.1 502.9h4.8M514.5 493.7V503.8M512.1 493.7h4.8M512.1 503.8h4.8M517.9 495.8V501.8M515.5 495.8h4.8M515.5 501.8h4.8M517.9 499.7V504.9M515.5 499.7h4.8M515.5 504.9h4.8M521.2 495.9V501.7M518.8 495.9h4.8M518.8 501.7h4.8M521.2 494.2V500.3M518.8 494.2h4.8M518.8 500.3h4.8M522.9 487.2V496.9M520.5 487.2h4.8M520.5 496.9h4.8M526.3 484.3V493.6M523.9 484.3h4.8M523.9 493.6h4.8M528 495.3V502.2M525.6 495.3h4.8M525.6 502.2h4.8M528 494.1V498M525.6 494.1h4.8M525.6 498h4.8M529.7 490.6V501.2M527.3 490.6h4.8M527.3 501.2h4.8M529.7 496.6V508.3M527.3 496.6h4.8M527.3 508.3h4.8M531.4 491.4V496.7M529 491.4h4.8M529 496.7h4.8M531.4 494V499.5M529 494h4.8M529 499.5h4.8M531.4 494.4V503.3M529 494.4h4.8M529 503.3h4.8M534.8 497.6V503.4M532.4 497.6h4.8M532.4 503.4h4.8M538.1 496.8V502M535.7 496.8h4.8M535.7 502h4.8"/><path stroke-width="5" stroke-linecap="round" d="M133.4 462.8h0M135.1 464h0M135.1 469.6h0M138.5 469.1h0M138.4 473.9h0M140.3 476.7h0M141.8 481.6h0M143.6 479h0M143.6 480.4h0M145.2 478.5h0M145.2 483.8h0M147 483.6h0M148.7 481.9h0M148.7 483.4h0M148.6 491.4h0M146.9 494.4h0M150.2 489h0M150.2 497.3h0M153.7 476.2h0M175.6 489.8h0M179.1 480.7h0M179.2 499.1h0M202.8 490.8h0M207.8 489.4h0M211.3 487.2h0M214.5 486.9h0M204.5 495h0M211.1 494.6h0M217.8 493h0M219.4 494.2h0M207.5 445.7h0M287.2 451h0M315.5 450.2h0M322.1 459.5h0M228.5 459.5h0M228.3 463h0M241.4 465.5h0M294.9 427.8h0M311.7 385.9h0M338.6 466h0M370.5 428.3h0M351.9 461.1h0M358.8 461.1h0M414.8 453.7h0M450 462.5h0M458.8 466h0M222 479h0M278 477h0M264 480h0M202.4 533.6h0M203 512h0M213 518h0M246.4 515h0M261.4 526.4h0M278 524h0M278 520h0M289 512h0M300 518h0M240 510h0M231.6 514h0M240 485h0M315 466h0M362 469h0M370 472h0M308.4 533h0M337.6 524h0M359 518h0M381 526h0M316 513h0M348 515h0M378 513h0M331 480h0M348 476h0M393 483h0M404 480h0M290 512h0M294 514h0M352 461h0M415 452h0M458 470h0M481.6 475h0M485 478h0M427.6 478.4h0M404.4 481h0M475 483h0M507.4 524h0M497 516h0M433 517h0M422 516h0M445 510h0M510 512h0M480 508h0M539 519.6h0M482 474h0M484.4 479h0M511 511h0M530 508h0M204.6 503h0M209.6 501h0M209.6 502.9h0M208 500.9h0M202.9 500.9h0M206 501.6h0M217.7 502.4h0M201.3 498.7h0M199.6 496.5h0M206.3 498.1h0M212.8 499.3h0M216 500.5h0M197.9 499.3h0M221.2 498.8h0M221.1 502.2h0M227.9 501.7h0M232.8 495.7h0M232.9 504h0M234.6 497.4h0M237.9 499.6h0M244.6 491.4h0M244.7 499.2h0M244.7 502.3h0M246.5 491.1h0M246.4 497.1h0M246.3 496.9h0M248 490.8h0M248.1 498h0M248.1 481.7h0M249.7 492.9h0M249.7 505.9h0M249.7 503.2h0M251.4 498h0M253.2 501.4h0M258.1 517.1h0M258.2 499.7h0M261.6 497.6h0M266.7 500.3h0M266.6 499.4h0M268.3 501.5h0M271.7 500.8h0M273.4 499.1h0M273.3 492.5h0M275.1 499.6h0M275.1 499.5h0M275 499h0M276.8 501.9h0M278.3 498.4h0M278.4 502.2h0M278.5 490.2h0M280.2 495.3h0M288.5 496.6h0M288.6 502.6h0M291.9 503.3h0M291.9 500.6h0M292 502.7h0M295.3 495h0M295.4 501.7h0M295.2 500h0M298.7 498.6h0M300.3 492.2h0M300.3 501.1h0M303.7 501.4h0M303.7 497.6h0M303.7 498.5h0M305.4 499.4h0M305.4 496.1h0M307 499.1h0M307.1 495.2h0M308.8 497.1h0M310.5 494.2h0M310.5 502.4h0M312.1 513.1h0M312.1 499.7h0M315.5 497h0M315.6 502.4h0M317.2 496.9h0M320.6 495.6h0M320.5 499h0M320.6 503.4h0M322.3 496.4h0M322.2 494.9h0M322.2 492.8h0M323.9 494h0M329.1 502.3h0M329 499.8h0M332.5 502.1h0M332.3 499.1h0M334 500.8h0M337.5 502.2h0M337.4 495.6h0M339.2 492.2h0M339.2 511h0M339.1 492.2h0M342.5 496.3h0M342.6 498.6h0M347.6 503.6h0M347.5 497h0M347.6 495.8h0M349.2 500h0M351 496.8h0M351 502.6h0M351 501.1h0M354.3 490.7h0M354.2 505.1h0M354.4 507.8h0M356 497.2h0M357.7 499.2h0M359.4 490.4h0M359.4 510.3h0M359.3 491.1h0M361 491h0M361.1 497.8h0M361.1 496.8h0M362.7 497.9h0M362.8 495.7h0M369.6 495.8h0M369.5 493.5h0M369.5 493h0M376.2 495.7h0M376.3 498.1h0M376.3 496.9h0M381.3 498.9h0M381.4 499.6h0M382.9 496.3h0M383 503.1h0M388.1 500.1h0M388 501.9h0M389.7 498.2h0M389.7 503.1h0M393.1 515.9h0M393.1 501h0M393.1 502.3h0M396.5 495.3h0M396.4 499.1h0M399.8 502.8h0M399.8 494.5h0M401.5 499.9h0M401.6 494.9h0M401.6 493.5h0M405 499.3h0M406.6 499h0M406.5 500.9h0M410 495.9h0M411.7 498.4h0M421.8 496.8h0M421.8 500.7h0M421.8 498.4h0M423.4 491.8h0M423.5 502h0M428.4 501.2h0M428.4 501.4h0M435.3 506h0M442 504.2h0M442 499.7h0M442 502.3h0M443.7 515.1h0M443.7 492.9h0M445.4 493.1h0M448.7 494.2h0M448.7 497.2h0M450.4 495h0M452.1 501.3h0M453.8 499.9h0M453.7 497.1h0M457.2 500.4h0M465.6 494.8h0M465.5 502.2h0M465.6 505.8h0M467.3 499.3h0M468.9 501.1h0M469 481.5h0M470.7 503.6h0M474.1 498.1h0M474 495.6h0M477.4 500.6h0M479.1 500.5h0M479.1 503.9h0M480.7 494.2h0M480.8 499.7h0M482.5 500.6h0M482.5 493.3h0M484.1 497.9h0M484.1 501.6h0M484.2 500.4h0M485.9 498.7h0M489.3 485.3h0M489.2 469h0M489.3 498.1h0M491 494.9h0M492.6 498.3h0M492.7 497h0M492.5 501.8h0M494.3 499h0M497.7 494.3h0M497.7 502h0M497.6 484.9h0M501 500.4h0M501.1 496.9h0M502.7 496.4h0M502.7 503.2h0M502.8 500.2h0M506.2 498.3h0M506.2 498.2h0M507.8 493.8h0M514.5 498.5h0M514.5 498.3h0M514.5 498.7h0M517.9 498.8h0M517.9 502.3h0M521.2 498.8h0M521.2 497.2h0M522.9 492h0M526.3 489h0M528 498.7h0M528 496h0M529.7 495.9h0M529.7 502.5h0M531.4 494.1h0M531.4 496.7h0M531.4 498.8h0M534.8 500.5h0M538.1 499.4h0"/></g>
<g clip-path="url(#c2)" stroke="#0c48fa" fill="none"><path stroke-width="1.7" d="M137.4 468.5V470.1M135 468.5h4.8M135 470.1h4.8M137.4 469V470.6M135 469h4.8M135 470.6h4.8M137.4 469.7V471.2M135 469.7h4.8M135 471.2h4.8M137.4 470.2V471.7M135 470.2h4.8M135 471.7h4.8M144.1 485V488M141.7 485h4.8M141.7 488h4.8M144.1 488V490.9M141.7 488h4.8M141.7 490.9h4.8M147.6 484.9V489.8M145.2 484.9h4.8M145.2 489.8h4.8M150.9 485.7V489.6M148.5 485.7h4.8M148.5 489.6h4.8M152.6 480.2V484.1M150.2 480.2h4.8M150.2 484.1h4.8M154.2 491.3V495.2M151.8 491.3h4.8M151.8 495.2h4.8M155.8 488.6V494M153.4 488.6h4.8M153.4 494h4.8M161 490.6V496.5M158.6 490.6h4.8M158.6 496.5h4.8M162.7 490.5V495.2M160.3 490.5h4.8M160.3 495.2h4.8M162.7 496.6V504.5M160.3 496.6h4.8M160.3 504.5h4.8M164.5 490.2V496.1M162.1 490.2h4.8M162.1 496.1h4.8M166.1 495.5V503.3M163.7 495.5h4.8M163.7 503.3h4.8M166.1 499.6V507.4M163.7 499.6h4.8M163.7 507.4h4.8M167.9 496.3V499.9M165.5 496.3h4.8M165.5 499.9h4.8M167.9 498V501.5M165.5 498h4.8M165.5 501.5h4.8M167.9 499.3V502.8M165.5 499.3h4.8M165.5 502.8h4.8M171.1 490.6V494.5M168.7 490.6h4.8M168.7 494.5h4.8M171.1 492.9V496.8M168.7 492.9h4.8M168.7 496.8h4.8M171.1 496.2V500.1M168.7 496.2h4.8M168.7 500.1h4.8M172.9 489.3V493.6M170.5 489.3h4.8M170.5 493.6h4.8M176.2 485.4V490.1M173.8 485.4h4.8M173.8 490.1h4.8M176.2 498.2V502.1M173.8 498.2h4.8M173.8 502.1h4.8M177.9 490.5V496M175.5 490.5h4.8M175.5 496h4.8M177.9 492.9V496.8M175.5 492.9h4.8M175.5 496.8h4.8M177.9 500.7V504.6M175.5 500.7h4.8M175.5 504.6h4.8M179.6 488V493.5M177.2 488h4.8M177.2 493.5h4.8M186.4 493.6V496.7M184 493.6h4.8M184 496.7h4.8M186.4 497.1V500.3M184 497.1h4.8M184 500.3h4.8M187.9 490.4V494.9M185.5 490.4h4.8M185.5 494.9h4.8M189.8 492.9V496.8M187.4 492.9h4.8M187.4 496.8h4.8M189.8 500.6V504.5M187.4 500.6h4.8M187.4 504.5h4.8M191.5 499.4V505.3M189.1 499.4h4.8M189.1 505.3h4.8M193.2 500.2V504.9M190.8 500.2h4.8M190.8 504.9h4.8M194.6 494.9V498.4M192.2 494.9h4.8M192.2 498.4h4.8M194.6 497.5V501M192.2 497.5h4.8M192.2 501h4.8M194.6 499.6V503.1M192.2 499.6h4.8M192.2 503.1h4.8M196.5 493.2V497.1M194.1 493.2h4.8M194.1 497.1h4.8M216.7 487.7V493.4M214.3 487.7h4.8M214.3 493.4h4.8M218.4 490.7V496.5M216 490.7h4.8M216 496.5h4.8M217 493.8V497.7M214.6 493.8h4.8M214.6 497.7h4.8M203.2 493.3V499M200.8 493.3h4.8M200.8 499h4.8M199.9 500V503.9M197.5 500h4.8M197.5 503.9h4.8M209.9 311.8V324.6M207.5 311.8h4.8M207.5 324.6h4.8M255.5 381.1V394.5M253.1 381.1h4.8M253.1 394.5h4.8M280.5 363.6V373.6M278.1 363.6h4.8M278.1 373.6h4.8M297.3 371.6V384.2M294.9 371.6h4.8M294.9 384.2h4.8M355.9 444.2V456.2M353.5 444.2h4.8M353.5 456.2h4.8M416.9 447.3V460.1M414.5 447.3h4.8M414.5 460.1h4.8M411.9 454.3V474.3M409.5 454.3h4.8M409.5 474.3h4.8M462 459.2V469.2M459.6 459.2h4.8M459.6 469.2h4.8M225.6 475V487M223.2 475h4.8M223.2 487h4.8M255 480V490M252.6 480h4.8M252.6 490h4.8M254 504V514M251.6 504h4.8M251.6 514h4.8M279 472V484M276.6 472h4.8M276.6 484h4.8M218 505V515M215.6 505h4.8M215.6 515h4.8M296 506V516M293.6 506h4.8M293.6 516h4.8M271 507V517M268.6 507h4.8M268.6 517h4.8M356 443.5V454.5M353.6 443.5h4.8M353.6 454.5h4.8M368 466V482M365.6 466h4.8M365.6 482h4.8M311.6 478V488M309.2 478h4.8M309.2 488h4.8M322 476V486M319.6 476h4.8M319.6 486h4.8M406 476V500M403.6 476h4.8M403.6 500h4.8M406 488V512M403.6 488h4.8M403.6 512h4.8M410 465V475M407.6 465h4.8M407.6 475h4.8M384 485V493M381.6 485h4.8M381.6 493h4.8M383 505V513M380.6 505h4.8M380.6 513h4.8M296 506V514M293.6 506h4.8M293.6 514h4.8M304 509V519M301.6 509h4.8M301.6 519h4.8M328 509V519M325.6 509h4.8M325.6 519h4.8M341 509V519M338.6 509h4.8M338.6 519h4.8M417 447.6V459.6M414.6 447.6h4.8M414.6 459.6h4.8M411.6 455.4V473.4M409.2 455.4h4.8M409.2 473.4h4.8M410 467V479M407.6 467h4.8M407.6 479h4.8M475.6 465V475M473.2 465h4.8M473.2 475h4.8M496 461.5V475.5M493.6 461.5h4.8M493.6 475.5h4.8M504.4 467V487M502 467h4.8M502 487h4.8M471 478V486M468.6 478h4.8M468.6 486h4.8M451 481V489M448.6 481h4.8M448.6 489h4.8M406 504V520M403.6 504h4.8M403.6 520h4.8M466 506V520M463.6 506h4.8M463.6 520h4.8M470.4 505V515M468 505h4.8M468 515h4.8M420 504V514M417.6 504h4.8M417.6 514h4.8M488 502V510M485.6 502h4.8M485.6 510h4.8M515.6 505V517M513.2 505h4.8M513.2 517h4.8M536 481.6V489.6M533.6 481.6h4.8M533.6 489.6h4.8M523 504V514M520.6 504h4.8M520.6 514h4.8M530 500V508M527.6 500h4.8M527.6 508h4.8M524 486V496M521.6 486h4.8M521.6 496h4.8M199.9 495.2V498.7M197.5 495.2h4.8M197.5 498.7h4.8M199.9 497.5V501M197.5 497.5h4.8M197.5 501h4.8M201.5 496V499.5M199.1 496h4.8M199.1 499.5h4.8M201.5 498.3V501.8M199.1 498.3h4.8M199.1 501.8h4.8M203.2 497.1V500.7M200.8 497.1h4.8M200.8 500.7h4.8M203.2 500.7V504.2M200.8 500.7h4.8M200.8 504.2h4.8M205 493V496.9M202.6 493h4.8M202.6 496.9h4.8M205 498.3V501.8M202.6 498.3h4.8M202.6 501.8h4.8M205 500.7V504.2M202.6 500.7h4.8M202.6 504.2h4.8M206.6 496.5V499.7M204.2 496.5h4.8M204.2 499.7h4.8M208.2 495.6V499.1M205.8 495.6h4.8M205.8 499.1h4.8M208.2 497.9V501.4M205.8 497.9h4.8M205.8 501.4h4.8M209.9 496.5V499.7M207.5 496.5h4.8M207.5 499.7h4.8M211.6 496V499.5M209.2 496h4.8M209.2 499.5h4.8M211.6 498.7V502.2M209.2 498.7h4.8M209.2 502.2h4.8M213.3 497.3V500.5M210.9 497.3h4.8M210.9 500.5h4.8M215 495.6V499.1M212.6 495.6h4.8M212.6 499.1h4.8M215 498.3V501.8M212.6 498.3h4.8M212.6 501.8h4.8M216.8 497.5V501.4M214.4 497.5h4.8M214.4 501.4h4.8M216.8 499.7V503.6M214.4 499.7h4.8M214.4 503.6h4.8M218.6 495.1V499M216.2 495.1h4.8M216.2 499h4.8M218.6 497.5V501.4M216.2 497.5h4.8M216.2 501.4h4.8M198.2 496.3V499.9M195.8 496.3h4.8M195.8 499.9h4.8M196.5 497.5V501M194.1 497.5h4.8M194.1 501h4.8M223.4 501.3V504.7M221 501.3h4.8M221 504.7h4.8M223.4 497.7V502.7M221 497.7h4.8M221 502.7h4.8M223.5 493.4V498.4M221.1 493.4h4.8M221.1 498.4h4.8M225.1 494V497.8M222.7 494h4.8M222.7 497.8h4.8M226.9 498.4V502.8M224.5 498.4h4.8M224.5 502.8h4.8M228.5 497.4V500.7M226.1 497.4h4.8M226.1 500.7h4.8M230.2 496.1V500.2M227.8 496.1h4.8M227.8 500.2h4.8M231.9 492.2V495.7M229.5 492.2h4.8M229.5 495.7h4.8M231.8 494.6V499.6M229.4 494.6h4.8M229.4 499.6h4.8M233.6 489.8V495M231.2 489.8h4.8M231.2 495h4.8M233.6 496.4V501.2M231.2 496.4h4.8M231.2 501.2h4.8M236.9 494.6V500.1M234.5 494.6h4.8M234.5 500.1h4.8M240.2 493V508.6M237.8 493h4.8M237.8 508.6h4.8M240.3 494.2V504.9M237.9 494.2h4.8M237.9 504.9h4.8M241.9 494.9V499.9M239.5 494.9h4.8M239.5 499.9h4.8M241.9 494.3V499.3M239.5 494.3h4.8M239.5 499.3h4.8M242 496.1V503.8M239.6 496.1h4.8M239.6 503.8h4.8M243.7 496.6V503.3M241.3 496.6h4.8M241.3 503.3h4.8M247 499.1V504.3M244.6 499.1h4.8M244.6 504.3h4.8M247.1 495.1V499.9M244.7 495.1h4.8M244.7 499.9h4.8M248.7 496.6V500.1M246.3 496.6h4.8M246.3 500.1h4.8M248.8 493.4V496.4M246.4 493.4h4.8M246.4 496.4h4.8M252.1 491.8V496.8M249.7 491.8h4.8M249.7 496.8h4.8M252.1 496.2V499.9M249.7 496.2h4.8M249.7 499.9h4.8M253.8 497.3V502.6M251.4 497.3h4.8M251.4 502.6h4.8M253.7 496.2V501.2M251.3 496.2h4.8M251.3 501.2h4.8M260.6 493.2V496.1M258.2 493.2h4.8M258.2 496.1h4.8M260.5 500.5V504.8M258.1 500.5h4.8M258.1 504.8h4.8M260.5 496.4V500.3M258.1 496.4h4.8M258.1 500.3h4.8M262.2 498.6V501.8M259.8 498.6h4.8M259.8 501.8h4.8M262.3 493.3V498.9M259.9 493.3h4.8M259.9 498.9h4.8M263.8 497.9V505.9M261.4 497.9h4.8M261.4 505.9h4.8M263.8 499V505.9M261.4 499h4.8M261.4 505.9h4.8M265.6 494.7V498.4M263.2 494.7h4.8M263.2 498.4h4.8M267.3 501.9V514.8M264.9 501.9h4.8M264.9 514.8h4.8M268.9 490.2V512.5M266.5 490.2h4.8M266.5 512.5h4.8M272.3 501.4V506.7M269.9 501.4h4.8M269.9 506.7h4.8M272.4 493.1V500.7M270 493.1h4.8M270 500.7h4.8M272.3 495.2V500.4M269.9 495.2h4.8M269.9 500.4h4.8M274.1 504.7V515.2M271.7 504.7h4.8M271.7 515.2h4.8M274 495.1V513.4M271.6 495.1h4.8M271.6 513.4h4.8M282.5 494.5V500M280.1 494.5h4.8M280.1 500h4.8M282.5 495.4V500.1M280.1 495.4h4.8M280.1 500.1h4.8M282.5 495.5V498.9M280.1 495.5h4.8M280.1 498.9h4.8M284.1 487.8V497.7M281.7 487.8h4.8M281.7 497.7h4.8M284.1 488.1V500.5M281.7 488.1h4.8M281.7 500.5h4.8M285.9 495.2V500M283.5 495.2h4.8M283.5 500h4.8M287.6 498.5V501.9M285.2 498.5h4.8M285.2 501.9h4.8M287.6 492.6V496.4M285.2 492.6h4.8M285.2 496.4h4.8M290.9 496.1V500.6M288.5 496.1h4.8M288.5 500.6h4.8M291 496.5V500.1M288.6 496.5h4.8M288.6 500.1h4.8M290.9 496.6V500M288.5 496.6h4.8M288.5 500h4.8M292.6 496.8V501.1M290.2 496.8h4.8M290.2 501.1h4.8M292.6 497.6V502M290.2 497.6h4.8M290.2 502h4.8M295.9 482.4V497.8M293.5 482.4h4.8M293.5 497.8h4.8M296 489.3V500.7M293.6 489.3h4.8M293.6 500.7h4.8M299.3 499.5V503.9M296.9 499.5h4.8M296.9 503.9h4.8M299.3 493.7V497M296.9 493.7h4.8M296.9 497h4.8M302.7 498.2V502.5M300.3 498.2h4.8M300.3 502.5h4.8M304.4 480.2V499.1M302 480.2h4.8M302 499.1h4.8M307.7 499V501.9M305.3 499h4.8M305.3 501.9h4.8M311.1 495.3V498.5M308.7 495.3h4.8M308.7 498.5h4.8M311.1 498.1V501.6M308.7 498.1h4.8M308.7 501.6h4.8M311.1 498.5V503.4M308.7 498.5h4.8M308.7 503.4h4.8M312.8 496.5V500.1M310.4 496.5h4.8M310.4 500.1h4.8M316.2 490.6V496.9M313.8 490.6h4.8M313.8 496.9h4.8M321.3 495.6V499.7M318.9 495.6h4.8M318.9 499.7h4.8M321.2 498.5V501.8M318.8 498.5h4.8M318.8 501.8h4.8M326.4 497.2V500.5M324 497.2h4.8M324 500.5h4.8M327.9 496.7V501.1M325.5 496.7h4.8M325.5 501.1h4.8M331.3 495.7V500M328.9 495.7h4.8M328.9 500h4.8M331.4 493.9V499.5M329 493.9h4.8M329 499.5h4.8M331.3 494.2V497.5M328.9 494.2h4.8M328.9 497.5h4.8M336.4 494.7V500.9M334 494.7h4.8M334 500.9h4.8M336.5 499V503.3M334.1 499h4.8M334.1 503.3h4.8M338.2 501.1V505.3M335.8 501.1h4.8M335.8 505.3h4.8M338 494.7V498.3M335.6 494.7h4.8M335.6 498.3h4.8M343.2 496.5V501.3M340.8 496.5h4.8M340.8 501.3h4.8M343.2 495.1V498.9M340.8 495.1h4.8M340.8 498.9h4.8M343.1 493.4V496.8M340.7 493.4h4.8M340.7 496.8h4.8M349.8 497.1V501.1M347.4 497.1h4.8M347.4 501.1h4.8M349.9 498.1V501.5M347.5 498.1h4.8M347.5 501.5h4.8M349.9 493.4V497.5M347.5 493.4h4.8M347.5 497.5h4.8M351.5 500.5V503.4M349.1 500.5h4.8M349.1 503.4h4.8M353.3 497V504.7M350.9 497h4.8M350.9 504.7h4.8M353.3 497.3V503.8M350.9 497.3h4.8M350.9 503.8h4.8M356.6 497.3V501.7M354.2 497.3h4.8M354.2 501.7h4.8M358.3 496.2V499.8M355.9 496.2h4.8M355.9 499.8h4.8M358.3 495.2V500.7M355.9 495.2h4.8M355.9 500.7h4.8M360 499.4V503.1M357.6 499.4h4.8M357.6 503.1h4.8M361.7 493.5V503.2M359.3 493.5h4.8M359.3 503.2h4.8M363.3 498.3V503.2M360.9 498.3h4.8M360.9 503.2h4.8M363.5 497.3V502.6M361.1 497.3h4.8M361.1 502.6h4.8M365.1 498.9V501.9M362.7 498.9h4.8M362.7 501.9h4.8M365.1 493.9V496.7M362.7 493.9h4.8M362.7 496.7h4.8M365.2 495.6V498.6M362.8 495.6h4.8M362.8 498.6h4.8M366.8 496.3V500.4M364.4 496.3h4.8M364.4 500.4h4.8M368.4 493.8V497.4M366 493.8h4.8M366 497.4h4.8M368.5 491.3V495.4M366.1 491.3h4.8M366.1 495.4h4.8M368.5 497.2V501.4M366.1 497.2h4.8M366.1 501.4h4.8M370.1 498V501.8M367.7 498h4.8M367.7 501.8h4.8M370.1 498.4V504M367.7 498.4h4.8M367.7 504h4.8M375.2 500.7V506M372.8 500.7h4.8M372.8 506h4.8M376.8 498.8V504.1M374.4 498.8h4.8M374.4 504.1h4.8M378.6 495.6V499.1M376.2 495.6h4.8M376.2 499.1h4.8M378.6 495.9V499.2M376.2 495.9h4.8M376.2 499.2h4.8M380.2 493.4V496.6M377.8 493.4h4.8M377.8 496.6h4.8M380.3 498.1V502.7M377.9 498.1h4.8M377.9 502.7h4.8M382 498.1V502.8M379.6 498.1h4.8M379.6 502.8h4.8M382 496.5V500.7M379.6 496.5h4.8M379.6 500.7h4.8M383.7 495.8V499.2M381.3 495.8h4.8M381.3 499.2h4.8M383.6 496.5V499.5M381.2 496.5h4.8M381.2 499.5h4.8M383.7 498.7V502.6M381.3 498.7h4.8M381.3 502.6h4.8M385.3 484.6V492.9M382.9 484.6h4.8M382.9 492.9h4.8M385.4 497V506.5M383 497h4.8M383 506.5h4.8M388.7 474.6V498.7M386.3 474.6h4.8M386.3 498.7h4.8M388.8 498.9V514.7M386.4 498.9h4.8M386.4 514.7h4.8M392 498.1V502.1M389.6 498.1h4.8M389.6 502.1h4.8M397.2 494.3V499.9M394.8 494.3h4.8M394.8 499.9h4.8M397.1 495.3V498.5M394.7 495.3h4.8M394.7 498.5h4.8M397.1 497.6V500.6M394.7 497.6h4.8M394.7 500.6h4.8M398.8 496.4V508.4M396.4 496.4h4.8M396.4 508.4h4.8M398.8 495.1V502.3M396.4 495.1h4.8M396.4 502.3h4.8M398.8 489.1V501M396.4 489.1h4.8M396.4 501h4.8M400.4 493.8V498.4M398 493.8h4.8M398 498.4h4.8M400.5 493.4V498.5M398.1 493.4h4.8M398.1 498.5h4.8M400.6 497.3V501M398.2 497.3h4.8M398.2 501h4.8M407.2 495.3V500.4M404.8 495.3h4.8M404.8 500.4h4.8M407.3 497.4V501.3M404.9 497.4h4.8M404.9 501.3h4.8M407.3 495.8V499.4M404.9 495.8h4.8M404.9 499.4h4.8M412.3 494.6V501.3M409.9 494.6h4.8M409.9 501.3h4.8M415.6 498.9V502.2M413.2 498.9h4.8M413.2 502.2h4.8M415.7 498V501.5M413.3 498h4.8M413.3 501.5h4.8M417.3 496.9V500.6M414.9 496.9h4.8M414.9 500.6h4.8M417.3 496.9V499.8M414.9 496.9h4.8M414.9 499.8h4.8M419.1 496.3V501.4M416.7 496.3h4.8M416.7 501.4h4.8M419.1 492V497.5M416.7 492h4.8M416.7 497.5h4.8M420.7 495.4V498.5M418.3 495.4h4.8M418.3 498.5h4.8M420.7 493.2V497.2M418.3 493.2h4.8M418.3 497.2h4.8M422.5 498.6V503M420.1 498.6h4.8M420.1 503h4.8M425.8 496.7V499.7M423.4 496.7h4.8M423.4 499.7h4.8M425.8 496.2V501.7M423.4 496.2h4.8M423.4 501.7h4.8M430.8 494.6V498.2M428.4 494.6h4.8M428.4 498.2h4.8M430.9 494.3V498.4M428.5 494.3h4.8M428.5 498.4h4.8M435.9 498.7V502.3M433.5 498.7h4.8M433.5 502.3h4.8M437.6 498.4V504.9M435.2 498.4h4.8M435.2 504.9h4.8M439.3 498.3V501.2M436.9 498.3h4.8M436.9 501.2h4.8M439.4 496.1V499.9M437 496.1h4.8M437 499.9h4.8M439.3 493V498.4M436.9 493h4.8M436.9 498.4h4.8M444.4 493.3V497.9M442 493.3h4.8M442 497.9h4.8M446.1 497.2V501.3M443.7 497.2h4.8M443.7 501.3h4.8M449.3 495.9V501.3M446.9 495.9h4.8M446.9 501.3h4.8M449.4 495.5V498.5M447 495.5h4.8M447 498.5h4.8M449.4 493.7V496.7M447 493.7h4.8M447 496.7h4.8M454.4 498V501.7M452 498h4.8M452 501.7h4.8M454.5 496.5V501.8M452.1 496.5h4.8M452.1 501.8h4.8M456.2 499.6V503M453.8 499.6h4.8M453.8 503h4.8M456.2 494.5V497.8M453.8 494.5h4.8M453.8 497.8h4.8M456.1 498V503.4M453.7 498h4.8M453.7 503.4h4.8M457.9 494V506.3M455.5 494h4.8M455.5 506.3h4.8M457.8 489.7V505.9M455.4 489.7h4.8M455.4 505.9h4.8M457.9 487.9V502.6M455.5 487.9h4.8M455.5 502.6h4.8M459.6 491.9V497.7M457.2 491.9h4.8M457.2 497.7h4.8M459.6 491.6V499.7M457.2 491.6h4.8M457.2 499.7h4.8M462.9 497.8V501.7M460.5 497.8h4.8M460.5 501.7h4.8M464.7 497.2V503.9M462.3 497.2h4.8M462.3 503.9h4.8M464.6 494.9V500.7M462.2 494.9h4.8M462.2 500.7h4.8M464.6 496.4V503.5M462.2 496.4h4.8M462.2 503.5h4.8M466.3 497.2V508.7M463.9 497.2h4.8M463.9 508.7h4.8M466.2 494.8V501.4M463.8 494.8h4.8M463.8 501.4h4.8M466.2 493.7V505.8M463.8 493.7h4.8M463.8 505.8h4.8M468 496.7V502.1M465.6 496.7h4.8M465.6 502.1h4.8M467.9 495.9V500.1M465.5 495.9h4.8M465.5 500.1h4.8M469.7 494V497.7M467.3 494h4.8M467.3 497.7h4.8M471.4 496.2V501.3M469 496.2h4.8M469 501.3h4.8M471.3 498.9V504.3M468.9 498.9h4.8M468.9 504.3h4.8M471.3 499.7V504.3M468.9 499.7h4.8M468.9 504.3h4.8M473.1 502.8V508.2M470.7 502.8h4.8M470.7 508.2h4.8M474.7 495.7V499.2M472.3 495.7h4.8M472.3 499.2h4.8M474.7 497.6V502.7M472.3 497.6h4.8M472.3 502.7h4.8M474.8 495.9V500.9M472.4 495.9h4.8M472.4 500.9h4.8M478.1 492.8V500.5M475.7 492.8h4.8M475.7 500.5h4.8M481.4 497V501.5M479 497h4.8M479 501.5h4.8M481.4 497.1V502.5M479 497.1h4.8M479 502.5h4.8M486.5 491.5V496.7M484.1 491.5h4.8M484.1 496.7h4.8M486.5 497V500.2M484.1 497h4.8M484.1 500.2h4.8M488.2 495.3V500.2M485.8 495.3h4.8M485.8 500.2h4.8M489.8 501V505.2M487.4 501h4.8M487.4 505.2h4.8M489.8 492.8V495.8M487.4 492.8h4.8M487.4 495.8h4.8M494.9 482.1V498.5M492.5 482.1h4.8M492.5 498.5h4.8M496.7 495.6V499.6M494.3 495.6h4.8M494.3 499.6h4.8M498.3 485.3V494.6M495.9 485.3h4.8M495.9 494.6h4.8M501.6 491.5V497.1M499.2 491.5h4.8M499.2 497.1h4.8M501.7 495.6V498.6M499.3 495.6h4.8M499.3 498.6h4.8M503.4 492V495.9M501 492h4.8M501 495.9h4.8M503.3 496.6V502.1M500.9 496.6h4.8M500.9 502.1h4.8M503.4 496.1V499.6M501 496.1h4.8M501 499.6h4.8M505.1 498.2V501.2M502.7 498.2h4.8M502.7 501.2h4.8M505.1 500.4V503.9M502.7 500.4h4.8M502.7 503.9h4.8M508.4 502.8V519.9M506 502.8h4.8M506 519.9h4.8M508.4 498.3V512.4M506 498.3h4.8M506 512.4h4.8M510.1 486.5V502.1M507.7 486.5h4.8M507.7 502.1h4.8M510.2 490.3V504.9M507.8 490.3h4.8M507.8 504.9h4.8M510.2 476.9V492.9M507.8 476.9h4.8M507.8 492.9h4.8M511.9 495V498.7M509.5 495h4.8M509.5 498.7h4.8M513.6 497.9V501.2M511.2 497.9h4.8M511.2 501.2h4.8M513.4 494.1V497.8M511 494.1h4.8M511 497.8h4.8M515.2 495.3V502.8M512.8 495.3h4.8M512.8 502.8h4.8M515.1 492.8V497.1M512.7 492.8h4.8M512.7 497.1h4.8M515.3 492.6V498.7M512.9 492.6h4.8M512.9 498.7h4.8M516.9 499.3V507.2M514.5 499.3h4.8M514.5 507.2h4.8M518.5 495.5V503.6M516.1 495.5h4.8M516.1 503.6h4.8M518.6 495V503M516.2 495h4.8M516.2 503h4.8M518.6 490V497M516.2 490h4.8M516.2 497h4.8M522 499.6V504.4M519.6 499.6h4.8M519.6 504.4h4.8M523.7 493.7V499.2M521.3 493.7h4.8M521.3 499.2h4.8M523.6 501.4V505M521.2 501.4h4.8M521.2 505h4.8M527 494.7V503.6M524.6 494.7h4.8M524.6 503.6h4.8M527 485.6V498M524.6 485.6h4.8M524.6 498h4.8M528.7 497.1V502.7M526.3 497.1h4.8M526.3 502.7h4.8M530.4 494.5V515.4M528 494.5h4.8M528 515.4h4.8M532.1 489.6V501.6M529.7 489.6h4.8M529.7 501.6h4.8M532.1 491.1V498.2M529.7 491.1h4.8M529.7 498.2h4.8M532 496.6V507.8M529.6 496.6h4.8M529.6 507.8h4.8M533.8 493.7V497.7M531.4 493.7h4.8M531.4 497.7h4.8M533.8 493.8V497.3M531.4 493.8h4.8M531.4 497.3h4.8M533.7 493.2V498.4M531.3 493.2h4.8M531.3 498.4h4.8M535.5 497.5V501.1M533.1 497.5h4.8M533.1 501.1h4.8M537.1 496.3V499.9M534.7 496.3h4.8M534.7 499.9h4.8M537.1 498V502.5M534.7 498h4.8M534.7 502.5h4.8M538.8 492.7V511M536.4 492.7h4.8M536.4 511h4.8M538.8 485.8V504.4M536.4 485.8h4.8M536.4 504.4h4.8M538.8 505.5V517.6M536.4 505.5h4.8M536.4 517.6h4.8"/><path stroke-width="5" stroke-linecap="round" d="M137.4 469.3h0M137.4 469.8h0M137.4 470.5h0M137.4 470.9h0M144.1 486.5h0M144.1 489.5h0M147.6 487.3h0M150.9 487.7h0M152.6 482.2h0M154.2 493.2h0M155.8 491.3h0M161 493.5h0M162.7 492.9h0M162.7 500.6h0M164.5 493.1h0M166.1 499.4h0M166.1 503.5h0M167.9 498.1h0M167.9 499.7h0M167.9 501h0M171.1 492.6h0M171.1 494.8h0M171.1 498.1h0M172.9 491.5h0M176.2 487.7h0M176.2 500.2h0M177.9 493.3h0M177.9 494.9h0M177.9 502.7h0M179.6 490.8h0M186.4 495.2h0M186.4 498.7h0M187.9 492.7h0M189.8 494.9h0M189.8 502.5h0M191.5 502.4h0M193.2 502.5h0M194.6 496.6h0M194.6 499.3h0M194.6 501.3h0M196.5 495.2h0M216.7 490.6h0M218.4 493.6h0M217 495.8h0M203.2 496.2h0M199.9 501.9h0M209.9 318.2h0M255.5 387.8h0M280.5 368.6h0M297.3 377.9h0M355.9 450.2h0M416.9 453.7h0M411.9 464.3h0M462 464.2h0M225.6 481h0M255 485h0M254 509h0M279 478h0M218 510h0M296 511h0M271 512h0M356 449h0M368 474h0M311.6 483h0M322 481h0M406 488h0M406 500h0M410 470h0M384 489h0M383 509h0M296 510h0M304 514h0M328 514h0M341 514h0M417 453.6h0M411.6 464.4h0M410 473h0M475.6 470h0M496 468.5h0M504.4 477h0M471 482h0M451 485h0M406 512h0M466 513h0M470.4 510h0M420 509h0M488 506h0M515.6 511h0M536 485.6h0M523 509h0M530 504h0M524 491h0M199.9 496.9h0M199.9 499.3h0M201.5 497.7h0M201.5 500.1h0M203.2 498.9h0M203.2 502.4h0M205 495h0M205 500.1h0M205 502.4h0M206.6 498.1h0M208.2 497.3h0M208.2 499.7h0M209.9 498.1h0M211.6 497.7h0M211.6 500.5h0M213.3 498.9h0M215 497.3h0M215 500.1h0M216.8 499.5h0M216.8 501.6h0M218.6 497.1h0M218.6 499.5h0M198.2 498.1h0M196.5 499.3h0M223.4 503h0M223.4 500.2h0M223.5 495.9h0M225.1 495.9h0M226.9 500.6h0M228.5 499h0M230.2 498.1h0M231.9 494h0M231.8 497.1h0M233.6 492.4h0M233.6 498.8h0M236.9 497.3h0M240.2 500.8h0M240.3 499.5h0M241.9 497.4h0M241.9 496.8h0M242 499.9h0M243.7 499.9h0M247 501.7h0M247.1 497.5h0M248.7 498.3h0M248.8 494.9h0M252.1 494.3h0M252.1 498h0M253.8 499.9h0M253.7 498.7h0M260.6 494.6h0M260.5 502.7h0M260.5 498.3h0M262.2 500.2h0M262.3 496.1h0M263.8 501.9h0M263.8 502.4h0M265.6 496.6h0M267.3 508.4h0M268.9 501.3h0M272.3 504.1h0M272.4 496.9h0M272.3 497.8h0M274.1 510h0M274 504.2h0M282.5 497.3h0M282.5 497.7h0M282.5 497.2h0M284.1 492.7h0M284.1 494.3h0M285.9 497.6h0M287.6 500.2h0M287.6 494.5h0M290.9 498.3h0M291 498.3h0M290.9 498.3h0M292.6 498.9h0M292.6 499.8h0M295.9 490.1h0M296 495h0M299.3 501.7h0M299.3 495.3h0M302.7 500.3h0M304.4 489.6h0M307.7 500.4h0M311.1 496.9h0M311.1 499.9h0M311.1 501h0M312.8 498.3h0M316.2 493.7h0M321.3 497.7h0M321.2 500.2h0M326.4 498.9h0M327.9 498.9h0M331.3 497.8h0M331.4 496.7h0M331.3 495.9h0M336.4 497.8h0M336.5 501.2h0M338.2 503.2h0M338 496.5h0M343.2 498.9h0M343.2 497h0M343.1 495.1h0M349.8 499.1h0M349.9 499.8h0M349.9 495.5h0M351.5 502h0M353.3 500.9h0M353.3 500.5h0M356.6 499.5h0M358.3 498h0M358.3 497.9h0M360 501.2h0M361.7 498.4h0M363.3 500.8h0M363.5 499.9h0M365.1 500.4h0M365.1 495.3h0M365.2 497.1h0M366.8 498.3h0M368.4 495.6h0M368.5 493.3h0M368.5 499.3h0M370.1 499.9h0M370.1 501.2h0M375.2 503.4h0M376.8 501.5h0M378.6 497.3h0M378.6 497.5h0M380.2 495h0M380.3 500.4h0M382 500.5h0M382 498.6h0M383.7 497.5h0M383.6 498h0M383.7 500.7h0M385.3 488.8h0M385.4 501.7h0M388.7 486.6h0M388.8 506.8h0M392 500.1h0M397.2 497.1h0M397.1 496.9h0M397.1 499.1h0M398.8 502.4h0M398.8 498.7h0M398.8 495.1h0M400.4 496.1h0M400.5 496h0M400.6 499.2h0M407.2 497.8h0M407.3 499.3h0M407.3 497.6h0M412.3 498h0M415.6 500.5h0M415.7 499.7h0M417.3 498.8h0M417.3 498.3h0M419.1 498.9h0M419.1 494.7h0M420.7 496.9h0M420.7 495.2h0M422.5 500.8h0M425.8 498.2h0M425.8 498.9h0M430.8 496.4h0M430.9 496.4h0M435.9 500.5h0M437.6 501.6h0M439.3 499.8h0M439.4 498h0M439.3 495.7h0M444.4 495.6h0M446.1 499.3h0M449.3 498.6h0M449.4 497h0M449.4 495.2h0M454.4 499.9h0M454.5 499.2h0M456.2 501.3h0M456.2 496.1h0M456.1 500.7h0M457.9 500.2h0M457.8 497.8h0M457.9 495.3h0M459.6 494.8h0M459.6 495.6h0M462.9 499.7h0M464.7 500.6h0M464.6 497.8h0M464.6 499.9h0M466.3 502.9h0M466.2 498.1h0M466.2 499.8h0M468 499.4h0M467.9 498h0M469.7 495.8h0M471.4 498.7h0M471.3 501.6h0M471.3 502h0M473.1 505.5h0M474.7 497.4h0M474.7 500.1h0M474.8 498.4h0M478.1 496.6h0M481.4 499.2h0M481.4 499.8h0M486.5 494.1h0M486.5 498.6h0M488.2 497.7h0M489.8 503.1h0M489.8 494.3h0M494.9 490.3h0M496.7 497.6h0M498.3 489.9h0M501.6 494.3h0M501.7 497.1h0M503.4 493.9h0M503.3 499.4h0M503.4 497.8h0M505.1 499.7h0M505.1 502.2h0M508.4 511.4h0M508.4 505.4h0M510.1 494.3h0M510.2 497.6h0M510.2 484.9h0M511.9 496.8h0M513.6 499.5h0M513.4 496h0M515.2 499h0M515.1 494.9h0M515.3 495.6h0M516.9 503.3h0M518.5 499.6h0M518.6 499h0M518.6 493.5h0M522 502h0M523.7 496.4h0M523.6 503.2h0M527 499.1h0M527 491.8h0M528.7 499.9h0M530.4 504.9h0M532.1 495.6h0M532.1 494.7h0M532 502.2h0M533.8 495.7h0M533.8 495.5h0M533.7 495.8h0M535.5 499.3h0M537.1 498.1h0M537.1 500.3h0M538.8 501.9h0M538.8 495.1h0M538.8 511.5h0"/></g>
<g clip-path="url(#c2)" stroke="#fb3a22" fill="none"><path stroke-width="1.7" d="M100.5 492.7V497M98.1 492.7h4.8M98.1 497h4.8M102.3 491.2V494.8M99.9 491.2h4.8M99.9 494.8h4.8M103.9 493.5V496.9M101.5 493.5h4.8M101.5 496.9h4.8M105.7 492.9V496.5M103.3 492.9h4.8M103.3 496.5h4.8M109.1 489.6V493.1M106.7 489.6h4.8M106.7 493.1h4.8M109.1 491.1V495.3M106.7 491.1h4.8M106.7 495.3h4.8M112.5 487.6V490.8M110.1 487.6h4.8M110.1 490.8h4.8M114.2 492.5V496.4M111.8 492.5h4.8M111.8 496.4h4.8M115.9 489.6V492.3M113.5 489.6h4.8M113.5 492.3h4.8M117.6 487.5V490.6M115.2 487.5h4.8M115.2 490.6h4.8M119.3 486.3V488.9M116.9 486.3h4.8M116.9 488.9h4.8M120.9 484.8V487.3M118.5 484.8h4.8M118.5 487.3h4.8M131.2 466.7V468M128.8 466.7h4.8M128.8 468h4.8M132.8 462.4V463.3M130.4 462.4h4.8M130.4 463.3h4.8M132.9 462.6V463.6M130.5 462.6h4.8M130.5 463.6h4.8M132.9 462.9V463.8M130.5 462.9h4.8M130.5 463.8h4.8M133 463.1V464.1M130.6 463.1h4.8M130.6 464.1h4.8M133.1 463.3V464.3M130.7 463.3h4.8M130.7 464.3h4.8M134.4 462.6V463.9M132 462.6h4.8M132 463.9h4.8M134.5 462.9V464.2M132.1 462.9h4.8M132.1 464.2h4.8M134.5 463.2V464.5M132.1 463.2h4.8M132.1 464.5h4.8M134.6 463.6V464.9M132.2 463.6h4.8M132.2 464.9h4.8M137.8 470.5V472.2M135.4 470.5h4.8M135.4 472.2h4.8M137.9 472.9V474.6M135.5 472.9h4.8M135.5 474.6h4.8M139.5 471.1V472.8M137.1 471.1h4.8M137.1 472.8h4.8M139.5 471.8V473.6M137.1 471.8h4.8M137.1 473.6h4.8M139.7 475.8V477.7M137.3 475.8h4.8M137.3 477.7h4.8M141.3 478.6V480.5M138.9 478.6h4.8M138.9 480.5h4.8M141.3 479.2V481.1M138.9 479.2h4.8M138.9 481.1h4.8M142.9 481.3V483.3M140.5 481.3h4.8M140.5 483.3h4.8M142.9 483.4V485.3M140.5 483.4h4.8M140.5 485.3h4.8M144.6 482.4V484.4M142.2 482.4h4.8M142.2 484.4h4.8M144.6 483.6V485.5M142.2 483.6h4.8M142.2 485.5h4.8M144.6 484.7V486.8M142.2 484.7h4.8M142.2 486.8h4.8M146.4 478.4V484.2M144 478.4h4.8M144 484.2h4.8M146.4 482.7V485.1M144 482.7h4.8M144 485.1h4.8M146.3 484.7V487.4M143.9 484.7h4.8M143.9 487.4h4.8M148 485.7V488M145.6 485.7h4.8M145.6 488h4.8M148 486.9V489.4M145.6 486.9h4.8M145.6 489.4h4.8M149.6 485.8V488.4M147.2 485.8h4.8M147.2 488.4h4.8M149.6 486.7V489.2M147.2 486.7h4.8M147.2 489.2h4.8M149.6 488.3V491.1M147.2 488.3h4.8M147.2 491.1h4.8M151.3 488.7V491.5M148.9 488.7h4.8M148.9 491.5h4.8M151.3 490.3V493.2M148.9 490.3h4.8M148.9 493.2h4.8M153 487.6V490.3M150.6 487.6h4.8M150.6 490.3h4.8M153 489.1V491.8M150.6 489.1h4.8M150.6 491.8h4.8M153 489.9V492.9M150.6 489.9h4.8M150.6 492.9h4.8M154.7 488.8V491.5M152.3 488.8h4.8M152.3 491.5h4.8M154.7 490.7V493.4M152.3 490.7h4.8M152.3 493.4h4.8M156.4 487.6V490.4M154 487.6h4.8M154 490.4h4.8M156.4 489.1V491.8M154 489.1h4.8M154 491.8h4.8M156.4 490V492.8M154 490h4.8M154 492.8h4.8M156.4 492.2V494.9M154 492.2h4.8M154 494.9h4.8M158.1 487.7V490.9M155.7 487.7h4.8M155.7 490.9h4.8M158.1 489.2V492.3M155.7 489.2h4.8M155.7 492.3h4.8M159.7 491.1V493.4M157.3 491.1h4.8M157.3 493.4h4.8M159.7 492V494.4M157.3 492h4.8M157.3 494.4h4.8M159.7 492.9V495.2M157.3 492.9h4.8M157.3 495.2h4.8M161.4 491V493.8M159 491h4.8M159 493.8h4.8M161.4 492.8V495.6M159 492.8h4.8M159 495.6h4.8M161.4 493.5V496.2M159 493.5h4.8M159 496.2h4.8M161.4 494.3V497M159 494.3h4.8M159 497h4.8M163.1 491.8V494.6M160.7 491.8h4.8M160.7 494.6h4.8M163.1 492.8V495.6M160.7 492.8h4.8M160.7 495.6h4.8M163.1 493.8V496.5M160.7 493.8h4.8M160.7 496.5h4.8M163.1 494.8V500.7M160.7 494.8h4.8M160.7 500.7h4.8M164.8 491.7V494.7M162.4 491.7h4.8M162.4 494.7h4.8M164.8 493.5V496.2M162.4 493.5h4.8M162.4 496.2h4.8M164.8 494.6V497.4M162.4 494.6h4.8M162.4 497.4h4.8M164.8 495.8V498.5M162.4 495.8h4.8M162.4 498.5h4.8M166.5 493.5V496.2M164.1 493.5h4.8M164.1 496.2h4.8M166.5 494.1V496.9M164.1 494.1h4.8M164.1 496.9h4.8M166.5 496.1V498.8M164.1 496.1h4.8M164.1 498.8h4.8M166.5 497.1V499.8M164.1 497.1h4.8M164.1 499.8h4.8M166.5 498.1V500.8M164.1 498.1h4.8M164.1 500.8h4.8M168.3 491.6V494.8M165.9 491.6h4.8M165.9 494.8h4.8M168.3 493.3V496.4M165.9 493.3h4.8M165.9 496.4h4.8M168.3 494.1V497.2M165.9 494.1h4.8M165.9 497.2h4.8M170 492.6V495.8M167.6 492.6h4.8M167.6 495.8h4.8M170 494.3V497.4M167.6 494.3h4.8M167.6 497.4h4.8M170 495.7V498.9M167.6 495.7h4.8M167.6 498.9h4.8M170 488.2V501.5M167.6 488.2h4.8M167.6 501.5h4.8M171.6 492.6V495.8M169.2 492.6h4.8M169.2 495.8h4.8M171.6 494.9V498.1M169.2 494.9h4.8M169.2 498.1h4.8M171.6 496.4V501.5M169.2 496.4h4.8M169.2 501.5h4.8M173.4 489.3V496M171 489.3h4.8M171 496h4.8M173.4 494.8V497.9M171 494.8h4.8M171 497.9h4.8M173.4 496.2V499.4M171 496.2h4.8M171 499.4h4.8M173.4 497.4V500.6M171 497.4h4.8M171 500.6h4.8M175 494.3V497.8M172.6 494.3h4.8M172.6 497.8h4.8M175 495.8V499.3M172.6 495.8h4.8M172.6 499.3h4.8M175 497.2V500.8M172.6 497.2h4.8M172.6 500.8h4.8M176.7 493.3V496.4M174.3 493.3h4.8M174.3 496.4h4.8M176.7 494.8V497.9M174.3 494.8h4.8M174.3 497.9h4.8M176.7 496.2V499.4M174.3 496.2h4.8M174.3 499.4h4.8M176.7 497.7V500.9M174.3 497.7h4.8M174.3 500.9h4.8M178.5 494.3V497.8M176.1 494.3h4.8M176.1 497.8h4.8M178.5 495.5V499M176.1 495.5h4.8M176.1 499h4.8M178.5 496.6V500.2M176.1 496.6h4.8M176.1 500.2h4.8M178.5 498.9V502.8M176.1 498.9h4.8M176.1 502.8h4.8M180 493.4V498.1M177.6 493.4h4.8M177.6 498.1h4.8M180 494.9V499.6M177.6 494.9h4.8M177.6 499.6h4.8M180 498.7V503.4M177.6 498.7h4.8M177.6 503.4h4.8M180 501.2V505.9M177.6 501.2h4.8M177.6 505.9h4.8M181.7 481.9V489.8M179.3 481.9h4.8M179.3 489.8h4.8M181.7 487.4V496.1M179.3 487.4h4.8M179.3 496.1h4.8M181.8 487.5V498.5M179.4 487.5h4.8M179.4 498.5h4.8M181.8 491.8V504.4M179.4 491.8h4.8M179.4 504.4h4.8M183.5 483.8V491.3M181.1 483.8h4.8M181.1 491.3h4.8M183.5 488.6V494.9M181.1 488.6h4.8M181.1 494.9h4.8M183.5 493.8V497.7M181.1 493.8h4.8M181.1 497.7h4.8M183.5 497.3V501.2M181.1 497.3h4.8M181.1 501.2h4.8M183.5 498.1V504.4M181.1 498.1h4.8M181.1 504.4h4.8M185.2 494.7V497.4M182.8 494.7h4.8M182.8 497.4h4.8M185.2 495.9V498.6M182.8 495.9h4.8M182.8 498.6h4.8M185.2 496.7V499.5M182.8 496.7h4.8M182.8 499.5h4.8M185.2 497.9V500.7M182.8 497.9h4.8M182.8 500.7h4.8M186.9 493.9V497M184.5 493.9h4.8M184.5 497h4.8M186.9 495.1V498.2M184.5 495.1h4.8M184.5 498.2h4.8M186.9 496.2V499.4M184.5 496.2h4.8M184.5 499.4h4.8M186.9 497.4V500.6M184.5 497.4h4.8M184.5 500.6h4.8M188.5 487.9V491.8M186.1 487.9h4.8M186.1 491.8h4.8M188.5 490.6V494.5M186.1 490.6h4.8M186.1 494.5h4.8M188.5 493.6V496.7M186.1 493.6h4.8M186.1 496.7h4.8M188.5 496V499.1M186.1 496h4.8M186.1 499.1h4.8M188.5 497.7V500.9M186.1 497.7h4.8M186.1 500.9h4.8M188.5 499.8V502.9M186.1 499.8h4.8M186.1 502.9h4.8M190.3 493.3V496.4M187.9 493.3h4.8M187.9 496.4h4.8M190.3 494.8V497.9M187.9 494.8h4.8M187.9 497.9h4.8M190.3 496V499.1M187.9 496h4.8M187.9 499.1h4.8M190.3 498V501.1M187.9 498h4.8M187.9 501.1h4.8M190.3 499.8V502.9M187.9 499.8h4.8M187.9 502.9h4.8M191.9 494.2V497.3M189.5 494.2h4.8M189.5 497.3h4.8M191.9 495.1V498.2M189.5 495.1h4.8M189.5 498.2h4.8M191.9 496.5V499.7M189.5 496.5h4.8M189.5 499.7h4.8M191.9 498.3V501.4M189.5 498.3h4.8M189.5 501.4h4.8M193.5 492.5V497.2M191.1 492.5h4.8M191.1 497.2h4.8M193.5 495.7V498.8M191.1 495.7h4.8M191.1 498.8h4.8M193.5 497.1V500.3M191.1 497.1h4.8M191.1 500.3h4.8M193.5 499.8V502.9M191.1 499.8h4.8M191.1 502.9h4.8M195.3 494.7V497.4M192.9 494.7h4.8M192.9 497.4h4.8M195.3 495.6V498.3M192.9 495.6h4.8M192.9 498.3h4.8M195.3 496.7V499.5M192.9 496.7h4.8M192.9 499.5h4.8M195.3 499.1V501.8M192.9 499.1h4.8M192.9 501.8h4.8M196.9 494.2V497.3M194.5 494.2h4.8M194.5 497.3h4.8M196.9 495.7V498.8M194.5 495.7h4.8M194.5 498.8h4.8M196.9 497.1V500.3M194.5 497.1h4.8M194.5 500.3h4.8M262.9 368.9V385.9M260.5 368.9h4.8M260.5 385.9h4.8M279.2 393.1V401.1M276.8 393.1h4.8M276.8 401.1h4.8M338.5 373V386M336.1 373h4.8M336.1 386h4.8M341.5 336.9V344.9M339.1 336.9h4.8M339.1 344.9h4.8M403.6 429.8V441.8M401.2 429.8h4.8M401.2 441.8h4.8M231 472.5V483.5M228.6 472.5h4.8M228.6 483.5h4.8M273 476V486M270.6 476h4.8M270.6 486h4.8M294.4 476V486M292 476h4.8M292 486h4.8M275 505V515M272.6 505h4.8M272.6 515h4.8M227.6 507V517M225.2 507h4.8M225.2 517h4.8M295 508V518M292.6 508h4.8M292.6 518h4.8M301.6 462.1V481.1M299.2 462.1h4.8M299.2 481.1h4.8M325 473V483M322.6 473h4.8M322.6 483h4.8M339 474V484M336.6 474h4.8M336.6 484h4.8M355 476V486M352.6 476h4.8M352.6 486h4.8M365 477V487M362.6 477h4.8M362.6 487h4.8M388 477V485M385.6 477h4.8M385.6 485h4.8M340 512V528M337.6 512h4.8M337.6 528h4.8M365 509V519M362.6 509h4.8M362.6 519h4.8M318 506V514M315.6 506h4.8M315.6 514h4.8M458 473V481M455.6 473h4.8M455.6 481h4.8M502 473V481M499.6 473h4.8M499.6 481h4.8M433 506V514M430.6 506h4.8M430.6 514h4.8M414 504V512M411.6 504h4.8M411.6 512h4.8M531.6 477.5V490.5M529.2 477.5h4.8M529.2 490.5h4.8M541 494V500M538.6 494h4.8M538.6 500h4.8M539 501V507M536.6 501h4.8M536.6 507h4.8M151.3 488.9V492.2M148.9 488.9h4.8M148.9 492.2h4.8M151.3 487.8V491.2M148.9 487.8h4.8M148.9 491.2h4.8M152.9 491.1V494.5M150.5 491.1h4.8M150.5 494.5h4.8M153 490.3V493.2M150.6 490.3h4.8M150.6 493.2h4.8M154.6 489.1V492.2M152.2 489.1h4.8M152.2 492.2h4.8M154.7 488.5V491.8M152.3 488.5h4.8M152.3 491.8h4.8M156.4 489.5V492.3M154 489.5h4.8M154 492.3h4.8M156.3 489.6V492.2M153.9 489.6h4.8M153.9 492.2h4.8M158 491.4V494.5M155.6 491.4h4.8M155.6 494.5h4.8M158.1 491.6V494.7M155.7 491.6h4.8M155.7 494.7h4.8M159.7 491.7V494.5M157.3 491.7h4.8M157.3 494.5h4.8M159.7 493.7V496.6M157.3 493.7h4.8M157.3 496.6h4.8M161.3 494V496.7M158.9 494h4.8M158.9 496.7h4.8M161.4 492.8V495.9M159 492.8h4.8M159 495.9h4.8M163.1 493.1V496.4M160.7 493.1h4.8M160.7 496.4h4.8M163 494.2V497.3M160.6 494.2h4.8M160.6 497.3h4.8M164.8 496V499.2M162.4 496h4.8M162.4 499.2h4.8M164.7 493.6V496.5M162.3 493.6h4.8M162.3 496.5h4.8M166.4 494.7V497.7M164 494.7h4.8M164 497.7h4.8M166.5 495.6V498.8M164.1 495.6h4.8M164.1 498.8h4.8M168.2 493.6V496.4M165.8 493.6h4.8M165.8 496.4h4.8M168.1 493.3V496.3M165.7 493.3h4.8M165.7 496.3h4.8M169.8 495.9V498.7M167.4 495.9h4.8M167.4 498.7h4.8M169.9 495V498.4M167.5 495h4.8M167.5 498.4h4.8M171.5 494.2V497.6M169.1 494.2h4.8M169.1 497.6h4.8M171.6 494.1V497.2M169.2 494.1h4.8M169.2 497.2h4.8M173.2 496.5V500M170.8 496.5h4.8M170.8 500h4.8M173.2 495V498.4M170.8 495h4.8M170.8 498.4h4.8M174.9 493.5V496.5M172.5 493.5h4.8M172.5 496.5h4.8M174.9 496.6V499.3M172.5 496.6h4.8M172.5 499.3h4.8M176.6 495.9V499M174.2 495.9h4.8M174.2 499h4.8M176.6 495.3V497.9M174.2 495.3h4.8M174.2 497.9h4.8M178.3 495.8V498.6M175.9 495.8h4.8M175.9 498.6h4.8M178.3 494.9V497.9M175.9 494.9h4.8M175.9 497.9h4.8M180 498.4V501.3M177.6 498.4h4.8M177.6 501.3h4.8M180 495.7V498.6M177.6 495.7h4.8M177.6 498.6h4.8M181.6 495V498.4M179.2 495h4.8M179.2 498.4h4.8M181.6 494.3V497M179.2 494.3h4.8M179.2 497h4.8M183.4 494.3V497.1M181 494.3h4.8M181 497.1h4.8M183.3 497.1V499.7M180.9 497.1h4.8M180.9 499.7h4.8M185 494.9V498M182.6 494.9h4.8M182.6 498h4.8M185 494.3V497.1M182.6 494.3h4.8M182.6 497.1h4.8M186.7 496.9V499.9M184.3 496.9h4.8M184.3 499.9h4.8M186.8 494.7V497.6M184.4 494.7h4.8M184.4 497.6h4.8M188.4 493.8V496.9M186 493.8h4.8M186 496.9h4.8M188.5 495.7V498.8M186.1 495.7h4.8M186.1 498.8h4.8M190.1 494.6V497.7M187.7 494.6h4.8M187.7 497.7h4.8M190.1 495.9V498.9M187.7 495.9h4.8M187.7 498.9h4.8M191.8 494.3V497.3M189.4 494.3h4.8M189.4 497.3h4.8M191.8 497.4V500.2M189.4 497.4h4.8M189.4 500.2h4.8M193.5 495.5V498.8M191.1 495.5h4.8M191.1 498.8h4.8M193.5 498V501M191.1 498h4.8M191.1 501h4.8M195.1 494.5V497.1M192.7 494.5h4.8M192.7 497.1h4.8M195.1 495.1V498.4M192.7 495.1h4.8M192.7 498.4h4.8M196.8 495.1V498.2M194.4 495.1h4.8M194.4 498.2h4.8M196.8 495.9V498.9M194.4 495.9h4.8M194.4 498.9h4.8M198.6 497.1V500.3M196.2 497.1h4.8M196.2 500.3h4.8M198.5 495.4V498.1M196.1 495.4h4.8M196.1 498.1h4.8M182 502V516M179.6 502h4.8M179.6 516h4.8M168.2 500V506.2M165.8 500h4.8M165.8 506.2h4.8M169.8 500.1V506.4M167.4 500.1h4.8M167.4 506.4h4.8M174.9 500.6V505.9M172.5 500.6h4.8M172.5 505.9h4.8M178.2 499.3V504.9M175.8 499.3h4.8M175.8 504.9h4.8M181.6 500.1V505.4M179.2 500.1h4.8M179.2 505.4h4.8M183.3 499.2V505.3M180.9 499.2h4.8M180.9 505.3h4.8M186.7 500.3V506.3M184.3 500.3h4.8M184.3 506.3h4.8M190.1 499.9V505.9M187.7 499.9h4.8M187.7 505.9h4.8M193.5 498.9V505.2M191.1 498.9h4.8M191.1 505.2h4.8M196.9 500.5V505.8M194.5 500.5h4.8M194.5 505.8h4.8M201.9 499.1V505.2M199.5 499.1h4.8M199.5 505.2h4.8M203.6 499.2V505.6M201.2 499.2h4.8M201.2 505.6h4.8M206.9 499.8V506.3M204.5 499.8h4.8M204.5 506.3h4.8M212 499.7V505.8M209.6 499.7h4.8M209.6 505.8h4.8M213.6 499.9V506M211.2 499.9h4.8M211.2 506h4.8M218.8 500.2V505.9M216.4 500.2h4.8M216.4 505.9h4.8M220.5 500.5V506M218.1 500.5h4.8M218.1 506h4.8M200.1 494.6V497.1M197.7 494.6h4.8M197.7 497.1h4.8M200.2 495.6V498.2M197.8 495.6h4.8M197.8 498.2h4.8M200.2 495.8V498.5M197.8 495.8h4.8M197.8 498.5h4.8M200.1 497V499.4M197.7 497h4.8M197.7 499.4h4.8M200.2 498.1V500.7M197.8 498.1h4.8M197.8 500.7h4.8M200.2 498.6V501.1M197.8 498.6h4.8M197.8 501.1h4.8M201.8 494.4V497M199.4 494.4h4.8M199.4 497h4.8M201.8 495.4V498.1M199.4 495.4h4.8M199.4 498.1h4.8M201.9 496.4V499.2M199.5 496.4h4.8M199.5 499.2h4.8M201.8 497.1V499.5M199.4 497.1h4.8M199.4 499.5h4.8M201.8 498V500.6M199.4 498h4.8M199.4 500.6h4.8M201.9 498.8V501.5M199.5 498.8h4.8M199.5 501.5h4.8M203.5 494.1V497M201.1 494.1h4.8M201.1 497h4.8M203.6 495.2V497.6M201.2 495.2h4.8M201.2 497.6h4.8M203.6 496V498.8M201.2 496h4.8M201.2 498.8h4.8M203.6 496.5V498.9M201.2 496.5h4.8M201.2 498.9h4.8M203.6 498V500.5M201.2 498h4.8M201.2 500.5h4.8M203.5 498.6V501.4M201.1 498.6h4.8M201.1 501.4h4.8M205.3 494.7V497.1M202.9 494.7h4.8M202.9 497.1h4.8M205.3 495.3V498.1M202.9 495.3h4.8M202.9 498.1h4.8M205.3 496.4V499.2M202.9 496.4h4.8M202.9 499.2h4.8M205.3 497V499.7M202.9 497h4.8M202.9 499.7h4.8M205.2 497.8V500.6M202.8 497.8h4.8M202.8 500.6h4.8M205.3 499V501.5M202.9 499h4.8M202.9 501.5h4.8M206.9 494.4V497.2M204.5 494.4h4.8M204.5 497.2h4.8M206.9 495.5V498.2M204.5 495.5h4.8M204.5 498.2h4.8M207 496.2V499M204.6 496.2h4.8M204.6 499h4.8M207 497.1V499.5M204.6 497.1h4.8M204.6 499.5h4.8M207 497.7V500.1M204.6 497.7h4.8M204.6 500.1h4.8M207 498.9V501.8M204.6 498.9h4.8M204.6 501.8h4.8M208.6 491.2V494.9M206.2 491.2h4.8M206.2 494.9h4.8M208.6 493.3V496.6M206.2 493.3h4.8M206.2 496.6h4.8M208.6 494.7V497.6M206.2 494.7h4.8M206.2 497.6h4.8M208.7 496.3V499.8M206.3 496.3h4.8M206.3 499.8h4.8M208.6 497.3V500M206.2 497.3h4.8M206.2 500h4.8M208.6 498.3V501.7M206.2 498.3h4.8M206.2 501.7h4.8M208.6 500V503.8M206.2 500h4.8M206.2 503.8h4.8M210.4 494V497M208 494h4.8M208 497h4.8M210.3 495V497.9M207.9 495h4.8M207.9 497.9h4.8M210.2 496.1V499M207.8 496.1h4.8M207.8 499h4.8M210.3 496.7V499.9M207.9 496.7h4.8M207.9 499.9h4.8M210.3 498.1V501.1M207.9 498.1h4.8M207.9 501.1h4.8M210.3 499.1V502.4M207.9 499.1h4.8M207.9 502.4h4.8M212 492.9V496.1M209.6 492.9h4.8M209.6 496.1h4.8M212 495V497.9M209.6 495h4.8M209.6 497.9h4.8M211.9 495.1V498.8M209.5 495.1h4.8M209.5 498.8h4.8M212.1 496.6V500.3M209.7 496.6h4.8M209.7 500.3h4.8M212 498.5V501.7M209.6 498.5h4.8M209.6 501.7h4.8M212.1 499.8V502.9M209.7 499.8h4.8M209.7 502.9h4.8M213.7 494V497M211.3 494h4.8M211.3 497h4.8M213.7 495.1V498.5M211.3 495.1h4.8M211.3 498.5h4.8M213.7 496.3V499.7M211.3 496.3h4.8M211.3 499.7h4.8M213.7 497.7V501.1M211.3 497.7h4.8M211.3 501.1h4.8M213.7 498.7V502.2M211.3 498.7h4.8M211.3 502.2h4.8M213.6 500.2V503.5M211.2 500.2h4.8M211.2 503.5h4.8M215.3 494.2V497.1M212.9 494.2h4.8M212.9 497.1h4.8M215.4 495V498.7M213 495h4.8M213 498.7h4.8M215.4 496.2V499.2M213 496.2h4.8M213 499.2h4.8M215.4 497.2V500.5M213 497.2h4.8M213 500.5h4.8M215.4 497.8V500.9M213 497.8h4.8M213 500.9h4.8M215.4 498.8V501.8M213 498.8h4.8M213 501.8h4.8M217.1 494.2V497.4M214.7 494.2h4.8M214.7 497.4h4.8M217.1 494.7V498.1M214.7 494.7h4.8M214.7 498.1h4.8M217 496.4V499.6M214.6 496.4h4.8M214.6 499.6h4.8M217 496.6V499.9M214.6 496.6h4.8M214.6 499.9h4.8M217.1 497.7V501M214.7 497.7h4.8M214.7 501h4.8M217.1 499.1V501.9M214.7 499.1h4.8M214.7 501.9h4.8M218.7 493.8V497.1M216.3 493.8h4.8M216.3 497.1h4.8M218.7 495.1V498.1M216.3 495.1h4.8M216.3 498.1h4.8M218.7 496.2V499.1M216.3 496.2h4.8M216.3 499.1h4.8M218.7 496.9V500.4M216.3 496.9h4.8M216.3 500.4h4.8M218.8 498.2V501.4M216.4 498.2h4.8M216.4 501.4h4.8M218.8 498.9V502.3M216.4 498.9h4.8M216.4 502.3h4.8M220.5 493.7V497M218.1 493.7h4.8M218.1 497h4.8M220.4 495.3V498.4M218 495.3h4.8M218 498.4h4.8M220.4 496V499.3M218 496h4.8M218 499.3h4.8M220.4 496.9V500M218 496.9h4.8M218 500h4.8M220.5 498.2V501.4M218.1 498.2h4.8M218.1 501.4h4.8M220.5 499V502.6M218.1 499h4.8M218.1 502.6h4.8M222.1 497.2V500.8M219.7 497.2h4.8M219.7 500.8h4.8M222.1 497.9V500.9M219.7 497.9h4.8M219.7 500.9h4.8M222.1 494.8V498.1M219.7 494.8h4.8M219.7 498.1h4.8M222.1 500.1V503.4M219.7 500.1h4.8M219.7 503.4h4.8M222.2 496.3V500.2M219.8 496.3h4.8M219.8 500.2h4.8M222.1 499.9V503.8M219.7 499.9h4.8M219.7 503.8h4.8M223.8 494.1V497.5M221.4 494.1h4.8M221.4 497.5h4.8M223.8 494.6V498.4M221.4 494.6h4.8M221.4 498.4h4.8M223.8 499.1V502.8M221.4 499.1h4.8M221.4 502.8h4.8M223.8 494.6V498M221.4 494.6h4.8M221.4 498h4.8M225.5 493.4V497.8M223.1 493.4h4.8M223.1 497.8h4.8M225.5 494.7V499.7M223.1 494.7h4.8M223.1 499.7h4.8M225.5 494.9V499.6M223.1 494.9h4.8M223.1 499.6h4.8M225.5 495.4V500.7M223.1 495.4h4.8M223.1 500.7h4.8M225.5 495.6V500.8M223.1 495.6h4.8M223.1 500.8h4.8M225.4 495V500.9M223 495h4.8M223 500.9h4.8M225.5 494.3V499M223.1 494.3h4.8M223.1 499h4.8M227.1 496V502.9M224.7 496h4.8M224.7 502.9h4.8M227.2 490.4V498.2M224.8 490.4h4.8M224.8 498.2h4.8M227.2 495.3V503.4M224.8 495.3h4.8M224.8 503.4h4.8M227.2 494.9V502.3M224.8 494.9h4.8M224.8 502.3h4.8M227.2 493.2V501M224.8 493.2h4.8M224.8 501h4.8M228.8 494.9V499.4M226.4 494.9h4.8M226.4 499.4h4.8M228.8 494.7V500.5M226.4 494.7h4.8M226.4 500.5h4.8M228.8 492.7V497.3M226.4 492.7h4.8M226.4 497.3h4.8M228.8 497V502.1M226.4 497h4.8M226.4 502.1h4.8M228.8 497.1V502.7M226.4 497.1h4.8M226.4 502.7h4.8M228.9 496.6V501.5M226.5 496.6h4.8M226.5 501.5h4.8M230.6 497.4V501M228.2 497.4h4.8M228.2 501h4.8M230.6 497.6V501.1M228.2 497.6h4.8M228.2 501.1h4.8M230.5 496.8V500.7M228.1 496.8h4.8M228.1 500.7h4.8M230.5 496.5V499.7M228.1 496.5h4.8M228.1 499.7h4.8M230.6 493.6V497.5M228.2 493.6h4.8M228.2 497.5h4.8M230.6 498.9V502.5M228.2 498.9h4.8M228.2 502.5h4.8M232.3 492.2V503.2M229.9 492.2h4.8M229.9 503.2h4.8M232.2 487.8V500.2M229.8 487.8h4.8M229.8 500.2h4.8M232.2 492.6V505.5M229.8 492.6h4.8M229.8 505.5h4.8M232.2 493V503M229.8 493h4.8M229.8 503h4.8M232.2 499.7V510.6M229.8 499.7h4.8M229.8 510.6h4.8M232.3 495.3V506M229.9 495.3h4.8M229.9 506h4.8M232.3 495.6V508.5M229.9 495.6h4.8M229.9 508.5h4.8M235.7 492.4V496M233.3 492.4h4.8M233.3 496h4.8M235.6 497.2V501M233.2 497.2h4.8M233.2 501h4.8M235.6 498.3V501.3M233.2 498.3h4.8M233.2 501.3h4.8M235.5 497.7V501.1M233.1 497.7h4.8M233.1 501.1h4.8M237.2 496.1V503.3M234.8 496.1h4.8M234.8 503.3h4.8M237.3 494.5V501.9M234.9 494.5h4.8M234.9 501.9h4.8M237.3 493.3V502.1M234.9 493.3h4.8M234.9 502.1h4.8M237.3 500.1V508.2M234.9 500.1h4.8M234.9 508.2h4.8M239 498.4V502.8M236.6 498.4h4.8M236.6 502.8h4.8M239 493.5V498.1M236.6 493.5h4.8M236.6 498.1h4.8M238.9 491.6V496.7M236.5 491.6h4.8M236.5 496.7h4.8M239 497.4V502.2M236.6 497.4h4.8M236.6 502.2h4.8M240.6 495.2V498.2M238.2 495.2h4.8M238.2 498.2h4.8M240.7 495.5V498.6M238.3 495.5h4.8M238.3 498.6h4.8M240.7 495.1V498.3M238.3 495.1h4.8M238.3 498.3h4.8M240.7 498.6V501.6M238.3 498.6h4.8M238.3 501.6h4.8M240.7 499.2V502.1M238.3 499.2h4.8M238.3 502.1h4.8M240.7 496.6V500.4M238.3 496.6h4.8M238.3 500.4h4.8M242.3 497.7V500.8M239.9 497.7h4.8M239.9 500.8h4.8M242.4 494.1V497.4M240 494.1h4.8M240 497.4h4.8M242.3 496.7V499.6M239.9 496.7h4.8M239.9 499.6h4.8M242.3 496.3V499.3M239.9 496.3h4.8M239.9 499.3h4.8M242.4 496V499.5M240 496h4.8M240 499.5h4.8M242.3 496.6V500.1M239.9 496.6h4.8M239.9 500.1h4.8M244.1 488V495.1M241.7 488h4.8M241.7 495.1h4.8M244 505.8V512.8M241.6 505.8h4.8M241.6 512.8h4.8M244.1 498V504.9M241.7 498h4.8M241.7 504.9h4.8M244.1 493.1V500.6M241.7 493.1h4.8M241.7 500.6h4.8M244 497.3V505.3M241.6 497.3h4.8M241.6 505.3h4.8M244.1 502.3V509.2M241.7 502.3h4.8M241.7 509.2h4.8M244.1 486.3V493.1M241.7 486.3h4.8M241.7 493.1h4.8M245.7 482.5V492.9M243.3 482.5h4.8M243.3 492.9h4.8M245.8 491.3V501.3M243.4 491.3h4.8M243.4 501.3h4.8M245.7 478V489.6M243.3 478h4.8M243.3 489.6h4.8M245.7 500.4V510.6M243.3 500.4h4.8M243.3 510.6h4.8M245.8 480.7V493.2M243.4 480.7h4.8M243.4 493.2h4.8M245.8 489.8V500.7M243.4 489.8h4.8M243.4 500.7h4.8M249.1 496.4V500M246.7 496.4h4.8M246.7 500h4.8M249 495.9V498.9M246.6 495.9h4.8M246.6 498.9h4.8M249 496.8V499.9M246.6 496.8h4.8M246.6 499.9h4.8M249.1 499.3V502.5M246.7 499.3h4.8M246.7 502.5h4.8M250.8 496.3V499.5M248.4 496.3h4.8M248.4 499.5h4.8M250.8 496.6V499.9M248.4 496.6h4.8M248.4 499.9h4.8M250.9 501.1V504.3M248.5 501.1h4.8M248.5 504.3h4.8M250.7 497.9V500.9M248.3 497.9h4.8M248.3 500.9h4.8M250.8 496.1V500M248.4 496.1h4.8M248.4 500h4.8M252.4 495.2V499.1M250 495.2h4.8M250 499.1h4.8M252.4 499.3V503.1M250 499.3h4.8M250 503.1h4.8M252.4 495.8V499.1M250 495.8h4.8M250 499.1h4.8M252.4 499.1V503M250 499.1h4.8M250 503h4.8M252.4 496.2V499.6M250 496.2h4.8M250 499.6h4.8M254.2 492V496.5M251.8 492h4.8M251.8 496.5h4.8M254.1 496.5V502.1M251.7 496.5h4.8M251.7 502.1h4.8M254.2 491.8V496.5M251.8 491.8h4.8M251.8 496.5h4.8M254.2 492.1V498M251.8 492.1h4.8M251.8 498h4.8M254.2 490.4V495.4M251.8 490.4h4.8M251.8 495.4h4.8M254.2 497V501.9M251.8 497h4.8M251.8 501.9h4.8M254.1 496.4V500.7M251.7 496.4h4.8M251.7 500.7h4.8M255.9 492V496.7M253.5 492h4.8M253.5 496.7h4.8M255.8 496.6V501.4M253.4 496.6h4.8M253.4 501.4h4.8M255.8 496.3V501.1M253.4 496.3h4.8M253.4 501.1h4.8M255.8 495.4V499.9M253.4 495.4h4.8M253.4 499.9h4.8M255.9 496.3V501.1M253.5 496.3h4.8M253.5 501.1h4.8M255.8 493.9V498.9M253.4 493.9h4.8M253.4 498.9h4.8M257.5 495.4V498.4M255.1 495.4h4.8M255.1 498.4h4.8M257.5 495.6V499.5M255.1 495.6h4.8M255.1 499.5h4.8M257.5 495.1V498.2M255.1 495.1h4.8M255.1 498.2h4.8M257.5 494V497.5M255.1 494h4.8M255.1 497.5h4.8M257.6 496.7V499.6M255.2 496.7h4.8M255.2 499.6h4.8M257.6 498.1V501.8M255.2 498.1h4.8M255.2 501.8h4.8M257.5 495.4V498.2M255.1 495.4h4.8M255.1 498.2h4.8M259.2 499.5V502.8M256.8 499.5h4.8M256.8 502.8h4.8M259.1 495.6V499.5M256.7 495.6h4.8M256.7 499.5h4.8M259.2 496.3V500M256.8 496.3h4.8M256.8 500h4.8M259.2 495.6V499.5M256.8 495.6h4.8M256.8 499.5h4.8M259.2 499.2V502.2M256.8 499.2h4.8M256.8 502.2h4.8M259.1 496.4V499.5M256.7 496.4h4.8M256.7 499.5h4.8M260.8 492.5V498.3M258.4 492.5h4.8M258.4 498.3h4.8M260.9 498.4V502.8M258.5 498.4h4.8M258.5 502.8h4.8M260.9 500.9V506M258.5 500.9h4.8M258.5 506h4.8M260.8 497.4V502.1M258.4 497.4h4.8M258.4 502.1h4.8M262.6 495V502.9M260.2 495h4.8M260.2 502.9h4.8M262.7 495V501.7M260.3 495h4.8M260.3 501.7h4.8M262.6 493.1V501.7M260.2 493.1h4.8M260.2 501.7h4.8M262.6 495.7V502.7M260.2 495.7h4.8M260.2 502.7h4.8M264.3 497.2V512.4M261.9 497.2h4.8M261.9 512.4h4.8M264.3 505.2V518.3M261.9 505.2h4.8M261.9 518.3h4.8M264.2 489.7V506.4M261.8 489.7h4.8M261.8 506.4h4.8M264.3 483.9V501.5M261.9 483.9h4.8M261.9 501.5h4.8M264.2 489.8V507.7M261.8 489.8h4.8M261.8 507.7h4.8M264.2 473.5V486.8M261.8 473.5h4.8M261.8 486.8h4.8M264.3 493V506.4M261.9 493h4.8M261.9 506.4h4.8M266 496.2V500.1M263.6 496.2h4.8M263.6 500.1h4.8M266 498.9V502.5M263.6 498.9h4.8M263.6 502.5h4.8M266 499.3V502.4M263.6 499.3h4.8M263.6 502.4h4.8M265.9 496V499.6M263.5 496h4.8M263.5 499.6h4.8M267.6 485.3V500.6M265.2 485.3h4.8M265.2 500.6h4.8M267.6 486.7V501.1M265.2 486.7h4.8M265.2 501.1h4.8M267.7 491.2V506.2M265.3 491.2h4.8M265.3 506.2h4.8M267.6 499.8V516.2M265.2 499.8h4.8M265.2 516.2h4.8M267.7 499.8V517.8M265.3 499.8h4.8M265.3 517.8h4.8M269.3 492.8V501.4M266.9 492.8h4.8M266.9 501.4h4.8M269.4 486.4V493.8M267 486.4h4.8M267 493.8h4.8M269.4 498.5V505.2M267 498.5h4.8M267 505.2h4.8M269.3 496.7V504.2M266.9 496.7h4.8M266.9 504.2h4.8M269.3 499.3V506.5M266.9 499.3h4.8M266.9 506.5h4.8M269.3 489.9V498.2M266.9 489.9h4.8M266.9 498.2h4.8M271 490.1V499.1M268.6 490.1h4.8M268.6 499.1h4.8M271.1 496.2V505M268.7 496.2h4.8M268.7 505h4.8M271 499V506.9M268.6 499h4.8M268.6 506.9h4.8M271 497.5V504.4M268.6 497.5h4.8M268.6 504.4h4.8M271.1 494V500.9M268.7 494h4.8M268.7 500.9h4.8M271 491.2V498.1M268.6 491.2h4.8M268.6 498.1h4.8M272.7 497.6V500.7M270.3 497.6h4.8M270.3 500.7h4.8M272.7 500.6V503.9M270.3 500.6h4.8M270.3 503.9h4.8M272.8 498.7V501.8M270.4 498.7h4.8M270.4 501.8h4.8M272.7 497.4V501.2M270.3 497.4h4.8M270.3 501.2h4.8M272.7 496V499.8M270.3 496h4.8M270.3 499.8h4.8M272.6 492.8V495.8M270.2 492.8h4.8M270.2 495.8h4.8M272.6 495.6V498.7M270.2 495.6h4.8M270.2 498.7h4.8M276.1 494.9V498.4M273.7 494.9h4.8M273.7 498.4h4.8M276 497.8V501.6M273.6 497.8h4.8M273.6 501.6h4.8M276.1 496.4V499.4M273.7 496.4h4.8M273.7 499.4h4.8M276.1 500.1V503.4M273.7 500.1h4.8M273.7 503.4h4.8M276.1 495V498.4M273.7 495h4.8M273.7 498.4h4.8M276.1 498.2V501.9M273.7 498.2h4.8M273.7 501.9h4.8M276 492.8V496.8M273.6 492.8h4.8M273.6 496.8h4.8M277.8 496.5V499.5M275.4 496.5h4.8M275.4 499.5h4.8M277.8 501.3V504.7M275.4 501.3h4.8M275.4 504.7h4.8M277.8 495.2V498.5M275.4 495.2h4.8M275.4 498.5h4.8M277.8 495.3V498.5M275.4 495.3h4.8M275.4 498.5h4.8M279.4 482V495.4M277 482h4.8M277 495.4h4.8M279.4 497.5V509M277 497.5h4.8M277 509h4.8M279.5 505.1V515.5M277.1 505.1h4.8M277.1 515.5h4.8M279.4 498V510M277 498h4.8M277 510h4.8M279.5 487V497.9M277.1 487h4.8M277.1 497.9h4.8M279.4 502.3V513.4M277 502.3h4.8M277 513.4h4.8M279.4 490.3V503.2M277 490.3h4.8M277 503.2h4.8M281.1 499V507.8M278.7 499h4.8M278.7 507.8h4.8M281.1 491.2V499.6M278.7 491.2h4.8M278.7 499.6h4.8M281.1 490.6V498.5M278.7 490.6h4.8M278.7 498.5h4.8M281.2 495.8V504.2M278.8 495.8h4.8M278.8 504.2h4.8M281.1 504.4V512.4M278.7 504.4h4.8M278.7 512.4h4.8M281.1 505V513.5M278.7 505h4.8M278.7 513.5h4.8M281.2 495.4V503.4M278.8 495.4h4.8M278.8 503.4h4.8M282.9 493.3V500.3M280.5 493.3h4.8M280.5 500.3h4.8M282.8 494.2V502.3M280.4 494.2h4.8M280.4 502.3h4.8M282.9 499.7V506.3M280.5 499.7h4.8M280.5 506.3h4.8M282.8 495.7V504.3M280.4 495.7h4.8M280.4 504.3h4.8M282.8 492.9V501.4M280.4 492.9h4.8M280.4 501.4h4.8M284.5 495.2V499M282.1 495.2h4.8M282.1 499h4.8M284.4 497.1V500.5M282 497.1h4.8M282 500.5h4.8M284.5 495.3V498.8M282.1 495.3h4.8M282.1 498.8h4.8M284.5 493.1V496.4M282.1 493.1h4.8M282.1 496.4h4.8M286.3 500.9V506M283.9 500.9h4.8M283.9 506h4.8M286.2 494.8V499.3M283.8 494.8h4.8M283.8 499.3h4.8M286.2 499.3V505M283.8 499.3h4.8M283.8 505h4.8M286.2 498V502.4M283.8 498h4.8M283.8 502.4h4.8M286.1 495.7V501.6M283.7 495.7h4.8M283.7 501.6h4.8M286.2 496.5V501M283.8 496.5h4.8M283.8 501h4.8M286.2 492.1V496.6M283.8 492.1h4.8M283.8 496.6h4.8M287.9 498.5V502.4M285.5 498.5h4.8M285.5 502.4h4.8M287.8 493.7V497.1M285.4 493.7h4.8M285.4 497.1h4.8M288 497.1V500M285.6 497.1h4.8M285.6 500h4.8M288 496.9V500.2M285.6 496.9h4.8M285.6 500.2h4.8M287.9 496.4V499.6M285.5 496.4h4.8M285.5 499.6h4.8M289.6 497.3V500.5M287.2 497.3h4.8M287.2 500.5h4.8M289.6 496.4V500.3M287.2 496.4h4.8M287.2 500.3h4.8M289.5 493.4V496.6M287.1 493.4h4.8M287.1 496.6h4.8M289.6 496V498.9M287.2 496h4.8M287.2 498.9h4.8M289.6 498.2V502.1M287.2 498.2h4.8M287.2 502.1h4.8M289.6 498.8V502.6M287.2 498.8h4.8M287.2 502.6h4.8M291.2 498.3V504.4M288.8 498.3h4.8M288.8 504.4h4.8M291.3 493.4V499.8M288.9 493.4h4.8M288.9 499.8h4.8M291.2 492.8V500.2M288.8 492.8h4.8M288.8 500.2h4.8M291.2 495.4V501.4M288.8 495.4h4.8M288.8 501.4h4.8M293 497.2V501.6M290.6 497.2h4.8M290.6 501.6h4.8M293 498.1V501.7M290.6 498.1h4.8M290.6 501.7h4.8M292.9 496.6V500.2M290.5 496.6h4.8M290.5 500.2h4.8M293 492.9V497.3M290.6 492.9h4.8M290.6 497.3h4.8M292.9 497.1V501M290.5 497.1h4.8M290.5 501h4.8M294.6 494.5V499.3M292.2 494.5h4.8M292.2 499.3h4.8M294.6 497.8V502.1M292.2 497.8h4.8M292.2 502.1h4.8M294.7 499V503.5M292.3 499h4.8M292.3 503.5h4.8M294.6 492.7V497.2M292.2 492.7h4.8M292.2 497.2h4.8M298 499.7V504.1M295.6 499.7h4.8M295.6 504.1h4.8M298 498.6V502.7M295.6 498.6h4.8M295.6 502.7h4.8M298 490.7V494.8M295.6 490.7h4.8M295.6 494.8h4.8M298 494.2V498.2M295.6 494.2h4.8M295.6 498.2h4.8M297.9 495.3V499.5M295.5 495.3h4.8M295.5 499.5h4.8M299.7 494.7V504.8M297.3 494.7h4.8M297.3 504.8h4.8M299.7 497.8V507.7M297.3 497.8h4.8M297.3 507.7h4.8M299.7 493.8V505.1M297.3 493.8h4.8M297.3 505.1h4.8M299.8 495.1V505.4M297.4 495.1h4.8M297.4 505.4h4.8M299.7 489.2V500.2M297.3 489.2h4.8M297.3 500.2h4.8M301.4 499.5V503.4M299 499.5h4.8M299 503.4h4.8M301.4 494.9V499.6M299 494.9h4.8M299 499.6h4.8M301.4 499.5V504M299 499.5h4.8M299 504h4.8M301.4 499.9V504.2M299 499.9h4.8M299 504.2h4.8M301.4 493.8V497.7M299 493.8h4.8M299 497.7h4.8M303 497.8V503.3M300.6 497.8h4.8M300.6 503.3h4.8M303.1 494.5V501.8M300.7 494.5h4.8M300.7 501.8h4.8M303 495.6V502.6M300.6 495.6h4.8M300.6 502.6h4.8M303.1 501.1V507.2M300.7 501.1h4.8M300.7 507.2h4.8M303.1 492.1V498.5M300.7 492.1h4.8M300.7 498.5h4.8M303.1 494.9V501.7M300.7 494.9h4.8M300.7 501.7h4.8M304.7 496.8V501.1M302.3 496.8h4.8M302.3 501.1h4.8M304.8 497.1V500.9M302.4 497.1h4.8M302.4 500.9h4.8M304.7 496.9V501.3M302.3 496.9h4.8M302.3 501.3h4.8M304.7 500.9V504.6M302.3 500.9h4.8M302.3 504.6h4.8M304.7 492.3V497.1M302.3 492.3h4.8M302.3 497.1h4.8M304.7 498.1V502.3M302.3 498.1h4.8M302.3 502.3h4.8M306.5 493.2V498.1M304.1 493.2h4.8M304.1 498.1h4.8M306.5 498.7V502.4M304.1 498.7h4.8M304.1 502.4h4.8M306.4 494.7V498.7M304 494.7h4.8M304 498.7h4.8M306.5 495V498.7M304.1 495h4.8M304.1 498.7h4.8M306.5 494.9V499.8M304.1 494.9h4.8M304.1 499.8h4.8M306.5 492.2V497.1M304.1 492.2h4.8M304.1 497.1h4.8M308.1 498.2V503M305.7 498.2h4.8M305.7 503h4.8M308.1 500.7V504.3M305.7 500.7h4.8M305.7 504.3h4.8M308.1 493.1V497.8M305.7 493.1h4.8M305.7 497.8h4.8M308.2 493.1V497.5M305.8 493.1h4.8M305.8 497.5h4.8M308.1 497.8V501.9M305.7 497.8h4.8M305.7 501.9h4.8M308.1 498V501.7M305.7 498h4.8M305.7 501.7h4.8M309.9 481.4V492.6M307.5 481.4h4.8M307.5 492.6h4.8M309.8 502.6V511.4M307.4 502.6h4.8M307.4 511.4h4.8M309.9 487.2V497.7M307.5 487.2h4.8M307.5 497.7h4.8M309.9 499.2V508.3M307.5 499.2h4.8M307.5 508.3h4.8M309.8 497.2V506.5M307.4 497.2h4.8M307.4 506.5h4.8M311.5 494V498.7M309.1 494h4.8M309.1 498.7h4.8M311.5 499.7V504.6M309.1 499.7h4.8M309.1 504.6h4.8M311.5 496.2V499.9M309.1 496.2h4.8M309.1 499.9h4.8M311.6 496.9V500.6M309.2 496.9h4.8M309.2 500.6h4.8M311.6 496.1V500.4M309.2 496.1h4.8M309.2 500.4h4.8M311.5 496.4V500.4M309.1 496.4h4.8M309.1 500.4h4.8M311.4 495.7V499.7M309 495.7h4.8M309 499.7h4.8M313.1 496.4V501.2M310.7 496.4h4.8M310.7 501.2h4.8M313.3 496.7V501.4M310.9 496.7h4.8M310.9 501.4h4.8M313.2 493.7V497.5M310.8 493.7h4.8M310.8 497.5h4.8M313.1 497.6V501.7M310.7 497.6h4.8M310.7 501.7h4.8M313.3 500.2V504.5M310.9 500.2h4.8M310.9 504.5h4.8M314.8 498.1V501.7M312.4 498.1h4.8M312.4 501.7h4.8M314.8 492.6V496.4M312.4 492.6h4.8M312.4 496.4h4.8M314.9 496.1V500.3M312.5 496.1h4.8M312.5 500.3h4.8M314.9 497.6V501.5M312.5 497.6h4.8M312.5 501.5h4.8M314.9 494.2V498.5M312.5 494.2h4.8M312.5 498.5h4.8M314.9 498V503M312.5 498h4.8M312.5 503h4.8M314.8 492.9V497.1M312.4 492.9h4.8M312.4 497.1h4.8M316.5 499.7V504.6M314.1 499.7h4.8M314.1 504.6h4.8M316.6 495.7V500.3M314.2 495.7h4.8M314.2 500.3h4.8M316.5 494.8V499M314.1 494.8h4.8M314.1 499h4.8M316.5 499V503.6M314.1 499h4.8M314.1 503.6h4.8M316.5 494.7V498.9M314.1 494.7h4.8M314.1 498.9h4.8M316.6 493.3V497.9M314.2 493.3h4.8M314.2 497.9h4.8M318.3 495.2V500.2M315.9 495.2h4.8M315.9 500.2h4.8M318.2 498.3V502.2M315.8 498.3h4.8M315.8 502.2h4.8M318.3 494.2V498.6M315.9 494.2h4.8M315.9 498.6h4.8M318.2 498.7V503.1M315.8 498.7h4.8M315.8 503.1h4.8M318.2 496.5V500.3M315.8 496.5h4.8M315.8 500.3h4.8M318.2 494V498.8M315.8 494h4.8M315.8 498.8h4.8M318.2 495.2V499.8M315.8 495.2h4.8M315.8 499.8h4.8M320 500.1V504.6M317.6 500.1h4.8M317.6 504.6h4.8M319.9 497.9V502.8M317.5 497.9h4.8M317.5 502.8h4.8M320 498V502.3M317.6 498h4.8M317.6 502.3h4.8M319.9 499.4V503.1M317.5 499.4h4.8M317.5 503.1h4.8M319.9 498.2V502.4M317.5 498.2h4.8M317.5 502.4h4.8M321.6 489.7V500.5M319.2 489.7h4.8M319.2 500.5h4.8M321.6 496.5V505.5M319.2 496.5h4.8M319.2 505.5h4.8M321.6 499.4V510.3M319.2 499.4h4.8M319.2 510.3h4.8M321.6 493.9V502.2M319.2 493.9h4.8M319.2 502.2h4.8M321.6 484.1V494.4M319.2 484.1h4.8M319.2 494.4h4.8M323.3 495.1V506M320.9 495.1h4.8M320.9 506h4.8M323.3 487.1V496.9M320.9 487.1h4.8M320.9 496.9h4.8M323.3 492V502.8M320.9 492h4.8M320.9 502.8h4.8M323.2 491.4V500.8M320.8 491.4h4.8M320.8 500.8h4.8M325 490V505.3M322.6 490h4.8M322.6 505.3h4.8M325 483.7V495.9M322.6 483.7h4.8M322.6 495.9h4.8M325 483.2V495.7M322.6 483.2h4.8M322.6 495.7h4.8M325 491.7V507.2M322.6 491.7h4.8M322.6 507.2h4.8M326.7 501V516.1M324.3 501h4.8M324.3 516.1h4.8M326.6 490.8V507M324.2 490.8h4.8M324.2 507h4.8M326.7 507.8V520.7M324.3 507.8h4.8M324.3 520.7h4.8M326.7 482.5V496.1M324.3 482.5h4.8M324.3 496.1h4.8M326.7 496.6V510.8M324.3 496.6h4.8M324.3 510.8h4.8M326.7 491.9V505.5M324.3 491.9h4.8M324.3 505.5h4.8M326.7 497.8V512.2M324.3 497.8h4.8M324.3 512.2h4.8M328.4 501.3V505.9M326 501.3h4.8M326 505.9h4.8M328.4 498V502.5M326 498h4.8M326 502.5h4.8M328.3 496.4V500.9M325.9 496.4h4.8M325.9 500.9h4.8M328.3 496.2V500M325.9 496.2h4.8M325.9 500h4.8M328.3 492.3V496.8M325.9 492.3h4.8M325.9 496.8h4.8M330.1 497.7V502.4M327.7 497.7h4.8M327.7 502.4h4.8M330 499.7V503.6M327.6 499.7h4.8M327.6 503.6h4.8M330 498.9V503.2M327.6 498.9h4.8M327.6 503.2h4.8M330.1 496.9V501.2M327.7 496.9h4.8M327.7 501.2h4.8M330 494.3V498.8M327.6 494.3h4.8M327.6 498.8h4.8M331.7 494.4V498.4M329.3 494.4h4.8M329.3 498.4h4.8M331.7 494.6V498.9M329.3 494.6h4.8M329.3 498.9h4.8M331.7 497.2V501.3M329.3 497.2h4.8M329.3 501.3h4.8M331.7 494.6V498.2M329.3 494.6h4.8M329.3 498.2h4.8M333.5 496V500M331.1 496h4.8M331.1 500h4.8M333.4 497.1V500.8M331 497.1h4.8M331 500.8h4.8M333.5 495.4V499.2M331.1 495.4h4.8M331.1 499.2h4.8M333.4 495.4V499.2M331 495.4h4.8M331 499.2h4.8M333.5 497.7V502.3M331.1 497.7h4.8M331.1 502.3h4.8M333.3 497.1V500.9M330.9 497.1h4.8M330.9 500.9h4.8M333.5 497.9V502M331.1 497.9h4.8M331.1 502h4.8M335.1 498.1V503M332.7 498.1h4.8M332.7 503h4.8M335 495.8V500M332.6 495.8h4.8M332.6 500h4.8M335.1 493.2V497.9M332.7 493.2h4.8M332.7 497.9h4.8M335.1 497V500.7M332.7 497h4.8M332.7 500.7h4.8M335.1 494.3V498.9M332.7 494.3h4.8M332.7 498.9h4.8M335.1 494.2V497.9M332.7 494.2h4.8M332.7 497.9h4.8M335.1 495.3V499.6M332.7 495.3h4.8M332.7 499.6h4.8M336.8 495.5V499.7M334.4 495.5h4.8M334.4 499.7h4.8M336.7 496.8V500.7M334.3 496.8h4.8M334.3 500.7h4.8M336.8 492.9V497.5M334.4 492.9h4.8M334.4 497.5h4.8M336.7 493.7V498M334.3 493.7h4.8M334.3 498h4.8M336.8 496.4V500.5M334.4 496.4h4.8M334.4 500.5h4.8M338.5 493.7V513M336.1 493.7h4.8M336.1 513h4.8M338.4 482.1V504.5M336 482.1h4.8M336 504.5h4.8M338.4 499.3V519.9M336 499.3h4.8M336 519.9h4.8M338.4 488.8V511.1M336 488.8h4.8M336 511.1h4.8M338.5 489V505.9M336.1 489h4.8M336.1 505.9h4.8M340.2 495.4V500.3M337.8 495.4h4.8M337.8 500.3h4.8M340.2 498.1V502M337.8 498.1h4.8M337.8 502h4.8M340.2 491.5V495.2M337.8 491.5h4.8M337.8 495.2h4.8M340.1 494.7V498.7M337.7 494.7h4.8M337.7 498.7h4.8M340.1 498V502.2M337.7 498h4.8M337.7 502.2h4.8M340.2 492V496.5M337.8 492h4.8M337.8 496.5h4.8M340.2 498.1V502.7M337.8 498.1h4.8M337.8 502.7h4.8M341.8 488.2V504.5M339.4 488.2h4.8M339.4 504.5h4.8M341.8 505.9V518.4M339.4 505.9h4.8M339.4 518.4h4.8M341.9 501.2V514.4M339.5 501.2h4.8M339.5 514.4h4.8M341.8 499.5V515.9M339.4 499.5h4.8M339.4 515.9h4.8M343.5 498.3V503.3M341.1 498.3h4.8M341.1 503.3h4.8M343.5 496.2V501.1M341.1 496.2h4.8M341.1 501.1h4.8M343.5 500.4V505.1M341.1 500.4h4.8M341.1 505.1h4.8M343.6 497V501.7M341.2 497h4.8M341.2 501.7h4.8M343.6 494.5V498.9M341.2 494.5h4.8M341.2 498.9h4.8M343.5 493.9V498M341.1 493.9h4.8M341.1 498h4.8M345.3 498.1V502.2M342.9 498.1h4.8M342.9 502.2h4.8M345.2 498.6V502.6M342.8 498.6h4.8M342.8 502.6h4.8M345.3 495.2V499.2M342.9 495.2h4.8M342.9 499.2h4.8M345.3 494V498M342.9 494h4.8M342.9 498h4.8M347 490.1V497.2M344.6 490.1h4.8M344.6 497.2h4.8M346.9 493.6V500.9M344.5 493.6h4.8M344.5 500.9h4.8M346.9 498.2V504M344.5 498.2h4.8M344.5 504h4.8M346.9 497.5V504.3M344.5 497.5h4.8M344.5 504.3h4.8M346.8 501.3V508.6M344.4 501.3h4.8M344.4 508.6h4.8M346.9 495.7V502.7M344.5 495.7h4.8M344.5 502.7h4.8M347 499V505.1M344.6 499h4.8M344.6 505.1h4.8M348.6 497.1V501.4M346.2 497.1h4.8M346.2 501.4h4.8M348.6 495.6V500.2M346.2 495.6h4.8M346.2 500.2h4.8M348.6 494.5V498.8M346.2 494.5h4.8M346.2 498.8h4.8M348.6 499.3V503M346.2 499.3h4.8M346.2 503h4.8M350.4 496.4V500.7M348 496.4h4.8M348 500.7h4.8M350.3 491.7V495.8M347.9 491.7h4.8M347.9 495.8h4.8M350.3 495.7V500M347.9 495.7h4.8M347.9 500h4.8M350.3 497.6V502.1M347.9 497.6h4.8M347.9 502.1h4.8M350.2 493V497.6M347.8 493h4.8M347.8 497.6h4.8M350.3 494.2V498.3M347.9 494.2h4.8M347.9 498.3h4.8M350.2 499V502.9M347.8 499h4.8M347.8 502.9h4.8M352 500V509.1M349.6 500h4.8M349.6 509.1h4.8M352 498.2V507.9M349.6 498.2h4.8M349.6 507.9h4.8M352 495.7V505.6M349.6 495.7h4.8M349.6 505.6h4.8M351.9 498.9V508.7M349.5 498.9h4.8M349.5 508.7h4.8M351.9 492.3V503.6M349.5 492.3h4.8M349.5 503.6h4.8M352 492.1V502.3M349.6 492.1h4.8M349.6 502.3h4.8M353.7 495.4V500.2M351.3 495.4h4.8M351.3 500.2h4.8M353.7 498.6V502.7M351.3 498.6h4.8M351.3 502.7h4.8M353.7 497.7V502.5M351.3 497.7h4.8M351.3 502.5h4.8M353.7 497.5V502.3M351.3 497.5h4.8M351.3 502.3h4.8M353.7 496.4V500.6M351.3 496.4h4.8M351.3 500.6h4.8M355.3 493.4V497.4M352.9 493.4h4.8M352.9 497.4h4.8M355.4 498.9V502.9M353 498.9h4.8M353 502.9h4.8M355.3 498.4V502.4M352.9 498.4h4.8M352.9 502.4h4.8M355.4 495.9V500.7M353 495.9h4.8M353 500.7h4.8M355.3 496.5V501.1M352.9 496.5h4.8M352.9 501.1h4.8M355.3 497V501.6M352.9 497h4.8M352.9 501.6h4.8M357 491.1V504M354.6 491.1h4.8M354.6 504h4.8M357 501.6V516.5M354.6 501.6h4.8M354.6 516.5h4.8M357 508.1V523.7M354.6 508.1h4.8M354.6 523.7h4.8M357 494.3V507.6M354.6 494.3h4.8M354.6 507.6h4.8M357.1 490.3V506.5M354.7 490.3h4.8M354.7 506.5h4.8M357 496.9V511.1M354.6 496.9h4.8M354.6 511.1h4.8M357 489.3V502.5M354.6 489.3h4.8M354.6 502.5h4.8M358.8 493V497.5M356.4 493h4.8M356.4 497.5h4.8M358.8 495.5V499.9M356.4 495.5h4.8M356.4 499.9h4.8M358.7 494.4V499.1M356.3 494.4h4.8M356.3 499.1h4.8M358.7 491.6V496.5M356.3 491.6h4.8M356.3 496.5h4.8M358.7 497.3V502M356.3 497.3h4.8M356.3 502h4.8M358.8 494.3V497.9M356.4 494.3h4.8M356.4 497.9h4.8M358.7 496.2V500.1M356.3 496.2h4.8M356.3 500.1h4.8M362.1 495.8V500.5M359.7 495.8h4.8M359.7 500.5h4.8M362 493.6V498.3M359.6 493.6h4.8M359.6 498.3h4.8M362 499.9V503.8M359.6 499.9h4.8M359.6 503.8h4.8M362.2 494.7V499.3M359.8 494.7h4.8M359.8 499.3h4.8M362.1 496.3V500.8M359.7 496.3h4.8M359.7 500.8h4.8M363.8 497.8V502.2M361.4 497.8h4.8M361.4 502.2h4.8M363.7 496.2V501M361.3 496.2h4.8M361.3 501h4.8M363.8 497.8V502.2M361.4 497.8h4.8M361.4 502.2h4.8M363.8 498V502.4M361.4 498h4.8M361.4 502.4h4.8M363.7 499.5V503.9M361.3 499.5h4.8M361.3 503.9h4.8M363.7 493.7V497.4M361.3 493.7h4.8M361.3 497.4h4.8M365.4 483.2V491.4M363 483.2h4.8M363 491.4h4.8M365.4 486.9V496.7M363 486.9h4.8M363 496.7h4.8M365.4 495.6V505.1M363 495.6h4.8M363 505.1h4.8M365.4 497.3V508.2M363 497.3h4.8M363 508.2h4.8M367.1 492.7V496.7M364.7 492.7h4.8M364.7 496.7h4.8M367.1 495.3V500M364.7 495.3h4.8M364.7 500h4.8M367.1 499.7V503.4M364.7 499.7h4.8M364.7 503.4h4.8M367.2 492.4V496.4M364.8 492.4h4.8M364.8 496.4h4.8M367.1 500.4V504.6M364.7 500.4h4.8M364.7 504.6h4.8M368.8 496.2V500.8M366.4 496.2h4.8M366.4 500.8h4.8M368.9 498.4V503M366.5 498.4h4.8M366.5 503h4.8M368.8 493.1V497.6M366.4 493.1h4.8M366.4 497.6h4.8M368.8 490.9V495.1M366.4 490.9h4.8M366.4 495.1h4.8M370.5 492.8V499M368.1 492.8h4.8M368.1 499h4.8M370.5 492.6V499.1M368.1 492.6h4.8M368.1 499.1h4.8M370.4 493.3V500.5M368 493.3h4.8M368 500.5h4.8M370.5 497.9V504.7M368.1 497.9h4.8M368.1 504.7h4.8M370.5 500.6V506.6M368.1 500.6h4.8M368.1 506.6h4.8M370.6 492.4V498M368.2 492.4h4.8M368.2 498h4.8M370.4 493.8V500.9M368 493.8h4.8M368 500.9h4.8M373.8 492.7V499.1M371.4 492.7h4.8M371.4 499.1h4.8M373.9 489.3V495.7M371.5 489.3h4.8M371.5 495.7h4.8M373.9 493V499.4M371.5 493h4.8M371.5 499.4h4.8M373.8 501.5V508.6M371.4 501.5h4.8M371.4 508.6h4.8M374 497.3V503.9M371.6 497.3h4.8M371.6 503.9h4.8M373.9 498.7V505.6M371.5 498.7h4.8M371.5 505.6h4.8M375.5 501.4V505M373.1 501.4h4.8M373.1 505h4.8M375.5 493.2V498M373.1 493.2h4.8M373.1 498h4.8M375.6 501.3V505.5M373.2 501.3h4.8M373.2 505.5h4.8M375.6 495.8V500.6M373.2 495.8h4.8M373.2 500.6h4.8M375.6 495.7V499.8M373.2 495.7h4.8M373.2 499.8h4.8M375.6 500.1V504.3M373.2 500.1h4.8M373.2 504.3h4.8M375.5 497.5V502M373.1 497.5h4.8M373.1 502h4.8M377.3 496V498.3M374.9 496h4.8M374.9 498.3h4.8M377.3 495.4V498M374.9 495.4h4.8M374.9 498h4.8M377.2 497.1V499.7M374.8 497.1h4.8M374.8 499.7h4.8M377.4 497.8V500.5M375 497.8h4.8M375 500.5h4.8M377.3 498.6V501M374.9 498.6h4.8M374.9 501h4.8M377.2 496.4V499.2M374.8 496.4h4.8M374.8 499.2h4.8M379 499V501.1M376.6 499h4.8M376.6 501.1h4.8M378.9 497.2V500M376.5 497.2h4.8M376.5 500h4.8M379 500.6V502.9M376.6 500.6h4.8M376.6 502.9h4.8M378.9 497V499.4M376.5 497h4.8M376.5 499.4h4.8M379 499.1V501.3M376.6 499.1h4.8M376.6 501.3h4.8M378.9 495.9V498.7M376.5 495.9h4.8M376.5 498.7h4.8M378.9 498.1V500.8M376.5 498.1h4.8M376.5 500.8h4.8M380.6 499.2V504.7M378.2 499.2h4.8M378.2 504.7h4.8M380.7 497.3V503.4M378.3 497.3h4.8M378.3 503.4h4.8M380.7 500.5V505.6M378.3 500.5h4.8M378.3 505.6h4.8M380.6 497.4V503M378.2 497.4h4.8M378.2 503h4.8M380.6 500V504.8M378.2 500h4.8M378.2 504.8h4.8M380.7 493.3V497.9M378.3 493.3h4.8M378.3 497.9h4.8M382.4 499V501.8M380 499h4.8M380 501.8h4.8M382.3 496.3V498.9M379.9 496.3h4.8M379.9 498.9h4.8M382.3 496.6V499M379.9 496.6h4.8M379.9 499h4.8M382.4 495.5V497.8M380 495.5h4.8M380 497.8h4.8M382.4 497.3V500.1M380 497.3h4.8M380 500.1h4.8M384 495.5V497.9M381.6 495.5h4.8M381.6 497.9h4.8M384 496.4V498.6M381.6 496.4h4.8M381.6 498.6h4.8M384 497.3V500M381.6 497.3h4.8M381.6 500h4.8M384.1 496.8V499.4M381.7 496.8h4.8M381.7 499.4h4.8M384 496.1V498.3M381.6 496.1h4.8M381.6 498.3h4.8M385.8 494.6V498.6M383.4 494.6h4.8M383.4 498.6h4.8M385.7 494.7V498M383.3 494.7h4.8M383.3 498h4.8M385.7 495.2V499.2M383.3 495.2h4.8M383.3 499.2h4.8M385.8 497.7V500.8M383.4 497.7h4.8M383.4 500.8h4.8M385.6 497.2V500.4M383.2 497.2h4.8M383.2 500.4h4.8M385.6 497.6V501.1M383.2 497.6h4.8M383.2 501.1h4.8M387.4 498.5V501.1M385 498.5h4.8M385 501.1h4.8M387.4 497V499.7M385 497h4.8M385 499.7h4.8M387.4 499.1V501.6M385 499.1h4.8M385 501.6h4.8M387.4 496.4V498.5M385 496.4h4.8M385 498.5h4.8M387.4 497.1V499.5M385 497.1h4.8M385 499.5h4.8M390.7 496.2V498.8M388.3 496.2h4.8M388.3 498.8h4.8M390.8 497.9V500M388.4 497.9h4.8M388.4 500h4.8M390.8 498.8V501M388.4 498.8h4.8M388.4 501h4.8M390.8 499.2V501.5M388.4 499.2h4.8M388.4 501.5h4.8M390.7 498.1V500.9M388.3 498.1h4.8M388.3 500.9h4.8M390.8 499V501.1M388.4 499h4.8M388.4 501.1h4.8M390.7 497.5V499.8M388.3 497.5h4.8M388.3 499.8h4.8M394.2 500V502.2M391.8 500h4.8M391.8 502.2h4.8M394.1 496.8V498.9M391.7 496.8h4.8M391.7 498.9h4.8M394.1 495.9V498.4M391.7 495.9h4.8M391.7 498.4h4.8M394.2 497V499.2M391.8 497h4.8M391.8 499.2h4.8M394.1 497.1V499.2M391.7 497.1h4.8M391.7 499.2h4.8M394.2 496.9V499.4M391.8 496.9h4.8M391.8 499.4h4.8M395.8 497.3V503.6M393.4 497.3h4.8M393.4 503.6h4.8M395.9 494.3V500.4M393.5 494.3h4.8M393.5 500.4h4.8M395.8 494.3V500M393.4 494.3h4.8M393.4 500h4.8M395.8 496.7V501.4M393.4 496.7h4.8M393.4 501.4h4.8M397.5 498.3V500.9M395.1 498.3h4.8M395.1 500.9h4.8M397.5 496.9V499.6M395.1 496.9h4.8M395.1 499.6h4.8M397.6 496.2V498.9M395.2 496.2h4.8M395.2 498.9h4.8M397.5 497.4V499.7M395.1 497.4h4.8M395.1 499.7h4.8M397.5 496.6V499.2M395.1 496.6h4.8M395.1 499.2h4.8M397.5 494.8V497.3M395.1 494.8h4.8M395.1 497.3h4.8M399.2 492.9V502.6M396.8 492.9h4.8M396.8 502.6h4.8M399.3 487V499M396.9 487h4.8M396.9 499h4.8M399.2 499V509.5M396.8 499h4.8M396.8 509.5h4.8M399.2 492.7V502.3M396.8 492.7h4.8M396.8 502.3h4.8M399.2 493.8V506.1M396.8 493.8h4.8M396.8 506.1h4.8M399.2 502.6V514.4M396.8 502.6h4.8M396.8 514.4h4.8M399.2 501.1V513.5M396.8 501.1h4.8M396.8 513.5h4.8M401 496.5V502.9M398.6 496.5h4.8M398.6 502.9h4.8M400.9 491.6V496.9M398.5 491.6h4.8M398.5 496.9h4.8M400.9 497.2V502.2M398.5 497.2h4.8M398.5 502.2h4.8M400.9 491.3V497.1M398.5 491.3h4.8M398.5 497.1h4.8M400.8 498.7V503.7M398.4 498.7h4.8M398.4 503.7h4.8M401 498.4V503.9M398.6 498.4h4.8M398.6 503.9h4.8M400.9 485V491.3M398.5 485h4.8M398.5 491.3h4.8M402.6 496.7V501.4M400.2 496.7h4.8M400.2 501.4h4.8M402.5 494.1V498M400.1 494.1h4.8M400.1 498h4.8M402.6 500.3V504.3M400.2 500.3h4.8M400.2 504.3h4.8M402.6 493.6V497.9M400.2 493.6h4.8M400.2 497.9h4.8M402.5 496.7V500.7M400.1 496.7h4.8M400.1 500.7h4.8M404.3 497.2V501M401.9 497.2h4.8M401.9 501h4.8M404.3 495.6V499.4M401.9 495.6h4.8M401.9 499.4h4.8M404.3 497V501.4M401.9 497h4.8M401.9 501.4h4.8M404.3 498.8V502.5M401.9 498.8h4.8M401.9 502.5h4.8M404.3 497.3V501.7M401.9 497.3h4.8M401.9 501.7h4.8M404.2 495.1V499.6M401.8 495.1h4.8M401.8 499.6h4.8M404.3 498.3V502.2M401.9 498.3h4.8M401.9 502.2h4.8M405.9 494.8V502M403.5 494.8h4.8M403.5 502h4.8M406 493.9V500M403.6 493.9h4.8M403.6 500h4.8M405.9 496.3V503.2M403.5 496.3h4.8M403.5 503.2h4.8M405.9 497.1V504M403.5 497.1h4.8M403.5 504h4.8M405.9 503.6V510.8M403.5 503.6h4.8M403.5 510.8h4.8M405.9 497.1V502.5M403.5 497.1h4.8M403.5 502.5h4.8M407.6 495.7V500.1M405.2 495.7h4.8M405.2 500.1h4.8M407.7 496.7V501.1M405.3 496.7h4.8M405.3 501.1h4.8M407.6 493V497.7M405.2 493h4.8M405.2 497.7h4.8M407.6 500.7V505.5M405.2 500.7h4.8M405.2 505.5h4.8M407.6 499.2V503.3M405.2 499.2h4.8M405.2 503.3h4.8M407.6 499.1V503M405.2 499.1h4.8M405.2 503h4.8M407.6 497.1V500.7M405.2 497.1h4.8M405.2 500.7h4.8M409.3 488.1V494.8M406.9 488.1h4.8M406.9 494.8h4.8M409.3 489.6V495.7M406.9 489.6h4.8M406.9 495.7h4.8M409.4 496V501.7M407 496h4.8M407 501.7h4.8M409.4 490.7V497.9M407 490.7h4.8M407 497.9h4.8M411.1 493.1V498.9M408.7 493.1h4.8M408.7 498.9h4.8M411 493V498.8M408.6 493h4.8M408.6 498.8h4.8M411 491.5V498.3M408.6 491.5h4.8M408.6 498.3h4.8M411 494.6V502M408.6 494.6h4.8M408.6 502h4.8M411 489.2V494.6M408.6 489.2h4.8M408.6 494.6h4.8M411 495V502.3M408.6 495h4.8M408.6 502.3h4.8M411.1 495.6V501.1M408.7 495.6h4.8M408.7 501.1h4.8M412.7 497.1V503M410.3 497.1h4.8M410.3 503h4.8M412.7 495.8V502.3M410.3 495.8h4.8M410.3 502.3h4.8M412.6 499.2V504.9M410.2 499.2h4.8M410.2 504.9h4.8M412.6 498.8V504.3M410.2 498.8h4.8M410.2 504.3h4.8M414.4 499.6V506.8M412 499.6h4.8M412 506.8h4.8M414.4 494.7V501M412 494.7h4.8M412 501h4.8M414.4 497.4V503.2M412 497.4h4.8M412 503.2h4.8M414.4 494.2V500M412 494.2h4.8M412 500h4.8M414.3 487.1V494.2M411.9 487.1h4.8M411.9 494.2h4.8M416.1 500.1V504.7M413.7 500.1h4.8M413.7 504.7h4.8M416.1 495V499.4M413.7 495h4.8M413.7 499.4h4.8M416.1 496.1V500.1M413.7 496.1h4.8M413.7 500.1h4.8M416 495V499.3M413.6 495h4.8M413.6 499.3h4.8M416.1 492.3V496.4M413.7 492.3h4.8M413.7 496.4h4.8M416.1 494.8V499.4M413.7 494.8h4.8M413.7 499.4h4.8M417.7 495.3V499.3M415.3 495.3h4.8M415.3 499.3h4.8M417.7 495.3V499.5M415.3 495.3h4.8M415.3 499.5h4.8M417.7 494.1V497.8M415.3 494.1h4.8M415.3 497.8h4.8M417.8 499V503M415.4 499h4.8M415.4 503h4.8M419.5 497.3V504.6M417.1 497.3h4.8M417.1 504.6h4.8M419.4 498.1V505.4M417 498.1h4.8M417 505.4h4.8M419.5 499.7V505.4M417.1 499.7h4.8M417.1 505.4h4.8M419.5 495.9V502M417.1 495.9h4.8M417.1 502h4.8M419.5 495.1V500.9M417.1 495.1h4.8M417.1 500.9h4.8M419.4 494.7V500.5M417 494.7h4.8M417 500.5h4.8M421 495.9V504.3M418.6 495.9h4.8M418.6 504.3h4.8M421.1 486.8V497.4M418.7 486.8h4.8M418.7 497.4h4.8M421.1 491.8V502M418.7 491.8h4.8M418.7 502h4.8M421.1 497.2V508.6M418.7 497.2h4.8M418.7 508.6h4.8M421.2 502.7V512.5M418.8 502.7h4.8M418.8 512.5h4.8M421 490.1V499M418.6 490.1h4.8M418.6 499h4.8M421.1 495.8V505.4M418.7 495.8h4.8M418.7 505.4h4.8M422.9 496.7V499.1M420.5 496.7h4.8M420.5 499.1h4.8M422.8 499.8V502.9M420.4 499.8h4.8M420.4 502.9h4.8M422.8 498V500.9M420.4 498h4.8M420.4 500.9h4.8M422.8 496.8V499.3M420.4 496.8h4.8M420.4 499.3h4.8M424.4 498.6V501.6M422 498.6h4.8M422 501.6h4.8M424.5 496.3V498.8M422.1 496.3h4.8M422.1 498.8h4.8M424.4 498.6V501.1M422 498.6h4.8M422 501.1h4.8M424.5 497V499.5M422.1 497h4.8M422.1 499.5h4.8M424.6 497V500.2M422.2 497h4.8M422.2 500.2h4.8M426.2 497.3V500.6M423.8 497.3h4.8M423.8 500.6h4.8M426.1 494.6V497.6M423.7 494.6h4.8M423.7 497.6h4.8M426.2 500.6V503.1M423.8 500.6h4.8M423.8 503.1h4.8M426.1 498.4V501.2M423.7 498.4h4.8M423.7 501.2h4.8M426.2 501.4V503.9M423.8 501.4h4.8M423.8 503.9h4.8M426.2 497.9V500.9M423.8 497.9h4.8M423.8 500.9h4.8M427.9 492.9V497.5M425.5 492.9h4.8M425.5 497.5h4.8M427.8 497.4V502.1M425.4 497.4h4.8M425.4 502.1h4.8M427.9 494.9V498.9M425.5 494.9h4.8M425.5 498.9h4.8M427.9 497.4V502M425.5 497.4h4.8M425.5 502h4.8M427.8 497.3V502.1M425.4 497.3h4.8M425.4 502.1h4.8M427.9 497.3V502.2M425.5 497.3h4.8M425.5 502.2h4.8M429.6 497.7V502.3M427.2 497.7h4.8M427.2 502.3h4.8M429.5 493.6V497.9M427.1 493.6h4.8M427.1 497.9h4.8M429.5 495.4V500.2M427.1 495.4h4.8M427.1 500.2h4.8M429.6 494.9V499.1M427.2 494.9h4.8M427.2 499.1h4.8M429.6 494.3V498.5M427.2 494.3h4.8M427.2 498.5h4.8M429.5 495.2V499.3M427.1 495.2h4.8M427.1 499.3h4.8M429.5 495.9V500.1M427.1 495.9h4.8M427.1 500.1h4.8M431.2 493.3V504.6M428.8 493.3h4.8M428.8 504.6h4.8M431.3 490.3V501.8M428.9 490.3h4.8M428.9 501.8h4.8M431.2 509.2V521.2M428.8 509.2h4.8M428.8 521.2h4.8M431.3 484.4V495.7M428.9 484.4h4.8M428.9 495.7h4.8M431.2 486.8V498.9M428.8 486.8h4.8M428.8 498.9h4.8M431.3 488V501.9M428.9 488h4.8M428.9 501.9h4.8M431.2 494V507.2M428.8 494h4.8M428.8 507.2h4.8M432.9 493.1V499.7M430.5 493.1h4.8M430.5 499.7h4.8M432.9 497.2V504.3M430.5 497.2h4.8M430.5 504.3h4.8M432.9 495.4V502.8M430.5 495.4h4.8M430.5 502.8h4.8M433 499V506.6M430.6 499h4.8M430.6 506.6h4.8M432.9 496.3V503.5M430.5 496.3h4.8M430.5 503.5h4.8M434.6 494.1V499.8M432.2 494.1h4.8M432.2 499.8h4.8M434.6 490.1V497M432.2 490.1h4.8M432.2 497h4.8M434.5 491.6V497.2M432.1 491.6h4.8M432.1 497.2h4.8M434.6 494.1V500.6M432.2 494.1h4.8M432.2 500.6h4.8M434.7 496.4V504M432.3 496.4h4.8M432.3 504h4.8M434.5 489.9V495.8M432.1 489.9h4.8M432.1 495.8h4.8M436.3 497.5V500.3M433.9 497.5h4.8M433.9 500.3h4.8M436.3 493.8V496.4M433.9 493.8h4.8M433.9 496.4h4.8M436.3 496.1V498.9M433.9 496.1h4.8M433.9 498.9h4.8M436.3 495.1V498.4M433.9 495.1h4.8M433.9 498.4h4.8M436.4 496.1V498.9M434 496.1h4.8M434 498.9h4.8M436.3 495.5V498.3M433.9 495.5h4.8M433.9 498.3h4.8M438 499.4V502M435.6 499.4h4.8M435.6 502h4.8M438 500.1V503.4M435.6 500.1h4.8M435.6 503.4h4.8M437.9 496.9V499.4M435.5 496.9h4.8M435.5 499.4h4.8M438 496.9V499.6M435.6 496.9h4.8M435.6 499.6h4.8M438 495.4V498.3M435.6 495.4h4.8M435.6 498.3h4.8M438 498.7V501.8M435.6 498.7h4.8M435.6 501.8h4.8M439.6 493.6V506.7M437.2 493.6h4.8M437.2 506.7h4.8M439.6 486.4V500.2M437.2 486.4h4.8M437.2 500.2h4.8M439.6 486.8V499.7M437.2 486.8h4.8M437.2 499.7h4.8M439.7 499.6V511.8M437.3 499.6h4.8M437.3 511.8h4.8M439.6 499.6V512.4M437.2 499.6h4.8M437.2 512.4h4.8M439.7 498.9V510.2M437.3 498.9h4.8M437.3 510.2h4.8M441.3 495.4V498.4M438.9 495.4h4.8M438.9 498.4h4.8M441.3 496.8V499.8M438.9 496.8h4.8M438.9 499.8h4.8M441.3 495.7V498.3M438.9 495.7h4.8M438.9 498.3h4.8M441.4 501.5V504M439 501.5h4.8M439 504h4.8M441.3 495.4V498.5M438.9 495.4h4.8M438.9 498.5h4.8M441.3 495.7V499M438.9 495.7h4.8M438.9 499h4.8M441.3 496.2V499.5M438.9 496.2h4.8M438.9 499.5h4.8M443 498.7V501.9M440.6 498.7h4.8M440.6 501.9h4.8M443 497.7V500.2M440.6 497.7h4.8M440.6 500.2h4.8M443 494.8V498.2M440.6 494.8h4.8M440.6 498.2h4.8M443 497.5V500.2M440.6 497.5h4.8M440.6 500.2h4.8M443 496.3V499.5M440.6 496.3h4.8M440.6 499.5h4.8M443 497.5V500.6M440.6 497.5h4.8M440.6 500.6h4.8M446.3 499.8V502.7M443.9 499.8h4.8M443.9 502.7h4.8M446.4 499.4V502.3M444 499.4h4.8M444 502.3h4.8M446.5 497.7V501M444.1 497.7h4.8M444.1 501h4.8M446.4 493.5V496.4M444 493.5h4.8M444 496.4h4.8M446.4 498.2V501M444 498.2h4.8M444 501h4.8M449.7 496.2V503.5M447.3 496.2h4.8M447.3 503.5h4.8M449.9 497.6V504.6M447.5 497.6h4.8M447.5 504.6h4.8M449.8 494.5V501.8M447.4 494.5h4.8M447.4 501.8h4.8M449.7 496.6V503.3M447.3 496.6h4.8M447.3 503.3h4.8M449.8 497.9V504.6M447.4 497.9h4.8M447.4 504.6h4.8M449.9 500.7V507.7M447.5 500.7h4.8M447.5 507.7h4.8M451.5 501.1V504.2M449.1 501.1h4.8M449.1 504.2h4.8M451.4 499.3V502.7M449 499.3h4.8M449 502.7h4.8M451.4 501.8V504.6M449 501.8h4.8M449 504.6h4.8M451.5 495.6V498.6M449.1 495.6h4.8M449.1 498.6h4.8M451.5 496.6V499.5M449.1 496.6h4.8M449.1 499.5h4.8M451.4 496.3V499.6M449 496.3h4.8M449 499.6h4.8M454.8 495V499M452.4 495h4.8M452.4 499h4.8M454.9 495.3V499M452.5 495.3h4.8M452.5 499h4.8M454.8 498.4V502.5M452.4 498.4h4.8M452.4 502.5h4.8M454.8 495.8V499.1M452.4 495.8h4.8M452.4 499.1h4.8M456.5 500.8V504.6M454.1 500.8h4.8M454.1 504.6h4.8M456.5 496.4V499.8M454.1 496.4h4.8M454.1 499.8h4.8M456.5 499.5V503.2M454.1 499.5h4.8M454.1 503.2h4.8M456.6 495.6V498.8M454.2 495.6h4.8M454.2 498.8h4.8M456.6 496.1V500.1M454.2 496.1h4.8M454.2 500.1h4.8M456.5 495.9V500M454.1 495.9h4.8M454.1 500h4.8M458.2 488.3V498.8M455.8 488.3h4.8M455.8 498.8h4.8M458.2 492.8V504.5M455.8 492.8h4.8M455.8 504.5h4.8M458.3 482.4V495M455.9 482.4h4.8M455.9 495h4.8M458.2 492.7V504.1M455.8 492.7h4.8M455.8 504.1h4.8M458.2 495.5V509.4M455.8 495.5h4.8M455.8 509.4h4.8M458.2 498.9V511.1M455.8 498.9h4.8M455.8 511.1h4.8M458.2 499.6V511.5M455.8 499.6h4.8M455.8 511.5h4.8M459.9 494.7V497.8M457.5 494.7h4.8M457.5 497.8h4.8M459.9 493.8V497.7M457.5 493.8h4.8M457.5 497.7h4.8M459.9 493V496.9M457.5 493h4.8M457.5 496.9h4.8M460 497.1V501M457.6 497.1h4.8M457.6 501h4.8M459.9 497.1V501M457.5 497.1h4.8M457.5 501h4.8M459.9 495.9V500M457.5 495.9h4.8M457.5 500h4.8M461.5 488.2V495.8M459.1 488.2h4.8M459.1 495.8h4.8M461.7 489.5V498M459.3 489.5h4.8M459.3 498h4.8M461.7 497.2V505.2M459.3 497.2h4.8M459.3 505.2h4.8M461.6 499.1V506.9M459.2 499.1h4.8M459.2 506.9h4.8M461.6 491.4V500.1M459.2 491.4h4.8M459.2 500.1h4.8M464.9 494.8V503M462.5 494.8h4.8M462.5 503h4.8M464.9 487.8V495M462.5 487.8h4.8M462.5 495h4.8M464.9 493.1V501.3M462.5 493.1h4.8M462.5 501.3h4.8M465 492.3V500.7M462.6 492.3h4.8M462.6 500.7h4.8M465 498.6V506.4M462.6 498.6h4.8M462.6 506.4h4.8M466.7 492.4V497.7M464.3 492.4h4.8M464.3 497.7h4.8M466.7 497.1V503.2M464.3 497.1h4.8M464.3 503.2h4.8M466.6 494.9V499.7M464.2 494.9h4.8M464.2 499.7h4.8M466.6 494.3V498.9M464.2 494.3h4.8M464.2 498.9h4.8M466.7 492.5V497.7M464.3 492.5h4.8M464.3 497.7h4.8M466.7 491.8V497.1M464.3 491.8h4.8M464.3 497.1h4.8M468.3 497.5V500.5M465.9 497.5h4.8M465.9 500.5h4.8M468.3 496.9V500.3M465.9 496.9h4.8M465.9 500.3h4.8M468.3 497.1V500.2M465.9 497.1h4.8M465.9 500.2h4.8M468.3 494.3V497.4M465.9 494.3h4.8M465.9 497.4h4.8M468.4 500.9V504.3M466 500.9h4.8M466 504.3h4.8M468.4 497.7V501.2M466 497.7h4.8M466 501.2h4.8M468.3 497.7V501M465.9 497.7h4.8M465.9 501h4.8M470.1 495.4V499.1M467.7 495.4h4.8M467.7 499.1h4.8M469.9 496.1V499.5M467.5 496.1h4.8M467.5 499.5h4.8M470 497.5V501.2M467.6 497.5h4.8M467.6 501.2h4.8M470 500.6V504.6M467.6 500.6h4.8M467.6 504.6h4.8M470.1 498.6V502.3M467.7 498.6h4.8M467.7 502.3h4.8M470 491.1V494.9M467.6 491.1h4.8M467.6 494.9h4.8M471.7 503.2V511.1M469.3 503.2h4.8M469.3 511.1h4.8M471.7 493.5V501.3M469.3 493.5h4.8M469.3 501.3h4.8M471.7 495.4V502.9M469.3 495.4h4.8M469.3 502.9h4.8M471.7 495.1V502.8M469.3 495.1h4.8M469.3 502.8h4.8M471.7 496.9V506.4M469.3 496.9h4.8M469.3 506.4h4.8M471.8 499.7V507.2M469.4 499.7h4.8M469.4 507.2h4.8M473.3 496.3V501.3M470.9 496.3h4.8M470.9 501.3h4.8M473.4 495.9V501.3M471 495.9h4.8M471 501.3h4.8M473.3 502.6V507.5M470.9 502.6h4.8M470.9 507.5h4.8M473.4 492.2V497.1M471 492.2h4.8M471 497.1h4.8M473.4 493.9V498.8M471 493.9h4.8M471 498.8h4.8M473.5 494.9V500.9M471.1 494.9h4.8M471.1 500.9h4.8M475 497.7V500.3M472.6 497.7h4.8M472.6 500.3h4.8M475.1 497V499.7M472.7 497h4.8M472.7 499.7h4.8M475.1 495.6V497.8M472.7 495.6h4.8M472.7 497.8h4.8M475 497.6V500.3M472.6 497.6h4.8M472.6 500.3h4.8M476.8 494.3V500.2M474.4 494.3h4.8M474.4 500.2h4.8M476.8 498.9V503.6M474.4 498.9h4.8M474.4 503.6h4.8M476.8 495.1V500M474.4 495.1h4.8M474.4 500h4.8M476.8 498.5V503.2M474.4 498.5h4.8M474.4 503.2h4.8M476.8 495.8V501.5M474.4 495.8h4.8M474.4 501.5h4.8M476.8 499V504M474.4 499h4.8M474.4 504h4.8M476.8 496.6V501.2M474.4 496.6h4.8M474.4 501.2h4.8M478.4 499.8V502.4M476 499.8h4.8M476 502.4h4.8M478.4 497V499.5M476 497h4.8M476 499.5h4.8M478.5 497.3V499.8M476.1 497.3h4.8M476.1 499.8h4.8M478.5 498.2V500.3M476.1 498.2h4.8M476.1 500.3h4.8M478.5 497.2V499.6M476.1 497.2h4.8M476.1 499.6h4.8M478.4 497.1V499.8M476 497.1h4.8M476 499.8h4.8M478.5 498.4V500.8M476.1 498.4h4.8M476.1 500.8h4.8M481.8 500.9V503M479.4 500.9h4.8M479.4 503h4.8M481.8 496.3V499M479.4 496.3h4.8M479.4 499h4.8M481.9 497.3V499.9M479.5 497.3h4.8M479.5 499.9h4.8M481.9 500.6V503M479.5 500.6h4.8M479.5 503h4.8M481.9 498V500.7M479.5 498h4.8M479.5 500.7h4.8M481.9 497.5V499.5M479.5 497.5h4.8M479.5 499.5h4.8M483.5 498.5V500.9M481.1 498.5h4.8M481.1 500.9h4.8M483.6 499.5V502.2M481.2 499.5h4.8M481.2 502.2h4.8M483.5 496.2V498.7M481.1 496.2h4.8M481.1 498.7h4.8M483.5 497.4V499.9M481.1 497.4h4.8M481.1 499.9h4.8M483.6 497.3V499.8M481.2 497.3h4.8M481.2 499.8h4.8M485.2 495.8V498M482.8 495.8h4.8M482.8 498h4.8M485.2 497.8V499.9M482.8 497.8h4.8M482.8 499.9h4.8M485.2 497.4V500.2M482.8 497.4h4.8M482.8 500.2h4.8M485.2 496V498.7M482.8 496h4.8M482.8 498.7h4.8M485.3 497.6V499.7M482.9 497.6h4.8M482.9 499.7h4.8M486.9 491.7V496.6M484.5 491.7h4.8M484.5 496.6h4.8M486.9 499.2V504M484.5 499.2h4.8M484.5 504h4.8M486.9 495V500.1M484.5 495h4.8M484.5 500.1h4.8M486.9 494.7V499.6M484.5 494.7h4.8M484.5 499.6h4.8M486.8 492.8V498.7M484.4 492.8h4.8M484.4 498.7h4.8M486.9 495.4V501.3M484.5 495.4h4.8M484.5 501.3h4.8M486.9 499.7V506M484.5 499.7h4.8M484.5 506h4.8M488.6 494.9V497.6M486.2 494.9h4.8M486.2 497.6h4.8M488.5 497.4V499.7M486.1 497.4h4.8M486.1 499.7h4.8M488.5 498V500.8M486.1 498h4.8M486.1 500.8h4.8M488.6 497.2V499.7M486.2 497.2h4.8M486.2 499.7h4.8M490.3 496.7V498.8M487.9 496.7h4.8M487.9 498.8h4.8M490.2 499V501.6M487.8 499h4.8M487.8 501.6h4.8M490.3 497.1V499.6M487.9 497.1h4.8M487.9 499.6h4.8M490.3 497.8V500.1M487.9 497.8h4.8M487.9 500.1h4.8M492 497.7V500.3M489.6 497.7h4.8M489.6 500.3h4.8M492 496.7V499.3M489.6 496.7h4.8M489.6 499.3h4.8M491.9 496V498.6M489.5 496h4.8M489.5 498.6h4.8M492 496.7V499.3M489.6 496.7h4.8M489.6 499.3h4.8M493.7 493.3V504.2M491.3 493.3h4.8M491.3 504.2h4.8M493.7 491.7V504.3M491.3 491.7h4.8M491.3 504.3h4.8M493.6 499.9V509.2M491.2 499.9h4.8M491.2 509.2h4.8M493.7 492.4V504.7M491.3 492.4h4.8M491.3 504.7h4.8M493.6 499V510M491.2 499h4.8M491.2 510h4.8M493.5 492.7V503.7M491.1 492.7h4.8M491.1 503.7h4.8M495.3 495.9V498.3M492.9 495.9h4.8M492.9 498.3h4.8M495.3 494.9V497.6M492.9 494.9h4.8M492.9 497.6h4.8M495.4 497.4V499.4M493 497.4h4.8M493 499.4h4.8M495.3 496.4V499.1M492.9 496.4h4.8M492.9 499.1h4.8M498.6 497.4V499.4M496.2 497.4h4.8M496.2 499.4h4.8M498.7 496.1V498.6M496.3 496.1h4.8M496.3 498.6h4.8M498.6 497.3V500M496.2 497.3h4.8M496.2 500h4.8M498.8 497.4V500M496.4 497.4h4.8M496.4 500h4.8M498.6 497.8V500.5M496.2 497.8h4.8M496.2 500.5h4.8M498.7 497.8V500.3M496.3 497.8h4.8M496.3 500.3h4.8M498.7 497.1V499.6M496.3 497.1h4.8M496.3 499.6h4.8M500.4 500V502.7M498 500h4.8M498 502.7h4.8M500.3 497.2V499.2M497.9 497.2h4.8M497.9 499.2h4.8M500.5 497.5V499.7M498.1 497.5h4.8M498.1 499.7h4.8M500.3 496.1V498.4M497.9 496.1h4.8M497.9 498.4h4.8M500.4 497.9V500.5M498 497.9h4.8M498 500.5h4.8M500.3 497.2V499.8M497.9 497.2h4.8M497.9 499.8h4.8M502.1 496.9V500.9M499.7 496.9h4.8M499.7 500.9h4.8M502 493V496.1M499.6 493h4.8M499.6 496.1h4.8M502.1 499V502.7M499.7 499h4.8M499.7 502.7h4.8M502.1 493.4V497.1M499.7 493.4h4.8M499.7 497.1h4.8M502 494.1V497.9M499.6 494.1h4.8M499.6 497.9h4.8M505.4 499.1V506.4M503 499.1h4.8M503 506.4h4.8M505.5 493.2V500.4M503.1 493.2h4.8M503.1 500.4h4.8M505.4 496.6V503.7M503 496.6h4.8M503 503.7h4.8M505.4 491.4V498.8M503 491.4h4.8M503 498.8h4.8M505.4 490.5V498.3M503 490.5h4.8M503 498.3h4.8M505.4 503.9V510.8M503 503.9h4.8M503 510.8h4.8M507.2 495.2V499.3M504.8 495.2h4.8M504.8 499.3h4.8M507.1 494.8V498.6M504.7 494.8h4.8M504.7 498.6h4.8M507.1 499.5V503.6M504.7 499.5h4.8M504.7 503.6h4.8M507.1 499.7V503M504.7 499.7h4.8M504.7 503h4.8M507.1 496.4V500.5M504.7 496.4h4.8M504.7 500.5h4.8M508.8 494.6V498.8M506.4 494.6h4.8M506.4 498.8h4.8M508.9 494.2V497.5M506.5 494.2h4.8M506.5 497.5h4.8M508.9 496.7V500M506.5 496.7h4.8M506.5 500h4.8M508.8 495.9V499.4M506.4 495.9h4.8M506.4 499.4h4.8M508.8 496.1V499.8M506.4 496.1h4.8M506.4 499.8h4.8M508.7 497.2V501.3M506.3 497.2h4.8M506.3 501.3h4.8M508.8 497.6V501M506.4 497.6h4.8M506.4 501h4.8M510.5 500.4V503.7M508.1 500.4h4.8M508.1 503.7h4.8M510.5 495.7V499M508.1 495.7h4.8M508.1 499h4.8M510.4 497.9V501.2M508 497.9h4.8M508 501.2h4.8M510.5 493V496.9M508.1 493h4.8M508.1 496.9h4.8M510.5 498.3V501.9M508.1 498.3h4.8M508.1 501.9h4.8M512.1 491.2V498.6M509.7 491.2h4.8M509.7 498.6h4.8M512.1 490.6V498.1M509.7 490.6h4.8M509.7 498.1h4.8M512.2 494.1V503.5M509.8 494.1h4.8M509.8 503.5h4.8M512.2 491.6V499.7M509.8 491.6h4.8M509.8 499.7h4.8M512.2 496.6V506M509.8 496.6h4.8M509.8 506h4.8M512.2 494.2V502.9M509.8 494.2h4.8M509.8 502.9h4.8M513.9 495.7V499.9M511.5 495.7h4.8M511.5 499.9h4.8M513.8 495.2V498.3M511.4 495.2h4.8M511.4 498.3h4.8M513.8 492.7V495.9M511.4 492.7h4.8M511.4 495.9h4.8M513.9 495.1V499M511.5 495.1h4.8M511.5 499h4.8M513.8 498.3V501.7M511.4 498.3h4.8M511.4 501.7h4.8M513.9 500.6V504.1M511.5 500.6h4.8M511.5 504.1h4.8M513.8 496.6V499.9M511.4 496.6h4.8M511.4 499.9h4.8M515.5 500.1V508.2M513.1 500.1h4.8M513.1 508.2h4.8M515.6 489.9V498.4M513.2 489.9h4.8M513.2 498.4h4.8M515.6 497.6V505M513.2 497.6h4.8M513.2 505h4.8M515.6 488.8V497.8M513.2 488.8h4.8M513.2 497.8h4.8M517.3 498V501.6M514.9 498h4.8M514.9 501.6h4.8M517.2 492.4V496.3M514.8 492.4h4.8M514.8 496.3h4.8M517.3 496.3V499.7M514.9 496.3h4.8M514.9 499.7h4.8M517.3 498.1V501.8M514.9 498.1h4.8M514.9 501.8h4.8M518.9 494.4V498.4M516.5 494.4h4.8M516.5 498.4h4.8M519 499.3V502.7M516.6 499.3h4.8M516.6 502.7h4.8M518.9 496.1V500.4M516.5 496.1h4.8M516.5 500.4h4.8M518.9 495.1V499.5M516.5 495.1h4.8M516.5 499.5h4.8M522.3 495.8V498M519.9 495.8h4.8M519.9 498h4.8M522.2 498.3V500.6M519.8 498.3h4.8M519.8 500.6h4.8M522.3 497.4V500.1M519.9 497.4h4.8M519.9 500.1h4.8M522.3 496.1V498.3M519.9 496.1h4.8M519.9 498.3h4.8M522.2 497V499.4M519.8 497h4.8M519.8 499.4h4.8M524 497V499.6M521.6 497h4.8M521.6 499.6h4.8M524 496.8V499.2M521.6 496.8h4.8M521.6 499.2h4.8M524 496.5V499.1M521.6 496.5h4.8M521.6 499.1h4.8M524 497.7V500.5M521.6 497.7h4.8M521.6 500.5h4.8M525.6 492.3V501.8M523.2 492.3h4.8M523.2 501.8h4.8M525.7 491V500.6M523.3 491h4.8M523.3 500.6h4.8M525.8 486.7V496.5M523.4 486.7h4.8M523.4 496.5h4.8M525.7 488.5V497.9M523.3 488.5h4.8M523.3 497.9h4.8M525.7 497.8V507.9M523.3 497.8h4.8M523.3 507.9h4.8M529 497.3V500.1M526.6 497.3h4.8M526.6 500.1h4.8M529.1 498.7V500.9M526.7 498.7h4.8M526.7 500.9h4.8M529.1 495.8V498.2M526.7 495.8h4.8M526.7 498.2h4.8M529 496.8V499.5M526.6 496.8h4.8M526.6 499.5h4.8M529 498.5V500.7M526.6 498.5h4.8M526.6 500.7h4.8M529 496.4V498.8M526.6 496.4h4.8M526.6 498.8h4.8M529 498.6V501.1M526.6 498.6h4.8M526.6 501.1h4.8M530.8 493.7V495.8M528.4 493.7h4.8M528.4 495.8h4.8M530.7 497.2V500.1M528.3 497.2h4.8M528.3 500.1h4.8M530.7 496.7V498.9M528.3 496.7h4.8M528.3 498.9h4.8M530.7 496.2V499.1M528.3 496.2h4.8M528.3 499.1h4.8M530.7 496.1V498.5M528.3 496.1h4.8M528.3 498.5h4.8M532.5 493.6V497.4M530.1 493.6h4.8M530.1 497.4h4.8M532.5 499.9V503.4M530.1 499.9h4.8M530.1 503.4h4.8M532.4 497.7V501.5M530 497.7h4.8M530 501.5h4.8M532.4 500V504.3M530 500h4.8M530 504.3h4.8M532.4 495.3V499.5M530 495.3h4.8M530 499.5h4.8M532.4 495.7V500.2M530 495.7h4.8M530 500.2h4.8M534.1 498.3V500.9M531.7 498.3h4.8M531.7 500.9h4.8M534.1 495.4V498.2M531.7 495.4h4.8M531.7 498.2h4.8M534 499.4V501.7M531.6 499.4h4.8M531.6 501.7h4.8M534.1 497.2V499.6M531.7 497.2h4.8M531.7 499.6h4.8M535.8 494.9V503.1M533.4 494.9h4.8M533.4 503.1h4.8M535.8 489.3V497.1M533.4 489.3h4.8M533.4 497.1h4.8M535.7 499.1V508.2M533.3 499.1h4.8M533.3 508.2h4.8M535.9 502.2V511.4M533.5 502.2h4.8M533.5 511.4h4.8"/><path stroke-width="5" stroke-linecap="round" d="M100.5 494.9h0M102.3 493h0M103.9 495.2h0M105.7 494.7h0M109.1 491.3h0M109.1 493.2h0M112.5 489.2h0M114.2 494.5h0M115.9 490.9h0M117.6 489.1h0M119.3 487.6h0M120.9 486.1h0M131.2 467.4h0M132.8 462.8h0M132.9 463.1h0M132.9 463.4h0M133 463.6h0M133.1 463.8h0M134.4 463.2h0M134.5 463.6h0M134.5 463.9h0M134.6 464.2h0M137.8 471.3h0M137.9 473.7h0M139.5 472h0M139.5 472.7h0M139.7 476.8h0M141.3 479.6h0M141.3 480.1h0M142.9 482.3h0M142.9 484.3h0M144.6 483.4h0M144.6 484.6h0M144.6 485.8h0M146.4 481.3h0M146.4 483.9h0M146.3 486h0M148 486.8h0M148 488.2h0M149.6 487.1h0M149.6 487.9h0M149.6 489.7h0M151.3 490.1h0M151.3 491.7h0M153 489h0M153 490.4h0M153 491.4h0M154.7 490.2h0M154.7 492.1h0M156.4 489h0M156.4 490.4h0M156.4 491.4h0M156.4 493.5h0M158.1 489.3h0M158.1 490.8h0M159.7 492.2h0M159.7 493.2h0M159.7 494h0M161.4 492.4h0M161.4 494.2h0M161.4 494.8h0M161.4 495.7h0M163.1 493.2h0M163.1 494.2h0M163.1 495.2h0M163.1 497.8h0M164.8 493.2h0M164.8 494.8h0M164.8 496h0M164.8 497.1h0M166.5 494.8h0M166.5 495.5h0M166.5 497.5h0M166.5 498.4h0M166.5 499.4h0M168.3 493.2h0M168.3 494.8h0M168.3 495.7h0M170 494.2h0M170 495.8h0M170 497.3h0M170 494.8h0M171.6 494.2h0M171.6 496.5h0M171.6 498.9h0M173.4 492.7h0M173.4 496.3h0M173.4 497.8h0M173.4 499h0M175 496.1h0M175 497.5h0M175 499h0M176.7 494.9h0M176.7 496.3h0M176.7 497.8h0M176.7 499.3h0M178.5 496.1h0M178.5 497.2h0M178.5 498.4h0M178.5 500.9h0M180 495.8h0M180 497.2h0M180 501h0M180 503.6h0M181.7 485.9h0M181.7 491.7h0M181.8 493h0M181.8 498.1h0M183.5 487.5h0M183.5 491.8h0M183.5 495.8h0M183.5 499.3h0M183.5 501.2h0M185.2 496.1h0M185.2 497.2h0M185.2 498.1h0M185.2 499.3h0M186.9 495.5h0M186.9 496.6h0M186.9 497.8h0M186.9 499h0M188.5 489.9h0M188.5 492.5h0M188.5 495.2h0M188.5 497.5h0M188.5 499.3h0M188.5 501.3h0M190.3 494.9h0M190.3 496.3h0M190.3 497.5h0M190.3 499.6h0M190.3 501.3h0M191.9 495.8h0M191.9 496.6h0M191.9 498.1h0M191.9 499.9h0M193.5 494.9h0M193.5 497.2h0M193.5 498.7h0M193.5 501.3h0M195.3 496.1h0M195.3 496.9h0M195.3 498.1h0M195.3 500.5h0M196.9 495.8h0M196.9 497.2h0M196.9 498.7h0M262.9 377.4h0M279.2 397.1h0M338.5 379.5h0M341.5 340.9h0M403.6 435.8h0M231 478h0M273 481h0M294.4 481h0M275 510h0M227.6 512h0M295 513h0M301.6 471.6h0M325 478h0M339 479h0M355 481h0M365 482h0M388 481h0M340 520h0M365 514h0M318 510h0M458 477h0M502 477h0M433 510h0M414 508h0M531.6 484h0M541 497h0M539 504h0M151.3 490.5h0M151.3 489.5h0M152.9 492.8h0M153 491.7h0M154.6 490.6h0M154.7 490.1h0M156.4 490.9h0M156.3 490.9h0M158 492.9h0M158.1 493.2h0M159.7 493.1h0M159.7 495.1h0M161.3 495.3h0M161.4 494.3h0M163.1 494.7h0M163 495.7h0M164.8 497.6h0M164.7 495.1h0M166.4 496.2h0M166.5 497.2h0M168.2 495h0M168.1 494.8h0M169.8 497.3h0M169.9 496.7h0M171.5 495.9h0M171.6 495.6h0M173.2 498.3h0M173.2 496.7h0M174.9 495h0M174.9 498h0M176.6 497.5h0M176.6 496.6h0M178.3 497.2h0M178.3 496.4h0M180 499.8h0M180 497.2h0M181.6 496.7h0M181.6 495.6h0M183.4 495.7h0M183.3 498.4h0M185 496.4h0M185 495.7h0M186.7 498.4h0M186.8 496.2h0M188.4 495.3h0M188.5 497.3h0M190.1 496.2h0M190.1 497.4h0M191.8 495.8h0M191.8 498.8h0M193.5 497.1h0M193.5 499.5h0M195.1 495.8h0M195.1 496.7h0M196.8 496.7h0M196.8 497.4h0M198.6 498.7h0M198.5 496.7h0M182 509h0M168.2 503.1h0M169.8 503.2h0M174.9 503.2h0M178.2 502.1h0M181.6 502.8h0M183.3 502.3h0M186.7 503.3h0M190.1 502.9h0M193.5 502.1h0M196.9 503.2h0M201.9 502.2h0M203.6 502.4h0M206.9 503h0M212 502.8h0M213.6 502.9h0M218.8 503.1h0M220.5 503.2h0M200.1 495.9h0M200.2 496.9h0M200.2 497.1h0M200.1 498.2h0M200.2 499.4h0M200.2 499.9h0M201.8 495.7h0M201.8 496.7h0M201.9 497.8h0M201.8 498.3h0M201.8 499.3h0M201.9 500.2h0M203.5 495.6h0M203.6 496.4h0M203.6 497.4h0M203.6 497.7h0M203.6 499.2h0M203.5 500h0M205.3 495.9h0M205.3 496.7h0M205.3 497.8h0M205.3 498.4h0M205.2 499.2h0M205.3 500.2h0M206.9 495.8h0M206.9 496.8h0M207 497.6h0M207 498.3h0M207 498.9h0M207 500.4h0M208.6 493.1h0M208.6 494.9h0M208.6 496.2h0M208.7 498h0M208.6 498.7h0M208.6 500h0M208.6 501.9h0M210.4 495.5h0M210.3 496.4h0M210.2 497.6h0M210.3 498.3h0M210.3 499.6h0M210.3 500.8h0M212 494.5h0M212 496.5h0M211.9 497h0M212.1 498.4h0M212 500.1h0M212.1 501.3h0M213.7 495.5h0M213.7 496.8h0M213.7 498h0M213.7 499.4h0M213.7 500.5h0M213.6 501.8h0M215.3 495.7h0M215.4 496.9h0M215.4 497.7h0M215.4 498.8h0M215.4 499.4h0M215.4 500.3h0M217.1 495.8h0M217.1 496.4h0M217 498h0M217 498.2h0M217.1 499.3h0M217.1 500.5h0M218.7 495.5h0M218.7 496.6h0M218.7 497.6h0M218.7 498.6h0M218.8 499.8h0M218.8 500.6h0M220.5 495.3h0M220.4 496.8h0M220.4 497.6h0M220.4 498.4h0M220.5 499.8h0M220.5 500.8h0M222.1 499h0M222.1 499.4h0M222.1 496.5h0M222.1 501.8h0M222.2 498.2h0M222.1 501.9h0M223.8 495.8h0M223.8 496.5h0M223.8 500.9h0M223.8 496.3h0M225.5 495.6h0M225.5 497.2h0M225.5 497.2h0M225.5 498.1h0M225.5 498.2h0M225.4 497.9h0M225.5 496.6h0M227.1 499.4h0M227.2 494.3h0M227.2 499.3h0M227.2 498.6h0M227.2 497.1h0M228.8 497.2h0M228.8 497.6h0M228.8 495h0M228.8 499.5h0M228.8 499.9h0M228.9 499h0M230.6 499.2h0M230.6 499.4h0M230.5 498.8h0M230.5 498.1h0M230.6 495.6h0M230.6 500.7h0M232.3 497.7h0M232.2 494h0M232.2 499.1h0M232.2 498h0M232.2 505.2h0M232.3 500.7h0M232.3 502h0M235.7 494.2h0M235.6 499.1h0M235.6 499.8h0M235.5 499.4h0M237.2 499.7h0M237.3 498.2h0M237.3 497.7h0M237.3 504.2h0M239 500.6h0M239 495.8h0M238.9 494.1h0M239 499.8h0M240.6 496.7h0M240.7 497.1h0M240.7 496.7h0M240.7 500.1h0M240.7 500.7h0M240.7 498.5h0M242.3 499.3h0M242.4 495.7h0M242.3 498.1h0M242.3 497.8h0M242.4 497.7h0M242.3 498.4h0M244.1 491.6h0M244 509.3h0M244.1 501.5h0M244.1 496.8h0M244 501.3h0M244.1 505.7h0M244.1 489.7h0M245.7 487.7h0M245.8 496.3h0M245.7 483.8h0M245.7 505.5h0M245.8 487h0M245.8 495.2h0M249.1 498.2h0M249 497.4h0M249 498.4h0M249.1 500.9h0M250.8 497.9h0M250.8 498.3h0M250.9 502.7h0M250.7 499.4h0M250.8 498h0M252.4 497.2h0M252.4 501.2h0M252.4 497.5h0M252.4 501h0M252.4 497.9h0M254.2 494.3h0M254.1 499.3h0M254.2 494.2h0M254.2 495h0M254.2 492.9h0M254.2 499.4h0M254.1 498.5h0M255.9 494.4h0M255.8 499h0M255.8 498.7h0M255.8 497.7h0M255.9 498.7h0M255.8 496.4h0M257.5 496.9h0M257.5 497.5h0M257.5 496.7h0M257.5 495.8h0M257.6 498.1h0M257.6 499.9h0M257.5 496.8h0M259.2 501.2h0M259.1 497.6h0M259.2 498.2h0M259.2 497.5h0M259.2 500.7h0M259.1 497.9h0M260.8 495.4h0M260.9 500.6h0M260.9 503.5h0M260.8 499.7h0M262.6 499h0M262.7 498.4h0M262.6 497.4h0M262.6 499.2h0M264.3 504.8h0M264.3 511.7h0M264.2 498h0M264.3 492.7h0M264.2 498.8h0M264.2 480.2h0M264.3 499.7h0M266 498.1h0M266 500.7h0M266 500.8h0M265.9 497.8h0M267.6 492.9h0M267.6 493.9h0M267.7 498.7h0M267.6 508h0M267.7 508.8h0M269.3 497.1h0M269.4 490.1h0M269.4 501.9h0M269.3 500.4h0M269.3 502.9h0M269.3 494h0M271 494.6h0M271.1 500.6h0M271 503h0M271 500.9h0M271.1 497.4h0M271 494.6h0M272.7 499.1h0M272.7 502.2h0M272.8 500.3h0M272.7 499.3h0M272.7 497.9h0M272.6 494.3h0M272.6 497.1h0M276.1 496.7h0M276 499.7h0M276.1 497.9h0M276.1 501.8h0M276.1 496.7h0M276.1 500h0M276 494.8h0M277.8 498h0M277.8 503h0M277.8 496.9h0M277.8 496.9h0M279.4 488.7h0M279.4 503.2h0M279.5 510.3h0M279.4 504h0M279.5 492.4h0M279.4 507.8h0M279.4 496.8h0M281.1 503.4h0M281.1 495.4h0M281.1 494.6h0M281.2 500h0M281.1 508.4h0M281.1 509.2h0M281.2 499.4h0M282.9 496.8h0M282.8 498.3h0M282.9 503h0M282.8 500h0M282.8 497.2h0M284.5 497.1h0M284.4 498.8h0M284.5 497h0M284.5 494.7h0M286.3 503.5h0M286.2 497.1h0M286.2 502.1h0M286.2 500.2h0M286.1 498.6h0M286.2 498.8h0M286.2 494.4h0M287.9 500.4h0M287.8 495.4h0M288 498.6h0M288 498.5h0M287.9 498h0M289.6 498.9h0M289.6 498.4h0M289.5 495h0M289.6 497.5h0M289.6 500.2h0M289.6 500.7h0M291.2 501.4h0M291.3 496.6h0M291.2 496.5h0M291.2 498.4h0M293 499.4h0M293 499.9h0M292.9 498.4h0M293 495.1h0M292.9 499h0M294.6 496.9h0M294.6 500h0M294.7 501.3h0M294.6 494.9h0M298 501.9h0M298 500.7h0M298 492.8h0M298 496.2h0M297.9 497.4h0M299.7 499.8h0M299.7 502.7h0M299.7 499.5h0M299.8 500.3h0M299.7 494.7h0M301.4 501.5h0M301.4 497.2h0M301.4 501.8h0M301.4 502h0M301.4 495.8h0M303 500.5h0M303.1 498.1h0M303 499.1h0M303.1 504.1h0M303.1 495.3h0M303.1 498.3h0M304.7 498.9h0M304.8 499h0M304.7 499.1h0M304.7 502.7h0M304.7 494.7h0M304.7 500.2h0M306.5 495.6h0M306.5 500.6h0M306.4 496.7h0M306.5 496.8h0M306.5 497.4h0M306.5 494.7h0M308.1 500.6h0M308.1 502.5h0M308.1 495.4h0M308.2 495.3h0M308.1 499.8h0M308.1 499.8h0M309.9 487h0M309.8 507h0M309.9 492.5h0M309.9 503.8h0M309.8 501.9h0M311.5 496.4h0M311.5 502.1h0M311.5 498.1h0M311.6 498.7h0M311.6 498.3h0M311.5 498.4h0M311.4 497.7h0M313.1 498.8h0M313.3 499h0M313.2 495.6h0M313.1 499.6h0M313.3 502.3h0M314.8 499.9h0M314.8 494.5h0M314.9 498.2h0M314.9 499.6h0M314.9 496.3h0M314.9 500.5h0M314.8 495h0M316.5 502.2h0M316.6 498h0M316.5 496.9h0M316.5 501.3h0M316.5 496.8h0M316.6 495.6h0M318.3 497.7h0M318.2 500.3h0M318.3 496.4h0M318.2 500.9h0M318.2 498.4h0M318.2 496.4h0M318.2 497.5h0M320 502.3h0M319.9 500.4h0M320 500.2h0M319.9 501.2h0M319.9 500.3h0M321.6 495.1h0M321.6 501h0M321.6 504.9h0M321.6 498h0M321.6 489.3h0M323.3 500.5h0M323.3 492h0M323.3 497.4h0M323.2 496.1h0M325 497.7h0M325 489.8h0M325 489.4h0M325 499.5h0M326.7 508.5h0M326.6 498.9h0M326.7 514.2h0M326.7 489.3h0M326.7 503.7h0M326.7 498.7h0M326.7 505h0M328.4 503.6h0M328.4 500.3h0M328.3 498.7h0M328.3 498.1h0M328.3 494.6h0M330.1 500h0M330 501.6h0M330 501.1h0M330.1 499h0M330 496.5h0M331.7 496.4h0M331.7 496.8h0M331.7 499.3h0M331.7 496.4h0M333.5 498h0M333.4 499h0M333.5 497.3h0M333.4 497.3h0M333.5 500h0M333.3 499h0M333.5 499.9h0M335.1 500.6h0M335 497.9h0M335.1 495.5h0M335.1 498.9h0M335.1 496.6h0M335.1 496h0M335.1 497.5h0M336.8 497.6h0M336.7 498.7h0M336.8 495.2h0M336.7 495.8h0M336.8 498.5h0M338.5 503.3h0M338.4 493.3h0M338.4 509.6h0M338.4 500h0M338.5 497.4h0M340.2 497.8h0M340.2 500h0M340.2 493.4h0M340.1 496.7h0M340.1 500.1h0M340.2 494.2h0M340.2 500.4h0M341.8 496.3h0M341.8 512.2h0M341.9 507.8h0M341.8 507.7h0M343.5 500.8h0M343.5 498.7h0M343.5 502.7h0M343.6 499.4h0M343.6 496.7h0M343.5 495.9h0M345.3 500.2h0M345.2 500.6h0M345.3 497.2h0M345.3 496h0M347 493.6h0M346.9 497.3h0M346.9 501.1h0M346.9 500.9h0M346.8 505h0M346.9 499.2h0M347 502h0M348.6 499.3h0M348.6 497.9h0M348.6 496.6h0M348.6 501.1h0M350.4 498.5h0M350.3 493.8h0M350.3 497.9h0M350.3 499.9h0M350.2 495.3h0M350.3 496.3h0M350.2 500.9h0M352 504.5h0M352 503.1h0M352 500.6h0M351.9 503.8h0M351.9 497.9h0M352 497.2h0M353.7 497.8h0M353.7 500.7h0M353.7 500.1h0M353.7 499.9h0M353.7 498.5h0M355.3 495.4h0M355.4 500.9h0M355.3 500.4h0M355.4 498.3h0M355.3 498.8h0M355.3 499.3h0M357 497.6h0M357 509h0M357 515.9h0M357 500.9h0M357.1 498.4h0M357 504h0M357 495.9h0M358.8 495.3h0M358.8 497.7h0M358.7 496.8h0M358.7 494h0M358.7 499.7h0M358.8 496.1h0M358.7 498.1h0M362.1 498.2h0M362 496h0M362 501.8h0M362.2 497h0M362.1 498.6h0M363.8 500h0M363.7 498.6h0M363.8 500h0M363.8 500.2h0M363.7 501.7h0M363.7 495.5h0M365.4 487.3h0M365.4 491.8h0M365.4 500.3h0M365.4 502.7h0M367.1 494.7h0M367.1 497.6h0M367.1 501.6h0M367.2 494.4h0M367.1 502.5h0M368.8 498.5h0M368.9 500.7h0M368.8 495.4h0M368.8 493h0M370.5 495.9h0M370.5 495.9h0M370.4 496.9h0M370.5 501.3h0M370.5 503.6h0M370.6 495.2h0M370.4 497.3h0M373.8 495.9h0M373.9 492.5h0M373.9 496.2h0M373.8 505.1h0M374 500.6h0M373.9 502.2h0M375.5 503.2h0M375.5 495.6h0M375.6 503.4h0M375.6 498.2h0M375.6 497.7h0M375.6 502.2h0M375.5 499.7h0M377.3 497.1h0M377.3 496.7h0M377.2 498.4h0M377.4 499.1h0M377.3 499.8h0M377.2 497.8h0M379 500h0M378.9 498.6h0M379 501.8h0M378.9 498.2h0M379 500.2h0M378.9 497.3h0M378.9 499.4h0M380.6 502h0M380.7 500.3h0M380.7 503.1h0M380.6 500.2h0M380.6 502.4h0M380.7 495.6h0M382.4 500.4h0M382.3 497.6h0M382.3 497.8h0M382.4 496.7h0M382.4 498.7h0M384 496.7h0M384 497.5h0M384 498.6h0M384.1 498.1h0M384 497.2h0M385.8 496.6h0M385.7 496.4h0M385.7 497.2h0M385.8 499.3h0M385.6 498.8h0M385.6 499.3h0M387.4 499.8h0M387.4 498.4h0M387.4 500.3h0M387.4 497.5h0M387.4 498.3h0M390.7 497.5h0M390.8 499h0M390.8 499.9h0M390.8 500.4h0M390.7 499.5h0M390.8 500.1h0M390.7 498.7h0M394.2 501.1h0M394.1 497.8h0M394.1 497.1h0M394.2 498.1h0M394.1 498.2h0M394.2 498.1h0M395.8 500.5h0M395.9 497.3h0M395.8 497.2h0M395.8 499.1h0M397.5 499.6h0M397.5 498.2h0M397.6 497.5h0M397.5 498.6h0M397.5 497.9h0M397.5 496h0M399.2 497.7h0M399.3 493h0M399.2 504.3h0M399.2 497.5h0M399.2 500h0M399.2 508.5h0M399.2 507.3h0M401 499.7h0M400.9 494.3h0M400.9 499.7h0M400.9 494.2h0M400.8 501.2h0M401 501.2h0M400.9 488.2h0M402.6 499h0M402.5 496h0M402.6 502.3h0M402.6 495.7h0M402.5 498.7h0M404.3 499.1h0M404.3 497.5h0M404.3 499.2h0M404.3 500.6h0M404.3 499.5h0M404.2 497.3h0M404.3 500.2h0M405.9 498.4h0M406 496.9h0M405.9 499.7h0M405.9 500.6h0M405.9 507.2h0M405.9 499.8h0M407.6 497.9h0M407.7 498.9h0M407.6 495.4h0M407.6 503.1h0M407.6 501.3h0M407.6 501h0M407.6 498.9h0M409.3 491.4h0M409.3 492.7h0M409.4 498.9h0M409.4 494.3h0M411.1 496h0M411 495.9h0M411 494.9h0M411 498.3h0M411 491.9h0M411 498.6h0M411.1 498.3h0M412.7 500.1h0M412.7 499.1h0M412.6 502.1h0M412.6 501.6h0M414.4 503.2h0M414.4 497.8h0M414.4 500.3h0M414.4 497.1h0M414.3 490.7h0M416.1 502.4h0M416.1 497.2h0M416.1 498.1h0M416 497.1h0M416.1 494.4h0M416.1 497.1h0M417.7 497.3h0M417.7 497.4h0M417.7 496h0M417.8 501h0M419.5 501h0M419.4 501.8h0M419.5 502.6h0M419.5 499h0M419.5 498h0M419.4 497.6h0M421 500.1h0M421.1 492.1h0M421.1 496.9h0M421.1 502.9h0M421.2 507.6h0M421 494.5h0M421.1 500.6h0M422.9 497.9h0M422.8 501.3h0M422.8 499.5h0M422.8 498h0M424.4 500.1h0M424.5 497.6h0M424.4 499.8h0M424.5 498.3h0M424.6 498.6h0M426.2 499h0M426.1 496.1h0M426.2 501.9h0M426.1 499.8h0M426.2 502.7h0M426.2 499.4h0M427.9 495.2h0M427.8 499.7h0M427.9 496.9h0M427.9 499.7h0M427.8 499.7h0M427.9 499.7h0M429.6 500h0M429.5 495.7h0M429.5 497.8h0M429.6 497h0M429.6 496.4h0M429.5 497.3h0M429.5 498h0M431.2 499h0M431.3 496h0M431.2 515.2h0M431.3 490h0M431.2 492.8h0M431.3 494.9h0M431.2 500.6h0M432.9 496.4h0M432.9 500.7h0M432.9 499.1h0M433 502.8h0M432.9 499.9h0M434.6 497h0M434.6 493.6h0M434.5 494.4h0M434.6 497.3h0M434.7 500.2h0M434.5 492.9h0M436.3 498.9h0M436.3 495.1h0M436.3 497.5h0M436.3 496.8h0M436.4 497.5h0M436.3 496.9h0M438 500.7h0M438 501.7h0M437.9 498.2h0M438 498.2h0M438 496.9h0M438 500.3h0M439.6 500.1h0M439.6 493.3h0M439.6 493.3h0M439.7 505.7h0M439.6 506h0M439.7 504.6h0M441.3 496.9h0M441.3 498.3h0M441.3 497h0M441.4 502.8h0M441.3 496.9h0M441.3 497.4h0M441.3 497.8h0M443 500.3h0M443 498.9h0M443 496.5h0M443 498.8h0M443 497.9h0M443 499.1h0M446.3 501.2h0M446.4 500.9h0M446.5 499.4h0M446.4 494.9h0M446.4 499.6h0M449.7 499.8h0M449.9 501.1h0M449.8 498.2h0M449.7 500h0M449.8 501.2h0M449.9 504.2h0M451.5 502.6h0M451.4 501h0M451.4 503.2h0M451.5 497.1h0M451.5 498.1h0M451.4 497.9h0M454.8 497h0M454.9 497.1h0M454.8 500.4h0M454.8 497.5h0M456.5 502.7h0M456.5 498.1h0M456.5 501.4h0M456.6 497.2h0M456.6 498.1h0M456.5 498h0M458.2 493.6h0M458.2 498.6h0M458.3 488.7h0M458.2 498.4h0M458.2 502.5h0M458.2 505h0M458.2 505.5h0M459.9 496.2h0M459.9 495.7h0M459.9 494.9h0M460 499.1h0M459.9 499.1h0M459.9 497.9h0M461.5 492h0M461.7 493.8h0M461.7 501.2h0M461.6 503h0M461.6 495.8h0M464.9 498.9h0M464.9 491.4h0M464.9 497.2h0M465 496.5h0M465 502.5h0M466.7 495h0M466.7 500.2h0M466.6 497.3h0M466.6 496.6h0M466.7 495.1h0M466.7 494.5h0M468.3 499h0M468.3 498.6h0M468.3 498.7h0M468.3 495.8h0M468.4 502.6h0M468.4 499.5h0M468.3 499.4h0M470.1 497.3h0M469.9 497.8h0M470 499.4h0M470 502.6h0M470.1 500.5h0M470 493h0M471.7 507.2h0M471.7 497.4h0M471.7 499.1h0M471.7 498.9h0M471.7 501.7h0M471.8 503.5h0M473.3 498.8h0M473.4 498.6h0M473.3 505h0M473.4 494.6h0M473.4 496.3h0M473.5 497.9h0M475 499h0M475.1 498.3h0M475.1 496.7h0M475 499h0M476.8 497.3h0M476.8 501.3h0M476.8 497.5h0M476.8 500.8h0M476.8 498.7h0M476.8 501.5h0M476.8 498.9h0M478.4 501.1h0M478.4 498.2h0M478.5 498.5h0M478.5 499.2h0M478.5 498.4h0M478.4 498.5h0M478.5 499.6h0M481.8 501.9h0M481.8 497.6h0M481.9 498.6h0M481.9 501.8h0M481.9 499.3h0M481.9 498.5h0M483.5 499.7h0M483.6 500.8h0M483.5 497.4h0M483.5 498.7h0M483.6 498.5h0M485.2 496.9h0M485.2 498.9h0M485.2 498.8h0M485.2 497.4h0M485.3 498.7h0M486.9 494.2h0M486.9 501.6h0M486.9 497.5h0M486.9 497.2h0M486.8 495.7h0M486.9 498.4h0M486.9 502.8h0M488.6 496.3h0M488.5 498.5h0M488.5 499.4h0M488.6 498.4h0M490.3 497.7h0M490.2 500.3h0M490.3 498.4h0M490.3 498.9h0M492 499h0M492 498h0M491.9 497.3h0M492 498h0M493.7 498.8h0M493.7 498h0M493.6 504.6h0M493.7 498.5h0M493.6 504.5h0M493.5 498.2h0M495.3 497.1h0M495.3 496.2h0M495.4 498.4h0M495.3 497.7h0M498.6 498.4h0M498.7 497.4h0M498.6 498.6h0M498.8 498.7h0M498.6 499.1h0M498.7 499.1h0M498.7 498.3h0M500.4 501.3h0M500.3 498.2h0M500.5 498.6h0M500.3 497.2h0M500.4 499.2h0M500.3 498.5h0M502.1 498.9h0M502 494.6h0M502.1 500.9h0M502.1 495.2h0M502 496h0M505.4 502.8h0M505.5 496.8h0M505.4 500.2h0M505.4 495.1h0M505.4 494.4h0M505.4 507.3h0M507.2 497.3h0M507.1 496.7h0M507.1 501.5h0M507.1 501.4h0M507.1 498.4h0M508.8 496.7h0M508.9 495.9h0M508.9 498.3h0M508.8 497.6h0M508.8 498h0M508.7 499.3h0M508.8 499.3h0M510.5 502h0M510.5 497.4h0M510.4 499.5h0M510.5 494.9h0M510.5 500.1h0M512.1 494.9h0M512.1 494.4h0M512.2 498.8h0M512.2 495.7h0M512.2 501.3h0M512.2 498.5h0M513.9 497.8h0M513.8 496.8h0M513.8 494.3h0M513.9 497.1h0M513.8 500h0M513.9 502.3h0M513.8 498.2h0M515.5 504.1h0M515.6 494.1h0M515.6 501.3h0M515.6 493.3h0M517.3 499.8h0M517.2 494.4h0M517.3 498h0M517.3 499.9h0M518.9 496.4h0M519 501h0M518.9 498.2h0M518.9 497.3h0M522.3 496.9h0M522.2 499.5h0M522.3 498.7h0M522.3 497.2h0M522.2 498.2h0M524 498.3h0M524 498h0M524 497.8h0M524 499.1h0M525.6 497.1h0M525.7 495.8h0M525.8 491.6h0M525.7 493.2h0M525.7 502.8h0M529 498.7h0M529.1 499.8h0M529.1 497h0M529 498.2h0M529 499.6h0M529 497.6h0M529 499.9h0M530.8 494.7h0M530.7 498.7h0M530.7 497.8h0M530.7 497.7h0M530.7 497.3h0M532.5 495.5h0M532.5 501.6h0M532.4 499.6h0M532.4 502.1h0M532.4 497.4h0M532.4 497.9h0M534.1 499.6h0M534.1 496.8h0M534 500.5h0M534.1 498.4h0M535.8 499h0M535.8 493.2h0M535.7 503.6h0M535.9 506.8h0"/></g>
<g fill="none" stroke="#000" stroke-width="2">
<path stroke-width="1.7" d="M196.5 270.2v-10.4M196.5 33v10.4M318.1 270.2v-10.4M318.1 33v10.4M439.7 270.2v-10.4M439.7 33v10.4M105.3 270.2v-5.1M105.3 33v5.1M135.7 270.2v-5.1M135.7 33v5.1M166.1 270.2v-5.1M166.1 33v5.1M226.9 270.2v-5.1M226.9 33v5.1M257.3 270.2v-5.1M257.3 33v5.1M287.7 270.2v-5.1M287.7 33v5.1M348.5 270.2v-5.1M348.5 33v5.1M378.9 270.2v-5.1M378.9 33v5.1M409.3 270.2v-5.1M409.3 33v5.1M470.1 270.2v-5.1M470.1 33v5.1M500.6 270.2v-5.1M500.6 33v5.1M531 270.2v-5.1M531 33v5.1M93 84.6h10.2M550 84.6h-10.2M93 140.7h10.2M550 140.7h-10.2M93 196.9h10.2M550 196.9h-10.2M93 253h10.2M550 253h-10.2M93 39.7h4.6M550 39.7h-4.6M93 50.9h4.6M550 50.9h-4.6M93 62.1h4.6M550 62.1h-4.6M93 73.3h4.6M550 73.3h-4.6M93 95.8h4.6M550 95.8h-4.6M93 107h4.6M550 107h-4.6M93 118.3h4.6M550 118.3h-4.6M93 129.5h4.6M550 129.5h-4.6M93 152h4.6M550 152h-4.6M93 163.2h4.6M550 163.2h-4.6M93 174.4h4.6M550 174.4h-4.6M93 185.6h4.6M550 185.6h-4.6M93 208.1h4.6M550 208.1h-4.6M93 219.3h4.6M550 219.3h-4.6M93 230.6h4.6M550 230.6h-4.6M93 241.8h4.6M550 241.8h-4.6M93 264.3h4.6M550 264.3h-4.6"/>
<path stroke-width="1.7" d="M172 545.1v-10.4M172 307.3v10.4M256.3 545.1v-10.4M256.3 307.3v10.4M340.6 545.1v-10.4M340.6 307.3v10.4M425 545.1v-10.4M425 307.3v10.4M509.3 545.1v-10.4M509.3 307.3v10.4M104.5 545.1v-5.1M104.5 307.3v5.1M121.4 545.1v-5.1M121.4 307.3v5.1M138.3 545.1v-5.1M138.3 307.3v5.1M155.1 545.1v-5.1M155.1 307.3v5.1M188.9 545.1v-5.1M188.9 307.3v5.1M205.7 545.1v-5.1M205.7 307.3v5.1M222.6 545.1v-5.1M222.6 307.3v5.1M239.5 545.1v-5.1M239.5 307.3v5.1M273.2 545.1v-5.1M273.2 307.3v5.1M290 545.1v-5.1M290 307.3v5.1M306.9 545.1v-5.1M306.9 307.3v5.1M323.8 545.1v-5.1M323.8 307.3v5.1M357.5 545.1v-5.1M357.5 307.3v5.1M374.4 545.1v-5.1M374.4 307.3v5.1M391.2 545.1v-5.1M391.2 307.3v5.1M408.1 545.1v-5.1M408.1 307.3v5.1M441.8 545.1v-5.1M441.8 307.3v5.1M458.7 545.1v-5.1M458.7 307.3v5.1M475.6 545.1v-5.1M475.6 307.3v5.1M492.4 545.1v-5.1M492.4 307.3v5.1M526.1 545.1v-5.1M526.1 307.3v5.1M543 545.1v-5.1M543 307.3v5.1M93 325h10.2M550 325h-10.2M93 368.9h10.2M550 368.9h-10.2M93 412.7h10.2M550 412.7h-10.2M93 456.6h10.2M550 456.6h-10.2M93 500.5h10.2M550 500.5h-10.2M93 314h4.6M550 314h-4.6M93 335.9h4.6M550 335.9h-4.6M93 346.9h4.6M550 346.9h-4.6M93 357.9h4.6M550 357.9h-4.6M93 379.8h4.6M550 379.8h-4.6M93 390.8h4.6M550 390.8h-4.6M93 401.8h4.6M550 401.8h-4.6M93 423.7h4.6M550 423.7h-4.6M93 434.7h4.6M550 434.7h-4.6M93 445.6h4.6M550 445.6h-4.6M93 467.6h4.6M550 467.6h-4.6M93 478.6h4.6M550 478.6h-4.6M93 489.5h4.6M550 489.5h-4.6M93 511.5h4.6M550 511.5h-4.6M93 522.4h4.6M550 522.4h-4.6M93 533.4h4.6M550 533.4h-4.6"/>
<rect x="93.0" y="33.0" width="457.0" height="237.2"/>
<rect x="93.0" y="307.3" width="457.0" height="237.8"/>
</g>
<g font-family="'DejaVu Serif', 'Liberation Serif', serif" fill="#000" stroke="#000" stroke-width="0.5">
<g font-size="14.7" letter-spacing="0.3" text-anchor="end">
<text x="84.2" y="89.7">18.5</text>
<text x="84.2" y="145.8">19</text>
<text x="84.2" y="202">19.5</text>
<text x="84.2" y="258.1">20</text>
<text x="84.6" y="330.9">12</text>
<text x="84.6" y="374.8">14</text>
<text x="84.6" y="418.7">16</text>
<text x="84.6" y="462.6">18</text>
<text x="84.6" y="506.4">20</text>
<text x="84.6" y="550.3">22</text>
</g><g font-size="14.7" letter-spacing="0.3" text-anchor="middle">
<text x="196.7" y="290.0">60720</text>
<text x="318.3" y="290.0">60740</text>
<text x="439.9" y="290.0">60760</text>
<text x="172.2" y="563.9">60750</text>
<text x="256.5" y="563.9">60800</text>
<text x="340.8" y="563.9">60850</text>
<text x="425.1" y="563.9">60900</text>
<text x="509.4" y="563.9">60950</text>
</g><g font-size="15.3" text-anchor="middle">
<text x="267.2" y="583.4" font-size="15.2" text-anchor="start"><tspan textLength="27.8" lengthAdjust="spacingAndGlyphs">HJD</tspan><tspan textLength="13.8" lengthAdjust="spacingAndGlyphs">-</tspan>2400000</text>
<text transform="translate(38.2,151.8) rotate(-90)">Magnitude</text>
<text transform="translate(52.7,426) rotate(-90)">Magnitude</text>
</g></g>
</svg>
</body></html>
